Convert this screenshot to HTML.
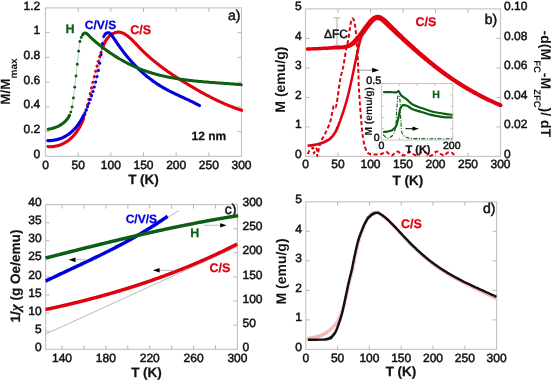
<!DOCTYPE html>
<html><head><meta charset="utf-8"><style>
html,body{margin:0;padding:0;background:#fff;}
svg{display:block;will-change:transform;font-family:"Liberation Sans",sans-serif;text-rendering:geometricPrecision;-webkit-font-smoothing:antialiased;}
</style></head><body>
<svg width="551" height="380" viewBox="0 0 551 380">
<rect width="551" height="380" fill="#fff"/>
<rect x="45.5" y="7.9" width="196.0" height="148.4" fill="none" stroke="#c6c6c6" stroke-width="1.2"/>
<line x1="78.17" y1="156.3" x2="78.17" y2="152.3" stroke="#b8b8b8" stroke-width="1"/>
<line x1="78.17" y1="7.9" x2="78.17" y2="11.9" stroke="#b8b8b8" stroke-width="1"/>
<line x1="110.83" y1="156.3" x2="110.83" y2="152.3" stroke="#b8b8b8" stroke-width="1"/>
<line x1="110.83" y1="7.9" x2="110.83" y2="11.9" stroke="#b8b8b8" stroke-width="1"/>
<line x1="143.50" y1="156.3" x2="143.50" y2="152.3" stroke="#b8b8b8" stroke-width="1"/>
<line x1="143.50" y1="7.9" x2="143.50" y2="11.9" stroke="#b8b8b8" stroke-width="1"/>
<line x1="176.17" y1="156.3" x2="176.17" y2="152.3" stroke="#b8b8b8" stroke-width="1"/>
<line x1="176.17" y1="7.9" x2="176.17" y2="11.9" stroke="#b8b8b8" stroke-width="1"/>
<line x1="208.83" y1="156.3" x2="208.83" y2="152.3" stroke="#b8b8b8" stroke-width="1"/>
<line x1="208.83" y1="7.9" x2="208.83" y2="11.9" stroke="#b8b8b8" stroke-width="1"/>
<line x1="45.5" y1="131.57" x2="49.5" y2="131.57" stroke="#b8b8b8" stroke-width="1"/>
<line x1="241.5" y1="131.57" x2="237.5" y2="131.57" stroke="#b8b8b8" stroke-width="1"/>
<line x1="45.5" y1="106.83" x2="49.5" y2="106.83" stroke="#b8b8b8" stroke-width="1"/>
<line x1="241.5" y1="106.83" x2="237.5" y2="106.83" stroke="#b8b8b8" stroke-width="1"/>
<line x1="45.5" y1="82.10" x2="49.5" y2="82.10" stroke="#b8b8b8" stroke-width="1"/>
<line x1="241.5" y1="82.10" x2="237.5" y2="82.10" stroke="#b8b8b8" stroke-width="1"/>
<line x1="45.5" y1="57.37" x2="49.5" y2="57.37" stroke="#b8b8b8" stroke-width="1"/>
<line x1="241.5" y1="57.37" x2="237.5" y2="57.37" stroke="#b8b8b8" stroke-width="1"/>
<line x1="45.5" y1="32.63" x2="49.5" y2="32.63" stroke="#b8b8b8" stroke-width="1"/>
<line x1="241.5" y1="32.63" x2="237.5" y2="32.63" stroke="#b8b8b8" stroke-width="1"/>
<text x="45.50" y="169.20" font-size="12" text-anchor="middle" font-weight="normal" fill="#111" stroke="#111" stroke-width="0.5" >0</text>
<text x="78.17" y="169.20" font-size="12" text-anchor="middle" font-weight="normal" fill="#111" stroke="#111" stroke-width="0.5" >50</text>
<text x="110.83" y="169.20" font-size="12" text-anchor="middle" font-weight="normal" fill="#111" stroke="#111" stroke-width="0.5" >100</text>
<text x="143.50" y="169.20" font-size="12" text-anchor="middle" font-weight="normal" fill="#111" stroke="#111" stroke-width="0.5" >150</text>
<text x="176.17" y="169.20" font-size="12" text-anchor="middle" font-weight="normal" fill="#111" stroke="#111" stroke-width="0.5" >200</text>
<text x="208.83" y="169.20" font-size="12" text-anchor="middle" font-weight="normal" fill="#111" stroke="#111" stroke-width="0.5" >250</text>
<text x="241.50" y="169.20" font-size="12" text-anchor="middle" font-weight="normal" fill="#111" stroke="#111" stroke-width="0.5" >300</text>
<text x="40.30" y="157.90" font-size="12" text-anchor="end" font-weight="normal" fill="#111" stroke="#111" stroke-width="0.5" >0</text>
<text x="40.30" y="133.17" font-size="12" text-anchor="end" font-weight="normal" fill="#111" stroke="#111" stroke-width="0.5" >0.2</text>
<text x="40.30" y="108.43" font-size="12" text-anchor="end" font-weight="normal" fill="#111" stroke="#111" stroke-width="0.5" >0.4</text>
<text x="40.30" y="83.70" font-size="12" text-anchor="end" font-weight="normal" fill="#111" stroke="#111" stroke-width="0.5" >0.6</text>
<text x="40.30" y="58.97" font-size="12" text-anchor="end" font-weight="normal" fill="#111" stroke="#111" stroke-width="0.5" >0.8</text>
<text x="40.30" y="34.23" font-size="12" text-anchor="end" font-weight="normal" fill="#111" stroke="#111" stroke-width="0.5" >1</text>
<text x="40.30" y="9.50" font-size="12" text-anchor="end" font-weight="normal" fill="#111" stroke="#111" stroke-width="0.5" >1.2</text>
<text x="143.50" y="184.30" font-size="13.5" text-anchor="middle" font-weight="bold" fill="#111" stroke="#111" stroke-width="0.25" >T (K)</text>
<text transform="translate(9.6,81.5) rotate(-90)" font-size="13.5" font-weight="bold" text-anchor="middle" fill="#111">M/M<tspan font-size="10" dy="7">max</tspan></text>
<text x="240.50" y="20.40" font-size="14" text-anchor="end" font-weight="normal" fill="#111" stroke="#111" stroke-width="0.5" >a)</text>
<text x="208.80" y="140.20" font-size="12" text-anchor="middle" font-weight="bold" fill="#111" stroke="#111" stroke-width="0.25" >12 nm</text>
<text x="65.50" y="32.60" font-size="12.5" text-anchor="start" font-weight="bold" fill="#0b5e12" stroke="#0b5e12" stroke-width="0.25" >H</text>
<text x="84.80" y="28.60" font-size="12" text-anchor="start" font-weight="bold" fill="#0000dd" stroke="#0000dd" stroke-width="0.25" >C/V/S</text>
<text x="130.20" y="33.60" font-size="12.5" text-anchor="start" font-weight="bold" fill="#e0000f" stroke="#e0000f" stroke-width="0.25" >C/S</text>
<path d="M48.0,146.6 L48.5,146.7 L49.1,146.7 L49.6,146.7 L50.2,146.7 L50.7,146.7 L51.2,146.7 L51.8,146.6 L52.3,146.6 L52.8,146.6 L53.3,146.5 L53.8,146.5 L54.3,146.4 L54.8,146.3 L55.3,146.2 L55.8,146.1 L56.3,146.0 L56.8,145.9 L57.3,145.8 L57.8,145.7 L58.2,145.5 L58.7,145.4 L59.2,145.3 L59.6,145.1 L60.1,144.9 L60.6,144.8 L61.0,144.6 L61.5,144.4 L61.9,144.2 L62.3,144.0 L62.8,143.8 L63.2,143.6 L63.6,143.4 L64.1,143.2 L64.5,143.0 L64.9,142.7 L65.3,142.5 L65.7,142.2 L66.1,142.0 L66.5,141.7 L66.9,141.5 L67.3,141.2 L67.7,140.9 L68.1,140.6 L68.5,140.4 L68.9,140.1 L69.2,139.8 L69.6,139.5 L70.0,139.2 L70.3,138.8 L70.7,138.5 L71.0,138.2 L71.4,137.9 L71.7,137.5 L72.1,137.2 L72.4,136.9 L72.8,136.5 L73.1,136.2 L73.4,135.8 L73.7,135.5 L74.1,135.1 L74.4,134.7 L74.7,134.4 L75.0,134.0 L75.3,133.6 L75.6,133.2 L75.9,132.8 L76.2,132.5 L76.5,132.1 L76.8,131.7 L77.0,131.3 L77.3,130.9 L77.6,130.5 L77.8,130.1 L78.1,129.7 L78.4,129.2 L78.6,128.8 L78.9,128.4 L79.1,128.0 L79.4,127.6 L79.6,127.1 L79.8,126.7 L80.1,126.3 L80.3,125.8 L80.5,125.4 L80.7,125.0 L81.0,124.5 L81.2,124.1 L81.4,123.7 L81.6,123.2 L81.8,122.8 L82.0,122.3 L82.2,121.9 L82.4,121.4 L82.6,121.0 L82.8,120.5 L82.9,120.1 L83.1,119.6 L83.3,119.1 L83.5,118.7 L83.6,118.2 L83.8,117.8 L84.0,117.3 L84.1,116.8 L84.3,116.4 L84.4,115.9 L84.6,115.4 L84.8,115.0 L84.9,114.5 L85.1,114.0 L85.2,113.6 L85.3,113.1 L85.5,112.6 L85.6,112.1 L85.8,111.7 L85.9,111.2 L86.0,110.7 L86.2,110.2 L86.3,109.8 L86.4,109.3 L86.6,108.8 L86.7,108.3 L86.8,107.9 L86.9,107.4 L87.1,106.9 L87.2,106.4 L87.3,105.9 L87.4,105.5 L87.5,105.0 L87.7,104.5 L87.8,104.0 L87.9,103.5 L88.0,103.1 L88.1,102.6 L88.2,102.1 L88.4,101.6 L88.5,101.2 L88.6,100.7 L88.7,100.2 L88.8,99.7 L88.9,99.2 L89.0,98.8 L89.2,98.3 L89.3,97.8 L89.4,97.3 L89.5,96.9 L89.6,96.4 L89.7,95.9 L89.8,95.4 L89.9,95.0 L90.1,94.5 L90.2,94.0 L90.3,93.5 L90.4,93.1 L90.5,92.6 L90.6,92.1 L90.7,91.6 L90.8,91.2 L90.9,90.7 L91.1,90.2 L91.2,89.7 L91.3,89.3 L91.4,88.8 L91.5,88.3 L91.6,87.8 L91.7,87.4 L91.8,86.9 L91.9,86.4 L92.1,85.9 L92.2,85.5 L92.3,85.0 L92.4,84.5 L92.5,84.1 L92.6,83.6 L92.7,83.1 L92.8,82.6 L93.0,82.2 L93.1,81.7 L93.2,81.2 L93.3,80.8 L93.4,80.3 L93.5,79.8 L93.6,79.3 L93.8,78.9 L93.9,78.4 L94.0,77.9 L94.1,77.4 L94.2,77.0 L94.3,76.5 L94.4,76.0 L94.6,75.6 L94.7,75.1 L94.8,74.6 L94.9,74.1 L95.0,73.7 L95.2,73.2 L95.3,72.7 L95.4,72.3 L95.5,71.8 L95.6,71.3 L95.8,70.8 L95.9,70.4 L96.0,69.9 L96.1,69.4 L96.2,69.0 L96.4,68.5 L96.5,68.0 L96.6,67.5 L96.7,67.1 L96.9,66.6 L97.0,66.1 L97.1,65.7 L97.2,65.2 L97.4,64.7 L97.5,64.2 L97.6,63.8 L97.8,63.3 L97.9,62.8 L98.0,62.3 L98.2,61.9 L98.3,61.4 L98.4,60.9 L98.6,60.5 L98.7,60.0 L98.8,59.5 L99.0,59.0 L99.1,58.6 L99.3,58.1 L99.4,57.6 L99.5,57.1 L99.7,56.7 L99.8,56.2 L100.0,55.7 L100.1,55.2 L100.3,54.8 L100.4,54.3 L100.5,53.8 L100.7,53.3 L100.8,52.9 L101.0,52.4 L101.1,51.9 L101.3,51.4 L101.4,51.0 L101.6,50.5 L101.8,50.0 L101.9,49.5 L102.1,49.1 L102.2,48.6 L102.4,48.1 L102.6,47.6 L102.7,47.2 L102.9,46.7 L103.1,46.2 L103.3,45.8 L103.5,45.3 L103.7,44.9 L103.9,44.4 L104.1,43.9 L104.3,43.5 L104.5,43.1 L104.7,42.6 L104.9,42.2 L105.2,41.8 L105.4,41.3 L105.6,40.9 L105.9,40.5 L106.1,40.1 L106.4,39.7 L106.7,39.3 L107.0,38.9 L107.3,38.5 L107.6,38.1 L107.9,37.8 L108.2,37.4 L108.5,37.0 L108.9,36.7 L109.2,36.3 L109.6,36.0 L109.9,35.7 L110.3,35.4 L110.7,35.1 L111.1,34.8 L111.5,34.5 L111.9,34.2 L112.3,34.0 L112.7,33.7 L113.2,33.5 L113.6,33.3 L114.0,33.1 L114.5,32.9 L114.9,32.7 L115.4,32.6 L115.8,32.4 L116.3,32.3 L116.8,32.2 L117.2,32.2 L117.7,32.1 L118.1,32.1 L118.6,32.1 L119.1,32.1 L119.5,32.2 L120.0,32.2 L120.4,32.3 L120.9,32.4 L121.3,32.6 L121.8,32.7 L122.2,32.9 L122.7,33.0 L123.1,33.2 L123.5,33.5 L124.0,33.7 L124.4,33.9 L124.8,34.2 L125.2,34.4 L125.7,34.7 L126.1,35.0 L126.5,35.2 L126.9,35.5 L127.3,35.8 L127.7,36.1 L128.1,36.4 L128.5,36.7 L128.9,37.0 L129.2,37.4 L129.6,37.7 L130.0,38.0 L130.4,38.3 L130.7,38.7 L131.1,39.0 L131.5,39.3 L131.8,39.7 L132.2,40.0 L132.5,40.4 L132.9,40.7 L133.2,41.1 L133.6,41.4 L133.9,41.8 L134.3,42.1 L134.6,42.5 L135.0,42.8 L135.3,43.2 L135.6,43.6 L136.0,43.9 L136.3,44.3 L136.7,44.6 L137.0,45.0 L137.3,45.4 L137.7,45.7 L138.0,46.1 L138.3,46.4 L138.7,46.8 L139.0,47.2 L139.4,47.5 L139.7,47.9 L140.0,48.2 L140.4,48.6 L140.7,48.9 L141.1,49.3 L141.4,49.6 L141.8,50.0 L142.1,50.3 L142.5,50.7 L142.8,51.0 L143.2,51.4 L143.5,51.7 L143.9,52.0 L144.2,52.4 L144.6,52.7 L145.0,53.1 L145.3,53.4 L145.7,53.7 L146.0,54.1 L146.4,54.4 L146.7,54.7 L147.1,55.1 L147.5,55.4 L147.8,55.7 L148.2,56.1 L148.6,56.4 L148.9,56.7 L149.3,57.0 L149.7,57.4 L150.0,57.7 L150.4,58.0 L150.8,58.3 L151.1,58.6 L151.5,59.0 L151.9,59.3 L152.3,59.6 L152.6,59.9 L153.0,60.2 L153.4,60.5 L153.8,60.8 L154.1,61.2 L154.5,61.5 L154.9,61.8 L155.3,62.1 L155.7,62.4 L156.0,62.7 L156.4,63.0 L156.8,63.3 L157.2,63.6 L157.6,63.9 L158.0,64.2 L158.3,64.5 L158.7,64.8 L159.1,65.1 L159.5,65.4 L159.9,65.7 L160.3,66.0 L160.7,66.3 L161.1,66.6 L161.4,66.9 L161.8,67.2 L162.2,67.5 L162.6,67.8 L163.0,68.1 L163.4,68.3 L163.8,68.6 L164.2,68.9 L164.6,69.2 L165.0,69.5 L165.4,69.8 L165.8,70.1 L166.2,70.3 L166.6,70.6 L167.0,70.9 L167.4,71.2 L167.8,71.5 L168.2,71.8 L168.6,72.0 L169.0,72.3 L169.4,72.6 L169.8,72.9 L170.2,73.1 L170.6,73.4 L171.0,73.7 L171.4,74.0 L171.8,74.2 L172.2,74.5 L172.6,74.8 L173.0,75.1 L173.4,75.3 L173.8,75.6 L174.2,75.9 L174.7,76.1 L175.1,76.4 L175.5,76.7 L175.9,76.9 L176.3,77.2 L176.7,77.5 L177.1,77.7 L177.5,78.0 L177.9,78.3 L178.3,78.5 L178.8,78.8 L179.2,79.1 L179.6,79.3 L180.0,79.6 L180.4,79.8 L180.8,80.1 L181.2,80.4 L181.7,80.6 L182.1,80.9 L182.5,81.1 L182.9,81.4 L183.3,81.6 L183.7,81.9 L184.1,82.2 L184.6,82.4 L185.0,82.7 L185.4,82.9 L185.8,83.2 L186.2,83.4 L186.7,83.7 L187.1,83.9 L187.5,84.2 L187.9,84.4 L188.3,84.7 L188.8,84.9 L189.2,85.2 L189.6,85.4 L190.0,85.7 L190.4,85.9 L190.9,86.2 L191.3,86.4 L191.7,86.7 L192.1,86.9 L192.5,87.2 L193.0,87.4 L193.4,87.7 L193.8,87.9 L194.2,88.2 L194.6,88.4 L195.1,88.7 L195.5,88.9 L195.9,89.1 L196.3,89.4 L196.8,89.6 L197.2,89.9 L197.6,90.1 L198.0,90.4 L198.5,90.6 L198.9,90.8 L199.3,91.1 L199.7,91.3 L200.2,91.6 L200.6,91.8 L201.0,92.0 L201.4,92.3 L201.9,92.5 L202.3,92.7 L202.7,93.0 L203.2,93.2 L203.6,93.4 L204.0,93.7 L204.4,93.9 L204.9,94.1 L205.3,94.4 L205.7,94.6 L206.2,94.8 L206.6,95.1 L207.0,95.3 L207.4,95.5 L207.9,95.7 L208.3,96.0 L208.7,96.2 L209.2,96.4 L209.6,96.6 L210.0,96.9 L210.5,97.1 L210.9,97.3 L211.3,97.5 L211.8,97.8 L212.2,98.0 L212.7,98.2 L213.1,98.4 L213.5,98.6 L214.0,98.8 L214.4,99.1 L214.8,99.3 L215.3,99.5 L215.7,99.7 L216.2,99.9 L216.6,100.1 L217.0,100.3 L217.5,100.6 L217.9,100.8 L218.4,101.0 L218.8,101.2 L219.2,101.4 L219.7,101.6 L220.1,101.8 L220.6,102.0 L221.0,102.2 L221.5,102.4 L221.9,102.6 L222.3,102.8 L222.8,103.0 L223.2,103.2 L223.7,103.4 L224.1,103.6 L224.6,103.8 L225.0,104.0 L225.5,104.2 L225.9,104.4 L226.4,104.6 L226.8,104.8 L227.3,104.9 L227.7,105.1 L228.2,105.3 L228.6,105.5 L229.1,105.7 L229.5,105.9 L230.0,106.1 L230.5,106.2 L230.9,106.4 L231.4,106.6 L231.8,106.8 L232.3,107.0 L232.7,107.1 L233.2,107.3 L233.7,107.5 L234.1,107.7 L234.6,107.8 L235.0,108.0 L235.5,108.2 L236.0,108.3 L236.4,108.5 L236.9,108.7 L237.4,108.8 L237.8,109.0 L238.3,109.2 L238.8,109.3 L239.2,109.5 L239.7,109.6 L240.2,109.8 L240.6,110.0 L241.1,110.1 L241.6,110.3" fill="none" stroke="#e0000f" stroke-width="0.7" opacity="0.45"/>
<path d="M48.0,146.6 L48.5,146.7 L49.1,146.7 L49.6,146.7 L50.2,146.7 L50.7,146.7 L51.2,146.7 L51.8,146.6 L52.3,146.6 L52.8,146.6 L53.3,146.5 L53.8,146.5 L54.3,146.4 L54.8,146.3 L55.3,146.2 L55.8,146.1 L56.3,146.0 L56.8,145.9 L57.3,145.8 L57.8,145.7 L58.2,145.5 L58.7,145.4 L59.2,145.3 L59.6,145.1 L60.1,144.9 L60.6,144.8 L61.0,144.6 L61.5,144.4 L61.9,144.2 L62.3,144.0 L62.8,143.8 L63.2,143.6 L63.6,143.4 L64.1,143.2 L64.5,143.0 L64.9,142.7 L65.3,142.5 L65.7,142.2 L66.1,142.0 L66.5,141.7 L66.9,141.5 L67.3,141.2 L67.7,140.9 L68.1,140.6 L68.5,140.4 L68.9,140.1 L69.2,139.8 L69.6,139.5 L70.0,139.2 L70.3,138.8 L70.7,138.5 L71.0,138.2 L71.4,137.9 L71.7,137.5 L72.1,137.2 L72.4,136.9 L72.8,136.5 L73.1,136.2 L73.4,135.8 L73.7,135.5 L74.1,135.1 L74.4,134.7 L74.7,134.4 L75.0,134.0 L75.3,133.6 L75.6,133.2 L75.9,132.8 L76.2,132.5 L76.5,132.1 L76.8,131.7 L77.0,131.3 L77.3,130.9 L77.6,130.5 L77.8,130.1 L78.1,129.7 L78.4,129.2 L78.6,128.8 L78.9,128.4 L79.1,128.0 L79.4,127.6 L79.6,127.1 L79.8,126.7 L80.1,126.3 L80.3,125.8 L80.5,125.4 L80.7,125.0 L81.0,124.5 L81.2,124.1 L81.4,123.7 L81.6,123.2 L81.8,122.8 L82.0,122.3 L82.2,121.9 L82.4,121.4 L82.6,121.0 L82.8,120.5 L82.9,120.1 L83.1,119.6 L83.3,119.1 L83.5,118.7" fill="none" stroke="#e0000f" stroke-width="3.1" stroke-linecap="round"/>
<g fill="#e0000f"><circle cx="83.50" cy="118.59" r="1.55"/><circle cx="84.85" cy="114.67" r="1.55"/><circle cx="86.20" cy="110.11" r="1.55"/><circle cx="87.55" cy="104.93" r="1.55"/><circle cx="88.90" cy="99.35" r="1.55"/><circle cx="90.25" cy="93.64" r="1.55"/><circle cx="91.60" cy="87.90" r="1.55"/><circle cx="92.95" cy="82.20" r="1.55"/><circle cx="94.30" cy="76.63" r="1.55"/><circle cx="95.65" cy="71.25" r="1.55"/><circle cx="97.00" cy="66.10" r="1.55"/><circle cx="98.35" cy="61.21" r="1.55"/><circle cx="99.70" cy="56.58" r="1.55"/><circle cx="101.05" cy="52.20" r="1.55"/><circle cx="102.40" cy="48.12" r="1.55"/></g>
<path d="M103.3,45.8 L103.5,45.3 L103.7,44.9 L103.9,44.4 L104.1,43.9 L104.3,43.5 L104.5,43.1 L104.7,42.6 L104.9,42.2 L105.2,41.8 L105.4,41.3 L105.6,40.9 L105.9,40.5 L106.1,40.1 L106.4,39.7 L106.7,39.3 L107.0,38.9 L107.3,38.5 L107.6,38.1 L107.9,37.8 L108.2,37.4 L108.5,37.0 L108.9,36.7 L109.2,36.3 L109.6,36.0 L109.9,35.7 L110.3,35.4 L110.7,35.1 L111.1,34.8 L111.5,34.5 L111.9,34.2 L112.3,34.0 L112.7,33.7 L113.2,33.5 L113.6,33.3 L114.0,33.1 L114.5,32.9 L114.9,32.7 L115.4,32.6 L115.8,32.4 L116.3,32.3 L116.8,32.2 L117.2,32.2 L117.7,32.1 L118.1,32.1 L118.6,32.1 L119.1,32.1 L119.5,32.2 L120.0,32.2 L120.4,32.3 L120.9,32.4 L121.3,32.6 L121.8,32.7 L122.2,32.9 L122.7,33.0 L123.1,33.2 L123.5,33.5 L124.0,33.7 L124.4,33.9 L124.8,34.2 L125.2,34.4 L125.7,34.7 L126.1,35.0 L126.5,35.2 L126.9,35.5 L127.3,35.8 L127.7,36.1 L128.1,36.4 L128.5,36.7 L128.9,37.0 L129.2,37.4 L129.6,37.7 L130.0,38.0 L130.4,38.3 L130.7,38.7 L131.1,39.0 L131.5,39.3 L131.8,39.7 L132.2,40.0 L132.5,40.4 L132.9,40.7 L133.2,41.1 L133.6,41.4 L133.9,41.8 L134.3,42.1 L134.6,42.5 L135.0,42.8 L135.3,43.2 L135.6,43.6 L136.0,43.9 L136.3,44.3 L136.7,44.6 L137.0,45.0 L137.3,45.4 L137.7,45.7 L138.0,46.1 L138.3,46.4 L138.7,46.8 L139.0,47.2 L139.4,47.5 L139.7,47.9 L140.0,48.2 L140.4,48.6 L140.7,48.9 L141.1,49.3 L141.4,49.6 L141.8,50.0 L142.1,50.3 L142.5,50.7 L142.8,51.0 L143.2,51.4 L143.5,51.7 L143.9,52.0 L144.2,52.4 L144.6,52.7 L145.0,53.1 L145.3,53.4 L145.7,53.7 L146.0,54.1 L146.4,54.4 L146.7,54.7 L147.1,55.1 L147.5,55.4 L147.8,55.7 L148.2,56.1 L148.6,56.4 L148.9,56.7 L149.3,57.0 L149.7,57.4 L150.0,57.7 L150.4,58.0 L150.8,58.3 L151.1,58.6 L151.5,59.0 L151.9,59.3 L152.3,59.6 L152.6,59.9 L153.0,60.2 L153.4,60.5 L153.8,60.8 L154.1,61.2 L154.5,61.5 L154.9,61.8 L155.3,62.1 L155.7,62.4 L156.0,62.7 L156.4,63.0 L156.8,63.3 L157.2,63.6 L157.6,63.9 L158.0,64.2 L158.3,64.5 L158.7,64.8 L159.1,65.1 L159.5,65.4 L159.9,65.7 L160.3,66.0 L160.7,66.3 L161.1,66.6 L161.4,66.9 L161.8,67.2 L162.2,67.5 L162.6,67.8 L163.0,68.1 L163.4,68.3 L163.8,68.6 L164.2,68.9 L164.6,69.2 L165.0,69.5 L165.4,69.8 L165.8,70.1 L166.2,70.3 L166.6,70.6 L167.0,70.9 L167.4,71.2 L167.8,71.5 L168.2,71.8 L168.6,72.0 L169.0,72.3 L169.4,72.6 L169.8,72.9 L170.2,73.1 L170.6,73.4 L171.0,73.7 L171.4,74.0 L171.8,74.2 L172.2,74.5 L172.6,74.8 L173.0,75.1 L173.4,75.3 L173.8,75.6 L174.2,75.9 L174.7,76.1 L175.1,76.4 L175.5,76.7 L175.9,76.9 L176.3,77.2 L176.7,77.5 L177.1,77.7 L177.5,78.0 L177.9,78.3 L178.3,78.5 L178.8,78.8 L179.2,79.1 L179.6,79.3 L180.0,79.6 L180.4,79.8 L180.8,80.1 L181.2,80.4 L181.7,80.6 L182.1,80.9 L182.5,81.1 L182.9,81.4 L183.3,81.6 L183.7,81.9 L184.1,82.2 L184.6,82.4 L185.0,82.7 L185.4,82.9 L185.8,83.2 L186.2,83.4 L186.7,83.7 L187.1,83.9 L187.5,84.2 L187.9,84.4 L188.3,84.7 L188.8,84.9 L189.2,85.2 L189.6,85.4 L190.0,85.7 L190.4,85.9 L190.9,86.2 L191.3,86.4 L191.7,86.7 L192.1,86.9 L192.5,87.2 L193.0,87.4 L193.4,87.7 L193.8,87.9 L194.2,88.2 L194.6,88.4 L195.1,88.7 L195.5,88.9 L195.9,89.1 L196.3,89.4 L196.8,89.6 L197.2,89.9 L197.6,90.1 L198.0,90.4 L198.5,90.6 L198.9,90.8 L199.3,91.1 L199.7,91.3 L200.2,91.6 L200.6,91.8 L201.0,92.0 L201.4,92.3 L201.9,92.5 L202.3,92.7 L202.7,93.0 L203.2,93.2 L203.6,93.4 L204.0,93.7 L204.4,93.9 L204.9,94.1 L205.3,94.4 L205.7,94.6 L206.2,94.8 L206.6,95.1 L207.0,95.3 L207.4,95.5 L207.9,95.7 L208.3,96.0 L208.7,96.2 L209.2,96.4 L209.6,96.6 L210.0,96.9 L210.5,97.1 L210.9,97.3 L211.3,97.5 L211.8,97.8 L212.2,98.0 L212.7,98.2 L213.1,98.4 L213.5,98.6 L214.0,98.8 L214.4,99.1 L214.8,99.3 L215.3,99.5 L215.7,99.7 L216.2,99.9 L216.6,100.1 L217.0,100.3 L217.5,100.6 L217.9,100.8 L218.4,101.0 L218.8,101.2 L219.2,101.4 L219.7,101.6 L220.1,101.8 L220.6,102.0 L221.0,102.2 L221.5,102.4 L221.9,102.6 L222.3,102.8 L222.8,103.0 L223.2,103.2 L223.7,103.4 L224.1,103.6 L224.6,103.8 L225.0,104.0 L225.5,104.2 L225.9,104.4 L226.4,104.6 L226.8,104.8 L227.3,104.9 L227.7,105.1 L228.2,105.3 L228.6,105.5 L229.1,105.7 L229.5,105.9 L230.0,106.1 L230.5,106.2 L230.9,106.4 L231.4,106.6 L231.8,106.8 L232.3,107.0 L232.7,107.1 L233.2,107.3 L233.7,107.5 L234.1,107.7 L234.6,107.8 L235.0,108.0 L235.5,108.2 L236.0,108.3 L236.4,108.5 L236.9,108.7 L237.4,108.8 L237.8,109.0 L238.3,109.2 L238.8,109.3 L239.2,109.5 L239.7,109.6 L240.2,109.8 L240.6,110.0 L241.1,110.1 L241.6,110.3" fill="none" stroke="#e0000f" stroke-width="3.1" stroke-linecap="round"/>
<path d="M47.7,140.6 L48.3,140.6 L48.8,140.6 L49.2,140.6 L49.7,140.6 L50.2,140.6 L50.7,140.5 L51.2,140.5 L51.7,140.5 L52.1,140.4 L52.6,140.4 L53.1,140.3 L53.5,140.2 L54.0,140.2 L54.4,140.1 L54.9,140.0 L55.3,139.9 L55.8,139.9 L56.2,139.8 L56.7,139.7 L57.1,139.6 L57.5,139.5 L57.9,139.3 L58.4,139.2 L58.8,139.1 L59.2,139.0 L59.6,138.8 L60.0,138.7 L60.4,138.6 L60.8,138.4 L61.2,138.3 L61.6,138.1 L62.0,138.0 L62.4,137.8 L62.8,137.6 L63.1,137.4 L63.5,137.3 L63.9,137.1 L64.3,136.9 L64.6,136.7 L65.0,136.5 L65.4,136.3 L65.7,136.1 L66.1,135.9 L66.4,135.7 L66.8,135.5 L67.1,135.3 L67.5,135.0 L67.8,134.8 L68.1,134.6 L68.5,134.4 L68.8,134.1 L69.1,133.9 L69.4,133.6 L69.8,133.4 L70.1,133.1 L70.4,132.9 L70.7,132.6 L71.0,132.4 L71.3,132.1 L71.6,131.8 L71.9,131.5 L72.2,131.3 L72.5,131.0 L72.8,130.7 L73.1,130.4 L73.4,130.1 L73.7,129.8 L74.0,129.5 L74.3,129.3 L74.5,129.0 L74.8,128.6 L75.1,128.3 L75.4,128.0 L75.6,127.7 L75.9,127.4 L76.2,127.1 L76.4,126.8 L76.7,126.4 L76.9,126.1 L77.2,125.8 L77.4,125.5 L77.7,125.1 L77.9,124.8 L78.2,124.5 L78.4,124.1 L78.7,123.8 L78.9,123.4 L79.1,123.1 L79.4,122.7 L79.6,122.4 L79.8,122.0 L80.1,121.7 L80.3,121.3 L80.5,121.0 L80.7,120.6 L80.9,120.3 L81.2,119.9 L81.4,119.5 L81.6,119.2 L81.8,118.8 L82.0,118.4 L82.2,118.0 L82.4,117.7 L82.6,117.3 L82.8,116.9 L83.0,116.5 L83.2,116.2 L83.4,115.8 L83.6,115.4 L83.8,115.0 L84.0,114.6 L84.2,114.2 L84.4,113.9 L84.6,113.5 L84.8,113.1 L84.9,112.7 L85.1,112.3 L85.3,111.9 L85.5,111.5 L85.7,111.1 L85.8,110.7 L86.0,110.3 L86.2,109.9 L86.4,109.5 L86.5,109.1 L86.7,108.7 L86.9,108.3 L87.0,107.9 L87.2,107.5 L87.4,107.1 L87.5,106.7 L87.7,106.3 L87.9,105.9 L88.0,105.5 L88.2,105.1 L88.3,104.7 L88.5,104.3 L88.6,103.9 L88.8,103.5 L88.9,103.1 L89.1,102.7 L89.2,102.3 L89.4,101.9 L89.5,101.5 L89.7,101.1 L89.8,100.7 L90.0,100.3 L90.1,99.9 L90.3,99.5 L90.4,99.1 L90.6,98.7 L90.7,98.3 L90.8,97.9 L91.0,97.5 L91.1,97.1 L91.2,96.7 L91.4,96.3 L91.5,95.9 L91.7,95.5 L91.8,95.1 L91.9,94.7 L92.0,94.3 L92.2,93.9 L92.3,93.5 L92.4,93.1 L92.6,92.7 L92.7,92.3 L92.8,91.9 L92.9,91.5 L93.1,91.1 L93.2,90.7 L93.3,90.3 L93.4,89.9 L93.6,89.5 L93.7,89.1 L93.8,88.7 L93.9,88.3 L94.0,87.9 L94.2,87.5 L94.3,87.1 L94.4,86.7 L94.5,86.3 L94.6,85.9 L94.7,85.5 L94.8,85.1 L94.9,84.7 L95.1,84.3 L95.2,83.9 L95.3,83.5 L95.4,83.1 L95.5,82.7 L95.6,82.3 L95.7,81.9 L95.8,81.5 L95.9,81.1 L96.0,80.7 L96.1,80.2 L96.2,79.8 L96.3,79.4 L96.4,79.0 L96.5,78.6 L96.6,78.2 L96.7,77.8 L96.8,77.4 L96.9,77.0 L97.0,76.6 L97.1,76.2 L97.2,75.8 L97.3,75.4 L97.4,75.0 L97.5,74.6 L97.6,74.2 L97.6,73.8 L97.7,73.3 L97.8,72.9 L97.9,72.5 L98.0,72.1 L98.1,71.7 L98.2,71.3 L98.3,70.9 L98.3,70.5 L98.4,70.1 L98.5,69.6 L98.6,69.2 L98.7,68.8 L98.8,68.4 L98.8,68.0 L98.9,67.6 L99.0,67.2 L99.1,66.7 L99.1,66.3 L99.2,65.9 L99.3,65.5 L99.4,65.1 L99.5,64.7 L99.5,64.2 L99.6,63.8 L99.7,63.4 L99.7,63.0 L99.8,62.6 L99.9,62.1 L100.0,61.7 L100.0,61.3 L100.1,60.9 L100.2,60.4 L100.2,60.0 L100.3,59.6 L100.4,59.2 L100.4,58.7 L100.5,58.3 L100.6,57.9 L100.6,57.4 L100.7,57.0 L100.8,56.6 L100.8,56.1 L100.9,55.7 L101.0,55.3 L101.0,54.8 L101.1,54.4 L101.1,54.0 L101.2,53.5 L101.3,53.1 L101.3,52.7 L101.4,52.2 L101.4,51.8 L101.5,51.4 L101.5,50.9 L101.6,50.5 L101.7,50.0 L101.7,49.6 L101.8,49.1 L101.8,48.7 L101.9,48.2 L101.9,47.8 L102.0,47.4 L102.0,46.9 L102.1,46.5 L102.1,46.0 L102.2,45.6 L102.2,45.1 L102.3,44.6 L102.3,44.2 L102.4,43.7 L102.4,43.3 L102.5,42.8 L102.5,42.4 L102.6,41.9 L102.6,41.5 L102.7,41.0 L102.8,40.6 L102.8,40.2 L102.9,39.7 L103.0,39.3 L103.1,38.9 L103.1,38.5 L103.2,38.1 L103.4,37.7 L103.5,37.3 L103.6,36.9 L103.7,36.6 L103.9,36.2 L104.0,35.9 L104.2,35.5 L104.4,35.2 L104.5,34.9 L104.7,34.7 L105.0,34.4 L105.2,34.1 L105.4,33.9 L105.7,33.7 L105.9,33.5 L106.2,33.3 L106.5,33.1 L106.9,33.0 L107.2,32.9 L107.5,32.8 L107.9,32.7 L108.2,32.7 L108.5,32.8 L108.9,32.8 L109.2,32.9 L109.5,33.1 L109.8,33.3 L110.2,33.5 L110.5,33.8 L110.8,34.1 L111.0,34.4 L111.3,34.7 L111.6,35.1 L111.9,35.5 L112.2,35.9 L112.4,36.2 L112.7,36.6 L113.0,37.0 L113.2,37.4 L113.5,37.8 L113.8,38.2 L114.0,38.6 L114.3,38.9 L114.5,39.3 L114.8,39.7 L115.0,40.1 L115.3,40.4 L115.5,40.8 L115.8,41.2 L116.0,41.5 L116.3,41.9 L116.5,42.2 L116.7,42.6 L117.0,42.9 L117.2,43.3 L117.5,43.6 L117.7,44.0 L117.9,44.3 L118.2,44.7 L118.4,45.0 L118.7,45.4 L118.9,45.7 L119.1,46.0 L119.4,46.4 L119.6,46.7 L119.9,47.1 L120.1,47.4 L120.3,47.7 L120.6,48.1 L120.8,48.4 L121.1,48.7 L121.3,49.1 L121.6,49.4 L121.8,49.7 L122.1,50.1 L122.3,50.4 L122.6,50.7 L122.8,51.1 L123.1,51.4 L123.3,51.7 L123.6,52.1 L123.8,52.4 L124.1,52.7 L124.3,53.1 L124.6,53.4 L124.9,53.7 L125.1,54.0 L125.4,54.4 L125.7,54.7 L125.9,55.0 L126.2,55.4 L126.4,55.7 L126.7,56.0 L127.0,56.3 L127.2,56.7 L127.5,57.0 L127.8,57.3 L128.1,57.6 L128.3,57.9 L128.6,58.3 L128.9,58.6 L129.2,58.9 L129.4,59.2 L129.7,59.6 L130.0,59.9 L130.3,60.2 L130.5,60.5 L130.8,60.8 L131.1,61.1 L131.4,61.5 L131.7,61.8 L132.0,62.1 L132.2,62.4 L132.5,62.7 L132.8,63.0 L133.1,63.3 L133.4,63.6 L133.7,63.9 L134.0,64.3 L134.3,64.6 L134.6,64.9 L134.9,65.2 L135.2,65.5 L135.5,65.8 L135.8,66.1 L136.0,66.4 L136.3,66.7 L136.6,67.0 L136.9,67.3 L137.2,67.6 L137.6,67.9 L137.9,68.2 L138.2,68.5 L138.5,68.8 L138.8,69.1 L139.1,69.4 L139.4,69.7 L139.7,70.0 L140.0,70.3 L140.3,70.6 L140.6,70.8 L140.9,71.1 L141.3,71.4 L141.6,71.7 L141.9,72.0 L142.2,72.3 L142.5,72.6 L142.8,72.8 L143.1,73.1 L143.5,73.4 L143.8,73.7 L144.1,74.0 L144.4,74.2 L144.8,74.5 L145.1,74.8 L145.4,75.1 L145.7,75.4 L146.1,75.6 L146.4,75.9 L146.7,76.2 L147.0,76.4 L147.4,76.7 L147.7,77.0 L148.0,77.2 L148.4,77.5 L148.7,77.8 L149.0,78.0 L149.4,78.3 L149.7,78.6 L150.0,78.8 L150.4,79.1 L150.7,79.3 L151.1,79.6 L151.4,79.8 L151.7,80.1 L152.1,80.4 L152.4,80.6 L152.8,80.9 L153.1,81.1 L153.4,81.4 L153.8,81.6 L154.1,81.8 L154.5,82.1 L154.8,82.3 L155.2,82.6 L155.5,82.8 L155.9,83.1 L156.2,83.3 L156.6,83.5 L156.9,83.8 L157.3,84.0 L157.6,84.2 L158.0,84.5 L158.4,84.7 L158.7,84.9 L159.1,85.1 L159.4,85.4 L159.8,85.6 L160.1,85.8 L160.5,86.0 L160.9,86.3 L161.2,86.5 L161.6,86.7 L162.0,86.9 L162.3,87.1 L162.7,87.3 L163.1,87.6 L163.4,87.8 L163.8,88.0 L164.2,88.2 L164.5,88.4 L164.9,88.6 L165.3,88.8 L165.6,89.0 L166.0,89.2 L166.4,89.4 L166.7,89.6 L167.1,89.8 L167.5,90.0 L167.9,90.2 L168.2,90.4 L168.6,90.6 L169.0,90.8 L169.4,91.0 L169.7,91.2 L170.1,91.4 L170.5,91.5 L170.9,91.7 L171.3,91.9 L171.6,92.1 L172.0,92.3 L172.4,92.5 L172.8,92.7 L173.1,92.9 L173.5,93.0 L173.9,93.2 L174.3,93.4 L174.7,93.6 L175.1,93.8 L175.4,94.0 L175.8,94.1 L176.2,94.3 L176.6,94.5 L177.0,94.7 L177.3,94.9 L177.7,95.0 L178.1,95.2 L178.5,95.4 L178.9,95.6 L179.3,95.8 L179.6,95.9 L180.0,96.1 L180.4,96.3 L180.8,96.5 L181.2,96.7 L181.6,96.8 L182.0,97.0 L182.3,97.2 L182.7,97.4 L183.1,97.5 L183.5,97.7 L183.9,97.9 L184.3,98.1 L184.6,98.3 L185.0,98.4 L185.4,98.6 L185.8,98.8 L186.2,99.0 L186.6,99.1 L187.0,99.3 L187.3,99.5 L187.7,99.7 L188.1,99.9 L188.5,100.0 L188.9,100.2 L189.3,100.4 L189.6,100.6 L190.0,100.8 L190.4,101.0 L190.8,101.1 L191.2,101.3 L191.5,101.5 L191.9,101.7 L192.3,101.9 L192.7,102.1 L193.1,102.2 L193.5,102.4 L193.8,102.6 L194.2,102.8 L194.6,103.0 L195.0,103.2 L195.3,103.4 L195.7,103.6 L196.1,103.8 L196.5,104.0 L196.9,104.2 L197.2,104.4 L197.6,104.6 L198.0,104.7 L198.4,104.9 L198.7,105.1 L199.1,105.3 L199.5,105.6" fill="none" stroke="#0000dd" stroke-width="0.7" opacity="0.45"/>
<path d="M47.7,140.6 L48.3,140.6 L48.8,140.6 L49.2,140.6 L49.7,140.6 L50.2,140.6 L50.7,140.5 L51.2,140.5 L51.7,140.5 L52.1,140.4 L52.6,140.4 L53.1,140.3 L53.5,140.2 L54.0,140.2 L54.4,140.1 L54.9,140.0 L55.3,139.9 L55.8,139.9 L56.2,139.8 L56.7,139.7 L57.1,139.6 L57.5,139.5 L57.9,139.3 L58.4,139.2 L58.8,139.1 L59.2,139.0 L59.6,138.8 L60.0,138.7 L60.4,138.6 L60.8,138.4 L61.2,138.3 L61.6,138.1 L62.0,138.0 L62.4,137.8 L62.8,137.6 L63.1,137.4 L63.5,137.3 L63.9,137.1 L64.3,136.9 L64.6,136.7 L65.0,136.5 L65.4,136.3 L65.7,136.1 L66.1,135.9 L66.4,135.7 L66.8,135.5 L67.1,135.3 L67.5,135.0 L67.8,134.8 L68.1,134.6 L68.5,134.4 L68.8,134.1 L69.1,133.9 L69.4,133.6 L69.8,133.4 L70.1,133.1 L70.4,132.9 L70.7,132.6 L71.0,132.4 L71.3,132.1 L71.6,131.8 L71.9,131.5 L72.2,131.3 L72.5,131.0 L72.8,130.7 L73.1,130.4 L73.4,130.1 L73.7,129.8 L74.0,129.5 L74.3,129.3 L74.5,129.0 L74.8,128.6 L75.1,128.3 L75.4,128.0 L75.6,127.7 L75.9,127.4 L76.2,127.1 L76.4,126.8 L76.7,126.4 L76.9,126.1 L77.2,125.8 L77.4,125.5 L77.7,125.1 L77.9,124.8 L78.2,124.5 L78.4,124.1 L78.7,123.8 L78.9,123.4 L79.1,123.1 L79.4,122.7 L79.6,122.4 L79.8,122.0 L80.1,121.7 L80.3,121.3 L80.5,121.0 L80.7,120.6 L80.9,120.3 L81.2,119.9 L81.4,119.5 L81.6,119.2 L81.8,118.8 L82.0,118.4 L82.2,118.0 L82.4,117.7 L82.6,117.3 L82.8,116.9 L83.0,116.5 L83.2,116.2 L83.4,115.8" fill="none" stroke="#0000dd" stroke-width="3.1" stroke-linecap="round"/>
<g fill="#0000dd"><circle cx="83.50" cy="115.65" r="1.55"/><circle cx="84.85" cy="112.89" r="1.55"/><circle cx="86.20" cy="109.91" r="1.55"/><circle cx="87.55" cy="106.69" r="1.55"/><circle cx="88.90" cy="103.23" r="1.55"/><circle cx="90.25" cy="99.55" r="1.55"/><circle cx="91.60" cy="95.64" r="1.55"/><circle cx="92.95" cy="91.47" r="1.55"/><circle cx="94.30" cy="86.97" r="1.55"/><circle cx="95.65" cy="82.05" r="1.55"/><circle cx="97.00" cy="76.59" r="1.55"/><circle cx="98.35" cy="70.42" r="1.55"/><circle cx="99.70" cy="63.25" r="1.55"/><circle cx="101.05" cy="54.59" r="1.55"/><circle cx="102.40" cy="43.49" r="1.55"/><circle cx="103.75" cy="36.49" r="1.55"/></g>
<path d="M104.7,34.7 L105.0,34.4 L105.2,34.1 L105.4,33.9 L105.7,33.7 L105.9,33.5 L106.2,33.3 L106.5,33.1 L106.9,33.0 L107.2,32.9 L107.5,32.8 L107.9,32.7 L108.2,32.7 L108.5,32.8 L108.9,32.8 L109.2,32.9 L109.5,33.1 L109.8,33.3 L110.2,33.5 L110.5,33.8 L110.8,34.1 L111.0,34.4 L111.3,34.7 L111.6,35.1 L111.9,35.5 L112.2,35.9 L112.4,36.2 L112.7,36.6 L113.0,37.0 L113.2,37.4 L113.5,37.8 L113.8,38.2 L114.0,38.6 L114.3,38.9 L114.5,39.3 L114.8,39.7 L115.0,40.1 L115.3,40.4 L115.5,40.8 L115.8,41.2 L116.0,41.5 L116.3,41.9 L116.5,42.2 L116.7,42.6 L117.0,42.9 L117.2,43.3 L117.5,43.6 L117.7,44.0 L117.9,44.3 L118.2,44.7 L118.4,45.0 L118.7,45.4 L118.9,45.7 L119.1,46.0 L119.4,46.4 L119.6,46.7 L119.9,47.1 L120.1,47.4 L120.3,47.7 L120.6,48.1 L120.8,48.4 L121.1,48.7 L121.3,49.1 L121.6,49.4 L121.8,49.7 L122.1,50.1 L122.3,50.4 L122.6,50.7 L122.8,51.1 L123.1,51.4 L123.3,51.7 L123.6,52.1 L123.8,52.4 L124.1,52.7 L124.3,53.1 L124.6,53.4 L124.9,53.7 L125.1,54.0 L125.4,54.4 L125.7,54.7 L125.9,55.0 L126.2,55.4 L126.4,55.7 L126.7,56.0 L127.0,56.3 L127.2,56.7 L127.5,57.0 L127.8,57.3 L128.1,57.6 L128.3,57.9 L128.6,58.3 L128.9,58.6 L129.2,58.9 L129.4,59.2 L129.7,59.6 L130.0,59.9 L130.3,60.2 L130.5,60.5 L130.8,60.8 L131.1,61.1 L131.4,61.5 L131.7,61.8 L132.0,62.1 L132.2,62.4 L132.5,62.7 L132.8,63.0 L133.1,63.3 L133.4,63.6 L133.7,63.9 L134.0,64.3 L134.3,64.6 L134.6,64.9 L134.9,65.2 L135.2,65.5 L135.5,65.8 L135.8,66.1 L136.0,66.4 L136.3,66.7 L136.6,67.0 L136.9,67.3 L137.2,67.6 L137.6,67.9 L137.9,68.2 L138.2,68.5 L138.5,68.8 L138.8,69.1 L139.1,69.4 L139.4,69.7 L139.7,70.0 L140.0,70.3 L140.3,70.6 L140.6,70.8 L140.9,71.1 L141.3,71.4 L141.6,71.7 L141.9,72.0 L142.2,72.3 L142.5,72.6 L142.8,72.8 L143.1,73.1 L143.5,73.4 L143.8,73.7 L144.1,74.0 L144.4,74.2 L144.8,74.5 L145.1,74.8 L145.4,75.1 L145.7,75.4 L146.1,75.6 L146.4,75.9 L146.7,76.2 L147.0,76.4 L147.4,76.7 L147.7,77.0 L148.0,77.2 L148.4,77.5 L148.7,77.8 L149.0,78.0 L149.4,78.3 L149.7,78.6 L150.0,78.8 L150.4,79.1 L150.7,79.3 L151.1,79.6 L151.4,79.8 L151.7,80.1 L152.1,80.4 L152.4,80.6 L152.8,80.9 L153.1,81.1 L153.4,81.4 L153.8,81.6 L154.1,81.8 L154.5,82.1 L154.8,82.3 L155.2,82.6 L155.5,82.8 L155.9,83.1 L156.2,83.3 L156.6,83.5 L156.9,83.8 L157.3,84.0 L157.6,84.2 L158.0,84.5 L158.4,84.7 L158.7,84.9 L159.1,85.1 L159.4,85.4 L159.8,85.6 L160.1,85.8 L160.5,86.0 L160.9,86.3 L161.2,86.5 L161.6,86.7 L162.0,86.9 L162.3,87.1 L162.7,87.3 L163.1,87.6 L163.4,87.8 L163.8,88.0 L164.2,88.2 L164.5,88.4 L164.9,88.6 L165.3,88.8 L165.6,89.0 L166.0,89.2 L166.4,89.4 L166.7,89.6 L167.1,89.8 L167.5,90.0 L167.9,90.2 L168.2,90.4 L168.6,90.6 L169.0,90.8 L169.4,91.0 L169.7,91.2 L170.1,91.4 L170.5,91.5 L170.9,91.7 L171.3,91.9 L171.6,92.1 L172.0,92.3 L172.4,92.5 L172.8,92.7 L173.1,92.9 L173.5,93.0 L173.9,93.2 L174.3,93.4 L174.7,93.6 L175.1,93.8 L175.4,94.0 L175.8,94.1 L176.2,94.3 L176.6,94.5 L177.0,94.7 L177.3,94.9 L177.7,95.0 L178.1,95.2 L178.5,95.4 L178.9,95.6 L179.3,95.8 L179.6,95.9 L180.0,96.1 L180.4,96.3 L180.8,96.5 L181.2,96.7 L181.6,96.8 L182.0,97.0 L182.3,97.2 L182.7,97.4 L183.1,97.5 L183.5,97.7 L183.9,97.9 L184.3,98.1 L184.6,98.3 L185.0,98.4 L185.4,98.6 L185.8,98.8 L186.2,99.0 L186.6,99.1 L187.0,99.3 L187.3,99.5 L187.7,99.7 L188.1,99.9 L188.5,100.0 L188.9,100.2 L189.3,100.4 L189.6,100.6 L190.0,100.8 L190.4,101.0 L190.8,101.1 L191.2,101.3 L191.5,101.5 L191.9,101.7 L192.3,101.9 L192.7,102.1 L193.1,102.2 L193.5,102.4 L193.8,102.6 L194.2,102.8 L194.6,103.0 L195.0,103.2 L195.3,103.4 L195.7,103.6 L196.1,103.8 L196.5,104.0 L196.9,104.2 L197.2,104.4 L197.6,104.6 L198.0,104.7 L198.4,104.9 L198.7,105.1 L199.1,105.3 L199.5,105.6" fill="none" stroke="#0000dd" stroke-width="3.1" stroke-linecap="round"/>
<path d="M48.2,129.2 L48.7,129.1 L49.1,129.1 L49.6,129.0 L50.0,128.9 L50.5,128.8 L50.9,128.7 L51.4,128.6 L51.8,128.5 L52.3,128.4 L52.7,128.3 L53.2,128.2 L53.6,128.0 L54.1,127.9 L54.5,127.7 L55.0,127.6 L55.4,127.4 L55.9,127.2 L56.3,127.1 L56.8,126.9 L57.2,126.7 L57.6,126.5 L58.1,126.3 L58.5,126.1 L58.9,125.8 L59.4,125.6 L59.8,125.4 L60.2,125.1 L60.6,124.9 L61.0,124.6 L61.4,124.4 L61.8,124.1 L62.2,123.8 L62.6,123.5 L63.0,123.3 L63.3,123.0 L63.7,122.7 L64.1,122.4 L64.4,122.1 L64.8,121.7 L65.1,121.4 L65.5,121.1 L65.8,120.8 L66.1,120.4 L66.4,120.1 L66.7,119.7 L67.0,119.4 L67.3,119.0 L67.6,118.6 L67.8,118.2 L68.1,117.9 L68.3,117.5 L68.6,117.1 L68.8,116.7 L69.0,116.3 L69.2,115.9 L69.4,115.5 L69.6,115.1 L69.8,114.6 L70.0,114.2 L70.2,113.8 L70.4,113.4 L70.5,112.9 L70.7,112.5 L70.8,112.0 L71.0,111.6 L71.1,111.1 L71.2,110.7 L71.4,110.2 L71.5,109.8 L71.6,109.3 L71.7,108.9 L71.8,108.4 L71.9,107.9 L72.0,107.4 L72.1,107.0 L72.2,106.5 L72.3,106.0 L72.4,105.6 L72.4,105.1 L72.5,104.6 L72.6,104.1 L72.7,103.6 L72.7,103.2 L72.8,102.7 L72.9,102.2 L72.9,101.7 L73.0,101.2 L73.1,100.8 L73.1,100.3 L73.2,99.8 L73.2,99.3 L73.3,98.9 L73.3,98.4 L73.4,97.9 L73.5,97.4 L73.5,97.0 L73.6,96.5 L73.6,96.0 L73.7,95.5 L73.7,95.1 L73.8,94.6 L73.9,94.1 L73.9,93.7 L74.0,93.2 L74.0,92.7 L74.1,92.3 L74.1,91.8 L74.2,91.3 L74.3,90.9 L74.3,90.4 L74.4,90.0 L74.4,89.5 L74.5,89.0 L74.5,88.6 L74.6,88.1 L74.6,87.7 L74.7,87.2 L74.7,86.7 L74.8,86.3 L74.9,85.8 L74.9,85.4 L75.0,84.9 L75.0,84.4 L75.1,84.0 L75.1,83.5 L75.2,83.1 L75.2,82.6 L75.3,82.2 L75.3,81.7 L75.4,81.3 L75.4,80.8 L75.5,80.3 L75.6,79.9 L75.6,79.4 L75.7,79.0 L75.7,78.5 L75.8,78.1 L75.8,77.6 L75.9,77.2 L75.9,76.7 L76.0,76.2 L76.0,75.8 L76.1,75.3 L76.1,74.9 L76.2,74.4 L76.2,74.0 L76.3,73.5 L76.3,73.1 L76.4,72.6 L76.4,72.1 L76.5,71.7 L76.5,71.2 L76.6,70.8 L76.6,70.3 L76.7,69.8 L76.7,69.4 L76.8,68.9 L76.8,68.5 L76.9,68.0 L76.9,67.5 L77.0,67.1 L77.0,66.6 L77.1,66.1 L77.1,65.7 L77.2,65.2 L77.2,64.7 L77.3,64.3 L77.3,63.8 L77.4,63.3 L77.4,62.9 L77.5,62.4 L77.5,61.9 L77.6,61.4 L77.6,61.0 L77.7,60.5 L77.7,60.0 L77.8,59.5 L77.8,59.1 L77.9,58.6 L77.9,58.1 L78.0,57.6 L78.0,57.1 L78.1,56.7 L78.1,56.2 L78.2,55.7 L78.2,55.2 L78.3,54.7 L78.3,54.2 L78.4,53.7 L78.4,53.2 L78.5,52.7 L78.5,52.2 L78.5,51.7 L78.6,51.2 L78.6,50.7 L78.7,50.2 L78.7,49.7 L78.8,49.2 L78.8,48.7 L78.9,48.2 L78.9,47.7 L79.0,47.2 L79.1,46.7 L79.1,46.2 L79.2,45.7 L79.2,45.2 L79.3,44.8 L79.4,44.3 L79.5,43.8 L79.5,43.3 L79.6,42.8 L79.7,42.4 L79.8,41.9 L79.9,41.4 L80.0,41.0 L80.1,40.5 L80.3,40.1 L80.4,39.6 L80.5,39.2 L80.7,38.8 L80.8,38.4 L81.0,37.9 L81.1,37.5 L81.3,37.2 L81.5,36.8 L81.7,36.4 L81.9,36.0 L82.1,35.7 L82.3,35.3 L82.5,35.0 L82.8,34.7 L83.0,34.3 L83.3,34.0 L83.5,33.8 L83.8,33.5 L84.1,33.3 L84.4,33.1 L84.7,33.0 L85.0,33.0 L85.4,33.0 L85.7,33.1 L86.0,33.2 L86.4,33.4 L86.7,33.7 L87.1,33.9 L87.4,34.3 L87.8,34.6 L88.2,34.9 L88.5,35.3 L88.9,35.6 L89.2,36.0 L89.6,36.3 L90.0,36.7 L90.3,37.0 L90.7,37.4 L91.0,37.7 L91.4,38.1 L91.8,38.4 L92.1,38.7 L92.5,39.0 L92.8,39.4 L93.2,39.7 L93.6,40.0 L93.9,40.3 L94.3,40.6 L94.6,41.0 L95.0,41.3 L95.4,41.6 L95.7,41.9 L96.1,42.2 L96.4,42.5 L96.8,42.8 L97.2,43.1 L97.5,43.4 L97.9,43.7 L98.3,44.0 L98.6,44.3 L99.0,44.6 L99.3,44.9 L99.7,45.2 L100.1,45.5 L100.4,45.7 L100.8,46.0 L101.2,46.3 L101.6,46.6 L101.9,46.9 L102.3,47.2 L102.7,47.5 L103.0,47.7 L103.4,48.0 L103.8,48.3 L104.2,48.6 L104.5,48.9 L104.9,49.1 L105.3,49.4 L105.7,49.7 L106.1,50.0 L106.4,50.3 L106.8,50.5 L107.2,50.8 L107.6,51.1 L108.0,51.3 L108.4,51.6 L108.7,51.9 L109.1,52.2 L109.5,52.4 L109.9,52.7 L110.3,53.0 L110.7,53.2 L111.1,53.5 L111.5,53.7 L111.9,54.0 L112.2,54.3 L112.6,54.5 L113.0,54.8 L113.4,55.0 L113.8,55.3 L114.2,55.6 L114.6,55.8 L115.0,56.1 L115.4,56.3 L115.8,56.6 L116.2,56.8 L116.6,57.1 L117.0,57.3 L117.4,57.6 L117.8,57.8 L118.2,58.1 L118.6,58.3 L119.0,58.5 L119.4,58.8 L119.8,59.0 L120.3,59.3 L120.7,59.5 L121.1,59.7 L121.5,60.0 L121.9,60.2 L122.3,60.4 L122.7,60.7 L123.1,60.9 L123.5,61.1 L123.9,61.3 L124.4,61.6 L124.8,61.8 L125.2,62.0 L125.6,62.2 L126.0,62.5 L126.4,62.7 L126.9,62.9 L127.3,63.1 L127.7,63.3 L128.1,63.6 L128.5,63.8 L129.0,64.0 L129.4,64.2 L129.8,64.4 L130.2,64.6 L130.6,64.8 L131.1,65.0 L131.5,65.2 L131.9,65.4 L132.3,65.6 L132.8,65.8 L133.2,66.0 L133.6,66.2 L134.0,66.4 L134.5,66.6 L134.9,66.8 L135.3,67.0 L135.8,67.2 L136.2,67.4 L136.6,67.5 L137.1,67.7 L137.5,67.9 L137.9,68.1 L138.3,68.3 L138.8,68.4 L139.2,68.6 L139.7,68.8 L140.1,69.0 L140.5,69.1 L141.0,69.3 L141.4,69.5 L141.8,69.7 L142.3,69.8 L142.7,70.0 L143.1,70.1 L143.6,70.3 L144.0,70.5 L144.5,70.6 L144.9,70.8 L145.3,70.9 L145.8,71.1 L146.2,71.2 L146.7,71.4 L147.1,71.5 L147.6,71.7 L148.0,71.8 L148.4,72.0 L148.9,72.1 L149.3,72.3 L149.8,72.4 L150.2,72.5 L150.7,72.7 L151.1,72.8 L151.6,73.0 L152.0,73.1 L152.5,73.2 L152.9,73.4 L153.4,73.5 L153.8,73.6 L154.3,73.7 L154.7,73.9 L155.2,74.0 L155.6,74.1 L156.1,74.2 L156.5,74.4 L157.0,74.5 L157.4,74.6 L157.9,74.7 L158.3,74.8 L158.8,75.0 L159.2,75.1 L159.7,75.2 L160.1,75.3 L160.6,75.4 L161.0,75.5 L161.5,75.6 L162.0,75.7 L162.4,75.8 L162.9,75.9 L163.3,76.0 L163.8,76.1 L164.2,76.2 L164.7,76.3 L165.2,76.4 L165.6,76.5 L166.1,76.6 L166.5,76.7 L167.0,76.8 L167.5,76.9 L167.9,77.0 L168.4,77.1 L168.8,77.2 L169.3,77.3 L169.8,77.4 L170.2,77.5 L170.7,77.6 L171.1,77.6 L171.6,77.7 L172.1,77.8 L172.5,77.9 L173.0,78.0 L173.5,78.1 L173.9,78.1 L174.4,78.2 L174.8,78.3 L175.3,78.4 L175.8,78.5 L176.2,78.5 L176.7,78.6 L177.2,78.7 L177.6,78.8 L178.1,78.8 L178.6,78.9 L179.0,79.0 L179.5,79.0 L180.0,79.1 L180.4,79.2 L180.9,79.3 L181.4,79.3 L181.8,79.4 L182.3,79.5 L182.8,79.5 L183.2,79.6 L183.7,79.6 L184.2,79.7 L184.6,79.8 L185.1,79.8 L185.6,79.9 L186.0,80.0 L186.5,80.0 L187.0,80.1 L187.4,80.1 L187.9,80.2 L188.4,80.2 L188.8,80.3 L189.3,80.4 L189.8,80.4 L190.3,80.5 L190.7,80.5 L191.2,80.6 L191.7,80.6 L192.1,80.7 L192.6,80.7 L193.1,80.8 L193.5,80.8 L194.0,80.9 L194.5,80.9 L195.0,81.0 L195.4,81.0 L195.9,81.1 L196.4,81.1 L196.8,81.2 L197.3,81.2 L197.8,81.3 L198.3,81.3 L198.7,81.4 L199.2,81.4 L199.7,81.4 L200.1,81.5 L200.6,81.5 L201.1,81.6 L201.5,81.6 L202.0,81.7 L202.5,81.7 L203.0,81.7 L203.4,81.8 L203.9,81.8 L204.4,81.9 L204.8,81.9 L205.3,81.9 L205.8,82.0 L206.3,82.0 L206.7,82.1 L207.2,82.1 L207.7,82.1 L208.1,82.2 L208.6,82.2 L209.1,82.3 L209.6,82.3 L210.0,82.3 L210.5,82.4 L211.0,82.4 L211.4,82.4 L211.9,82.5 L212.4,82.5 L212.9,82.5 L213.3,82.6 L213.8,82.6 L214.3,82.6 L214.7,82.7 L215.2,82.7 L215.7,82.8 L216.2,82.8 L216.6,82.8 L217.1,82.9 L217.6,82.9 L218.0,82.9 L218.5,83.0 L219.0,83.0 L219.4,83.0 L219.9,83.1 L220.4,83.1 L220.9,83.1 L221.3,83.2 L221.8,83.2 L222.3,83.2 L222.7,83.3 L223.2,83.3 L223.7,83.3 L224.1,83.4 L224.6,83.4 L225.1,83.4 L225.5,83.5 L226.0,83.5 L226.5,83.5 L226.9,83.6 L227.4,83.6 L227.9,83.6 L228.3,83.7 L228.8,83.7 L229.3,83.7 L229.7,83.8 L230.2,83.8 L230.7,83.8 L231.1,83.9 L231.6,83.9 L232.1,83.9 L232.5,84.0 L233.0,84.0 L233.5,84.1 L233.9,84.1 L234.4,84.1 L234.9,84.2 L235.3,84.2 L235.8,84.2 L236.3,84.3 L236.7,84.3 L237.2,84.3 L237.6,84.4 L238.1,84.4 L238.6,84.5 L239.0,84.5 L239.5,84.5 L240.0,84.6 L240.4,84.6 L240.9,84.7 L241.3,84.7" fill="none" stroke="#0b5e12" stroke-width="0.7" opacity="0.45"/>
<path d="M48.2,129.2 L48.7,129.1 L49.1,129.1 L49.6,129.0 L50.0,128.9 L50.5,128.8 L50.9,128.7 L51.4,128.6 L51.8,128.5 L52.3,128.4 L52.7,128.3 L53.2,128.2 L53.6,128.0 L54.1,127.9 L54.5,127.7 L55.0,127.6 L55.4,127.4 L55.9,127.2 L56.3,127.1 L56.8,126.9 L57.2,126.7 L57.6,126.5 L58.1,126.3 L58.5,126.1 L58.9,125.8 L59.4,125.6 L59.8,125.4 L60.2,125.1 L60.6,124.9 L61.0,124.6 L61.4,124.4 L61.8,124.1 L62.2,123.8 L62.6,123.5 L63.0,123.3 L63.3,123.0 L63.7,122.7 L64.1,122.4 L64.4,122.1 L64.8,121.7 L65.1,121.4 L65.5,121.1 L65.8,120.8 L66.1,120.4 L66.4,120.1 L66.7,119.7 L67.0,119.4 L67.3,119.0 L67.6,118.6 L67.8,118.2 L68.1,117.9 L68.3,117.5 L68.6,117.1 L68.8,116.7 L69.0,116.3 L69.2,115.9 L69.4,115.5" fill="none" stroke="#0b5e12" stroke-width="3.0" stroke-linecap="round"/>
<g fill="#0b5e12"><circle cx="69.50" cy="115.36" r="1.45"/><circle cx="70.80" cy="112.11" r="1.45"/><circle cx="72.10" cy="107.03" r="1.45"/><circle cx="73.40" cy="97.96" r="1.45"/><circle cx="74.70" cy="87.13" r="1.45"/><circle cx="76.00" cy="76.00" r="1.45"/><circle cx="77.30" cy="64.18" r="1.45"/><circle cx="78.60" cy="51.17" r="1.45"/><circle cx="79.90" cy="41.54" r="1.45"/><circle cx="81.20" cy="37.40" r="1.45"/></g>
<path d="M82.5,35.0 L82.8,34.7 L83.0,34.3 L83.3,34.0 L83.5,33.8 L83.8,33.5 L84.1,33.3 L84.4,33.1 L84.7,33.0 L85.0,33.0 L85.4,33.0 L85.7,33.1 L86.0,33.2 L86.4,33.4 L86.7,33.7 L87.1,33.9 L87.4,34.3 L87.8,34.6 L88.2,34.9 L88.5,35.3 L88.9,35.6 L89.2,36.0 L89.6,36.3 L90.0,36.7 L90.3,37.0 L90.7,37.4 L91.0,37.7 L91.4,38.1 L91.8,38.4 L92.1,38.7 L92.5,39.0 L92.8,39.4 L93.2,39.7 L93.6,40.0 L93.9,40.3 L94.3,40.6 L94.6,41.0 L95.0,41.3 L95.4,41.6 L95.7,41.9 L96.1,42.2 L96.4,42.5 L96.8,42.8 L97.2,43.1 L97.5,43.4 L97.9,43.7 L98.3,44.0 L98.6,44.3 L99.0,44.6 L99.3,44.9 L99.7,45.2 L100.1,45.5 L100.4,45.7 L100.8,46.0 L101.2,46.3 L101.6,46.6 L101.9,46.9 L102.3,47.2 L102.7,47.5 L103.0,47.7 L103.4,48.0 L103.8,48.3 L104.2,48.6 L104.5,48.9 L104.9,49.1 L105.3,49.4 L105.7,49.7 L106.1,50.0 L106.4,50.3 L106.8,50.5 L107.2,50.8 L107.6,51.1 L108.0,51.3 L108.4,51.6 L108.7,51.9 L109.1,52.2 L109.5,52.4 L109.9,52.7 L110.3,53.0 L110.7,53.2 L111.1,53.5 L111.5,53.7 L111.9,54.0 L112.2,54.3 L112.6,54.5 L113.0,54.8 L113.4,55.0 L113.8,55.3 L114.2,55.6 L114.6,55.8 L115.0,56.1 L115.4,56.3 L115.8,56.6 L116.2,56.8 L116.6,57.1 L117.0,57.3 L117.4,57.6 L117.8,57.8 L118.2,58.1 L118.6,58.3 L119.0,58.5 L119.4,58.8 L119.8,59.0 L120.3,59.3 L120.7,59.5 L121.1,59.7 L121.5,60.0 L121.9,60.2 L122.3,60.4 L122.7,60.7 L123.1,60.9 L123.5,61.1 L123.9,61.3 L124.4,61.6 L124.8,61.8 L125.2,62.0 L125.6,62.2 L126.0,62.5 L126.4,62.7 L126.9,62.9 L127.3,63.1 L127.7,63.3 L128.1,63.6 L128.5,63.8 L129.0,64.0 L129.4,64.2 L129.8,64.4 L130.2,64.6 L130.6,64.8 L131.1,65.0 L131.5,65.2 L131.9,65.4 L132.3,65.6 L132.8,65.8 L133.2,66.0 L133.6,66.2 L134.0,66.4 L134.5,66.6 L134.9,66.8 L135.3,67.0 L135.8,67.2 L136.2,67.4 L136.6,67.5 L137.1,67.7 L137.5,67.9 L137.9,68.1 L138.3,68.3 L138.8,68.4 L139.2,68.6 L139.7,68.8 L140.1,69.0 L140.5,69.1 L141.0,69.3 L141.4,69.5 L141.8,69.7 L142.3,69.8 L142.7,70.0 L143.1,70.1 L143.6,70.3 L144.0,70.5 L144.5,70.6 L144.9,70.8 L145.3,70.9 L145.8,71.1 L146.2,71.2 L146.7,71.4 L147.1,71.5 L147.6,71.7 L148.0,71.8 L148.4,72.0 L148.9,72.1 L149.3,72.3 L149.8,72.4 L150.2,72.5 L150.7,72.7 L151.1,72.8 L151.6,73.0 L152.0,73.1 L152.5,73.2 L152.9,73.4 L153.4,73.5 L153.8,73.6 L154.3,73.7 L154.7,73.9 L155.2,74.0 L155.6,74.1 L156.1,74.2 L156.5,74.4 L157.0,74.5 L157.4,74.6 L157.9,74.7 L158.3,74.8 L158.8,75.0 L159.2,75.1 L159.7,75.2 L160.1,75.3 L160.6,75.4 L161.0,75.5 L161.5,75.6 L162.0,75.7 L162.4,75.8 L162.9,75.9 L163.3,76.0 L163.8,76.1 L164.2,76.2 L164.7,76.3 L165.2,76.4 L165.6,76.5 L166.1,76.6 L166.5,76.7 L167.0,76.8 L167.5,76.9 L167.9,77.0 L168.4,77.1 L168.8,77.2 L169.3,77.3 L169.8,77.4 L170.2,77.5 L170.7,77.6 L171.1,77.6 L171.6,77.7 L172.1,77.8 L172.5,77.9 L173.0,78.0 L173.5,78.1 L173.9,78.1 L174.4,78.2 L174.8,78.3 L175.3,78.4 L175.8,78.5 L176.2,78.5 L176.7,78.6 L177.2,78.7 L177.6,78.8 L178.1,78.8 L178.6,78.9 L179.0,79.0 L179.5,79.0 L180.0,79.1 L180.4,79.2 L180.9,79.3 L181.4,79.3 L181.8,79.4 L182.3,79.5 L182.8,79.5 L183.2,79.6 L183.7,79.6 L184.2,79.7 L184.6,79.8 L185.1,79.8 L185.6,79.9 L186.0,80.0 L186.5,80.0 L187.0,80.1 L187.4,80.1 L187.9,80.2 L188.4,80.2 L188.8,80.3 L189.3,80.4 L189.8,80.4 L190.3,80.5 L190.7,80.5 L191.2,80.6 L191.7,80.6 L192.1,80.7 L192.6,80.7 L193.1,80.8 L193.5,80.8 L194.0,80.9 L194.5,80.9 L195.0,81.0 L195.4,81.0 L195.9,81.1 L196.4,81.1 L196.8,81.2 L197.3,81.2 L197.8,81.3 L198.3,81.3 L198.7,81.4 L199.2,81.4 L199.7,81.4 L200.1,81.5 L200.6,81.5 L201.1,81.6 L201.5,81.6 L202.0,81.7 L202.5,81.7 L203.0,81.7 L203.4,81.8 L203.9,81.8 L204.4,81.9 L204.8,81.9 L205.3,81.9 L205.8,82.0 L206.3,82.0 L206.7,82.1 L207.2,82.1 L207.7,82.1 L208.1,82.2 L208.6,82.2 L209.1,82.3 L209.6,82.3 L210.0,82.3 L210.5,82.4 L211.0,82.4 L211.4,82.4 L211.9,82.5 L212.4,82.5 L212.9,82.5 L213.3,82.6 L213.8,82.6 L214.3,82.6 L214.7,82.7 L215.2,82.7 L215.7,82.8 L216.2,82.8 L216.6,82.8 L217.1,82.9 L217.6,82.9 L218.0,82.9 L218.5,83.0 L219.0,83.0 L219.4,83.0 L219.9,83.1 L220.4,83.1 L220.9,83.1 L221.3,83.2 L221.8,83.2 L222.3,83.2 L222.7,83.3 L223.2,83.3 L223.7,83.3 L224.1,83.4 L224.6,83.4 L225.1,83.4 L225.5,83.5 L226.0,83.5 L226.5,83.5 L226.9,83.6 L227.4,83.6 L227.9,83.6 L228.3,83.7 L228.8,83.7 L229.3,83.7 L229.7,83.8 L230.2,83.8 L230.7,83.8 L231.1,83.9 L231.6,83.9 L232.1,83.9 L232.5,84.0 L233.0,84.0 L233.5,84.1 L233.9,84.1 L234.4,84.1 L234.9,84.2 L235.3,84.2 L235.8,84.2 L236.3,84.3 L236.7,84.3 L237.2,84.3 L237.6,84.4 L238.1,84.4 L238.6,84.5 L239.0,84.5 L239.5,84.5 L240.0,84.6 L240.4,84.6 L240.9,84.7 L241.3,84.7" fill="none" stroke="#0b5e12" stroke-width="3.0" stroke-linecap="round"/>
<rect x="305.5" y="8.9" width="195.0" height="147.5" fill="none" stroke="#c6c6c6" stroke-width="1.2"/>
<line x1="338.00" y1="156.4" x2="338.00" y2="152.4" stroke="#b8b8b8" stroke-width="1"/>
<line x1="338.00" y1="8.9" x2="338.00" y2="12.9" stroke="#b8b8b8" stroke-width="1"/>
<line x1="370.50" y1="156.4" x2="370.50" y2="152.4" stroke="#b8b8b8" stroke-width="1"/>
<line x1="370.50" y1="8.9" x2="370.50" y2="12.9" stroke="#b8b8b8" stroke-width="1"/>
<line x1="403.00" y1="156.4" x2="403.00" y2="152.4" stroke="#b8b8b8" stroke-width="1"/>
<line x1="403.00" y1="8.9" x2="403.00" y2="12.9" stroke="#b8b8b8" stroke-width="1"/>
<line x1="435.50" y1="156.4" x2="435.50" y2="152.4" stroke="#b8b8b8" stroke-width="1"/>
<line x1="435.50" y1="8.9" x2="435.50" y2="12.9" stroke="#b8b8b8" stroke-width="1"/>
<line x1="468.00" y1="156.4" x2="468.00" y2="152.4" stroke="#b8b8b8" stroke-width="1"/>
<line x1="468.00" y1="8.9" x2="468.00" y2="12.9" stroke="#b8b8b8" stroke-width="1"/>
<line x1="305.5" y1="126.90" x2="309.5" y2="126.90" stroke="#b8b8b8" stroke-width="1"/>
<line x1="500.5" y1="126.90" x2="496.5" y2="126.90" stroke="#b8b8b8" stroke-width="1"/>
<line x1="305.5" y1="97.40" x2="309.5" y2="97.40" stroke="#b8b8b8" stroke-width="1"/>
<line x1="500.5" y1="97.40" x2="496.5" y2="97.40" stroke="#b8b8b8" stroke-width="1"/>
<line x1="305.5" y1="67.90" x2="309.5" y2="67.90" stroke="#b8b8b8" stroke-width="1"/>
<line x1="500.5" y1="67.90" x2="496.5" y2="67.90" stroke="#b8b8b8" stroke-width="1"/>
<line x1="305.5" y1="38.40" x2="309.5" y2="38.40" stroke="#b8b8b8" stroke-width="1"/>
<line x1="500.5" y1="38.40" x2="496.5" y2="38.40" stroke="#b8b8b8" stroke-width="1"/>
<text x="305.50" y="168.00" font-size="12" text-anchor="middle" font-weight="normal" fill="#111" stroke="#111" stroke-width="0.5" >0</text>
<text x="338.00" y="168.00" font-size="12" text-anchor="middle" font-weight="normal" fill="#111" stroke="#111" stroke-width="0.5" >50</text>
<text x="370.50" y="168.00" font-size="12" text-anchor="middle" font-weight="normal" fill="#111" stroke="#111" stroke-width="0.5" >100</text>
<text x="403.00" y="168.00" font-size="12" text-anchor="middle" font-weight="normal" fill="#111" stroke="#111" stroke-width="0.5" >150</text>
<text x="435.50" y="168.00" font-size="12" text-anchor="middle" font-weight="normal" fill="#111" stroke="#111" stroke-width="0.5" >200</text>
<text x="468.00" y="168.00" font-size="12" text-anchor="middle" font-weight="normal" fill="#111" stroke="#111" stroke-width="0.5" >250</text>
<text x="500.50" y="168.00" font-size="12" text-anchor="middle" font-weight="normal" fill="#111" stroke="#111" stroke-width="0.5" >300</text>
<text x="301.80" y="157.80" font-size="12" text-anchor="end" font-weight="normal" fill="#111" stroke="#111" stroke-width="0.5" >0</text>
<text x="301.80" y="128.30" font-size="12" text-anchor="end" font-weight="normal" fill="#111" stroke="#111" stroke-width="0.5" >1</text>
<text x="301.80" y="98.80" font-size="12" text-anchor="end" font-weight="normal" fill="#111" stroke="#111" stroke-width="0.5" >2</text>
<text x="301.80" y="69.30" font-size="12" text-anchor="end" font-weight="normal" fill="#111" stroke="#111" stroke-width="0.5" >3</text>
<text x="301.80" y="39.80" font-size="12" text-anchor="end" font-weight="normal" fill="#111" stroke="#111" stroke-width="0.5" >4</text>
<text x="301.80" y="10.30" font-size="12" text-anchor="end" font-weight="normal" fill="#111" stroke="#111" stroke-width="0.5" >5</text>
<text x="504.00" y="157.80" font-size="12" text-anchor="start" font-weight="normal" fill="#111" stroke="#111" stroke-width="0.5" >0</text>
<text x="504.00" y="128.30" font-size="12" text-anchor="start" font-weight="normal" fill="#111" stroke="#111" stroke-width="0.5" >0.02</text>
<text x="504.00" y="98.80" font-size="12" text-anchor="start" font-weight="normal" fill="#111" stroke="#111" stroke-width="0.5" >0.04</text>
<text x="504.00" y="69.30" font-size="12" text-anchor="start" font-weight="normal" fill="#111" stroke="#111" stroke-width="0.5" >0.06</text>
<text x="504.00" y="39.80" font-size="12" text-anchor="start" font-weight="normal" fill="#111" stroke="#111" stroke-width="0.5" >0.08</text>
<text x="504.00" y="10.30" font-size="12" text-anchor="start" font-weight="normal" fill="#111" stroke="#111" stroke-width="0.5" >0.10</text>
<text x="407.80" y="185.00" font-size="13.5" text-anchor="middle" font-weight="bold" fill="#111" stroke="#111" stroke-width="0.25" >T (K)</text>
<text transform="translate(284.6,79.6) rotate(-90)" font-size="14" font-weight="bold" text-anchor="middle" fill="#111">M (emu/g)</text>
<text transform="translate(540.8,30.6) rotate(90)" font-size="14" font-weight="bold" text-anchor="start" fill="#111">-d(M<tspan font-size="9.5" dy="6.5">FC</tspan><tspan dy="-6.5">-M</tspan><tspan font-size="9.5" dy="6.5">ZFC</tspan><tspan dy="-6.5">)/ dT</tspan></text>
<text x="497.20" y="24.00" font-size="14" text-anchor="end" font-weight="normal" fill="#111" stroke="#111" stroke-width="0.5" >b)</text>
<text x="415.40" y="25.70" font-size="12.5" text-anchor="start" font-weight="bold" fill="#e0000f" stroke="#e0000f" stroke-width="0.25" >C/S</text>
<path d="M337,17.9 V45.5 M333.5,17.9 H340.5 M333.5,45.5 H340.5" stroke="#aaa" stroke-width="1" fill="none"/>
<text x="324.00" y="38.00" font-size="12" text-anchor="start" font-weight="normal" fill="#111" stroke="#111" stroke-width="0.5" >&#916;FC</text>
<path d="M307.70,154.00 C308.30,152.83 308.78,151.41 309.50,150.50 C310.09,149.76 310.88,149.33 311.50,148.80 C312.04,148.34 312.61,147.36 313.00,147.50 C313.68,147.74 313.50,153.44 314.00,153.50 C314.40,153.55 314.97,150.92 315.50,150.00 C315.88,149.34 316.41,148.31 316.70,148.40 C317.29,148.57 316.80,156.27 317.20,156.30 C317.66,156.34 318.68,148.88 319.50,146.00 C320.11,143.86 320.50,142.57 321.40,140.50 C322.65,137.62 325.15,133.88 326.70,130.50 C328.21,127.21 329.64,123.81 330.60,120.50 C331.50,117.41 331.76,114.00 332.40,111.30 C332.91,109.13 333.32,105.63 334.00,105.50 C334.44,105.42 335.09,107.57 335.50,107.50 C336.00,107.41 336.28,105.36 336.60,104.00 C337.02,102.20 337.24,100.05 337.60,97.60 C338.08,94.31 338.62,89.69 339.20,86.00 C339.73,82.62 340.25,79.30 340.90,76.30 C341.47,73.65 342.22,71.57 342.80,68.90 C343.47,65.81 344.01,62.24 344.60,58.80 C345.21,55.21 345.73,51.19 346.40,47.80 C346.98,44.86 347.74,42.59 348.30,39.60 C348.97,36.04 349.46,31.19 350.00,27.80 C350.41,25.22 350.67,22.73 351.20,21.00 C351.55,19.87 351.92,18.36 352.40,18.30 C352.81,18.24 353.43,19.25 353.80,20.00 C354.32,21.05 354.49,22.51 354.80,24.20 C355.26,26.72 355.64,30.39 356.00,33.70 C356.39,37.30 356.74,41.42 357.00,45.00 C357.23,48.22 357.33,51.13 357.50,54.20 C357.67,57.27 357.85,60.33 358.00,63.40 C358.15,66.47 358.28,69.21 358.40,72.60 C358.55,76.78 358.58,81.92 358.80,86.60 C359.02,91.32 359.34,95.61 359.70,100.80 C360.14,107.12 360.71,115.26 361.30,121.80 C361.82,127.55 362.25,133.41 363.00,138.00 C363.56,141.46 364.14,144.38 365.00,147.00 C365.70,149.15 366.30,151.48 367.50,152.70 C368.44,153.66 369.64,153.99 371.00,154.30 C372.70,154.68 375.09,154.50 377.00,154.40 C378.75,154.31 380.46,154.26 382.00,153.80 C383.45,153.37 384.74,151.71 386.00,151.80 C387.23,151.88 388.42,153.53 389.50,154.20 C390.39,154.75 391.17,155.71 392.00,155.60 C393.01,155.46 393.92,153.27 395.00,152.60 C395.94,152.02 397.06,151.39 398.00,151.60 C399.08,151.85 399.92,153.87 401.00,154.50 C401.94,155.05 403.05,155.60 404.00,155.40 C405.07,155.17 405.84,153.37 407.00,152.80 C408.17,152.23 409.83,151.69 411.00,152.00 C412.16,152.31 412.85,154.02 414.00,154.60 C415.17,155.19 416.84,155.84 418.00,155.50 C419.18,155.16 419.86,153.11 421.00,152.50 C422.05,151.94 423.39,151.55 424.50,151.80 C425.73,152.08 426.84,153.71 428.00,154.40 C429.01,155.00 430.01,155.96 431.00,155.80 C432.19,155.61 433.24,153.20 434.50,152.50 C435.59,151.90 436.89,151.35 438.00,151.60 C439.24,151.88 440.32,153.82 441.50,154.50 C442.49,155.07 443.56,155.81 444.50,155.60 C445.58,155.36 446.35,153.15 447.50,152.60 C448.54,152.10 449.87,151.84 451.00,152.20 C452.39,152.65 453.67,154.60 455.00,155.80" fill="none" stroke="#e0000f" stroke-width="2" stroke-dasharray="4,2.5"/>
<path d="M307.7,145.8 L307.8,145.8 L307.9,145.8 L308.0,145.8 L308.1,145.7 L308.2,145.7 L308.3,145.7 L308.4,145.7 L308.5,145.7 L308.6,145.7 L308.7,145.7 L308.8,145.7 L308.9,145.6 L309.0,145.6 L309.0,145.6 L309.1,145.6 L309.2,145.6 L309.3,145.6 L309.4,145.6 L309.5,145.6 L309.6,145.5 L309.7,145.5 L309.8,145.5 L309.9,145.5 L310.0,145.5 L310.1,145.5 L310.2,145.5 L310.3,145.5 L310.4,145.5 L310.5,145.4 L310.6,145.4 L310.7,145.4 L310.8,145.4 L310.9,145.4 L311.0,145.4 L311.1,145.4 L311.2,145.4 L311.3,145.3 L311.4,145.3 L311.5,145.3 L311.6,145.3 L311.6,145.3 L311.7,145.3 L311.8,145.3 L311.9,145.2 L312.0,145.2 L312.1,145.2 L312.2,145.2 L312.3,145.2 L312.4,145.2 L312.5,145.2 L312.6,145.1 L312.7,145.1 L312.8,145.1 L312.9,145.1 L313.0,145.1 L313.1,145.1 L313.2,145.0 L313.3,145.0 L313.4,145.0 L313.5,145.0 L313.6,145.0 L313.7,145.0 L313.8,144.9 L313.9,144.9 L314.0,144.9 L314.1,144.9 L314.2,144.9 L314.3,144.9 L314.4,144.8 L314.5,144.8 L314.6,144.8 L314.7,144.8 L314.9,144.8 L315.0,144.8 L315.1,144.7 L315.2,144.7 L315.3,144.7 L315.4,144.7 L315.5,144.7 L315.6,144.6 L315.7,144.6 L315.8,144.6 L315.9,144.6 L316.0,144.6 L316.1,144.6 L316.2,144.5 L316.3,144.5 L316.4,144.5 L316.5,144.5 L316.6,144.5 L316.7,144.4 L316.9,144.4 L317.0,144.4 L317.1,144.4 L317.2,144.3 L317.3,144.3 L317.4,144.3 L317.5,144.3 L317.6,144.3 L317.7,144.2 L317.8,144.2 L317.9,144.2 L318.0,144.2 L318.1,144.1 L318.2,144.1 L318.3,144.1 L318.4,144.1 L318.5,144.0 L318.6,144.0 L318.8,144.0 L318.9,144.0 L319.0,143.9 L319.1,143.9 L319.2,143.9 L319.3,143.9 L319.4,143.8 L319.5,143.8 L319.6,143.8 L319.7,143.7 L319.8,143.7 L319.9,143.7 L320.0,143.6 L320.1,143.6 L320.2,143.6 L320.3,143.5 L320.4,143.5 L320.6,143.5 L320.7,143.4 L320.8,143.4 L320.9,143.4 L321.0,143.3 L321.1,143.3 L321.2,143.2 L321.3,143.2 L321.4,143.2 L321.5,143.1 L321.7,143.1 L321.8,143.1 L321.9,143.0 L322.0,143.0 L322.1,142.9 L322.2,142.9 L322.3,142.9 L322.4,142.8 L322.5,142.8 L322.6,142.7 L322.7,142.7 L322.9,142.6 L323.0,142.6 L323.1,142.6 L323.2,142.5 L323.3,142.5 L323.4,142.4 L323.5,142.4 L323.6,142.3 L323.7,142.3 L323.8,142.2 L323.9,142.2 L324.0,142.2 L324.1,142.1 L324.3,142.1 L324.4,142.0 L324.5,142.0 L324.6,141.9 L324.7,141.9 L324.8,141.8 L324.9,141.8 L325.0,141.7 L325.1,141.7 L325.2,141.6 L325.3,141.6 L325.4,141.5 L325.5,141.5 L325.6,141.4 L325.7,141.4 L325.8,141.3 L325.9,141.3 L326.0,141.2 L326.1,141.2 L326.2,141.1 L326.3,141.0 L326.4,141.0 L326.5,140.9 L326.6,140.9 L326.7,140.8 L326.8,140.8 L326.9,140.7 L326.9,140.7 L327.0,140.6 L327.1,140.6 L327.2,140.5 L327.3,140.5 L327.4,140.4 L327.5,140.4 L327.6,140.3 L327.7,140.2 L327.8,140.2 L327.9,140.1 L328.0,140.1 L328.0,140.0 L328.1,140.0 L328.2,139.9 L328.3,139.8 L328.4,139.8 L328.5,139.7 L328.6,139.7 L328.7,139.6 L328.8,139.6 L328.8,139.5 L328.9,139.4 L329.0,139.4 L329.1,139.3 L329.2,139.2 L329.3,139.2 L329.4,139.1 L329.5,139.1 L329.5,139.0 L329.6,138.9 L329.7,138.9 L329.8,138.8 L329.9,138.7 L330.0,138.7 L330.0,138.6 L330.1,138.5 L330.2,138.5 L330.3,138.4 L330.4,138.3 L330.5,138.3 L330.5,138.2 L330.6,138.1 L330.7,138.1 L330.8,138.0 L330.9,137.9 L330.9,137.8 L331.0,137.8 L331.1,137.7 L331.2,137.6 L331.2,137.6 L331.3,137.5 L331.4,137.4 L331.5,137.3 L331.6,137.2 L331.6,137.2 L331.7,137.1 L331.8,137.0 L331.9,136.9 L332.0,136.8 L332.0,136.7 L332.1,136.6 L332.2,136.5 L332.3,136.5 L332.3,136.4 L332.4,136.3 L332.5,136.2 L332.6,136.1 L332.7,136.0 L332.7,135.9 L332.8,135.8 L332.9,135.7 L333.0,135.6 L333.0,135.5 L333.1,135.4 L333.2,135.3 L333.2,135.2 L333.3,135.1 L333.4,135.0 L333.5,134.9 L333.5,134.8 L333.6,134.7 L333.7,134.6 L333.7,134.5 L333.8,134.4 L333.9,134.3 L334.0,134.2 L334.0,134.1 L334.1,134.0 L334.2,133.9 L334.2,133.8 L334.3,133.7 L334.4,133.6 L334.4,133.5 L334.5,133.4 L334.6,133.3 L334.6,133.2 L334.7,133.1 L334.7,133.0 L334.8,132.9 L334.9,132.8 L334.9,132.7 L335.0,132.6 L335.1,132.5 L335.1,132.4 L335.2,132.3 L335.2,132.2 L335.3,132.1 L335.4,132.0 L335.4,131.9 L335.5,131.8 L335.5,131.7 L335.6,131.6 L335.7,131.5 L335.7,131.4 L335.8,131.3 L335.8,131.2 L335.9,131.1 L335.9,131.0 L336.0,131.0 L336.0,130.9 L336.1,130.8 L336.1,130.7 L336.2,130.6 L336.2,130.5 L336.2,130.4 L336.3,130.3 L336.3,130.2 L336.4,130.1 L336.4,130.0 L336.5,129.9 L336.5,129.8 L336.6,129.7 L336.6,129.7 L336.6,129.6 L336.7,129.5 L336.7,129.4 L336.8,129.3 L336.8,129.2 L336.9,129.1 L336.9,129.0 L336.9,128.9 L337.0,128.8 L337.0,128.7 L337.1,128.6 L337.1,128.5 L337.1,128.4 L337.2,128.3 L337.2,128.2 L337.3,128.2 L337.3,128.1 L337.3,128.0 L337.4,127.9 L337.4,127.8 L337.5,127.7 L337.5,127.6 L337.5,127.5 L337.6,127.4 L337.6,127.3 L337.7,127.2 L337.7,127.1 L337.7,127.0 L337.8,126.9 L337.8,126.8 L337.9,126.7 L337.9,126.7 L337.9,126.6 L338.0,126.5 L338.0,126.4 L338.1,126.3 L338.1,126.2 L338.2,126.1 L338.2,126.0 L338.7,124.6 L339.2,123.3 L339.7,121.9 L340.2,120.6 L340.7,119.2 L341.2,117.8 L341.7,116.4 L342.2,114.9 L342.7,113.5 L343.2,112.0 L343.7,110.4 L344.2,108.9 L344.7,107.3 L345.2,105.6 L345.7,103.9 L346.2,102.2 L346.7,100.4 L347.2,98.5 L347.7,96.6 L348.2,94.7 L348.7,92.6 L349.2,90.6 L349.7,88.4 L350.2,86.3 L350.7,84.0 L351.2,81.8 L351.7,79.5 L352.2,77.2 L352.7,74.8 L353.2,72.4 L353.7,70.0 L354.2,67.6 L354.7,65.1 L355.2,62.7 L355.7,60.3 L356.2,57.9 L356.7,55.5 L357.2,53.2 L357.7,50.9 L358.2,48.6 L358.7,46.5 L359.2,44.4 L359.7,42.4 L360.2,40.5 L360.7,38.6 L361.2,36.9 L361.7,35.4 L362.2,33.9 L362.7,32.6 L363.2,31.4 L363.7,30.4 L364.2,29.6 L364.7,28.9 L365.2,28.4 L365.7,28.1" fill="none" stroke="#e0000f" stroke-width="2.5"/>
<path d="M307.5,50.7 L308.0,50.7 L308.4,50.7 L308.9,50.7 L309.3,50.7 L309.7,50.7 L310.2,50.7 L310.6,50.7 L311.1,50.6 L311.6,50.6 L312.0,50.6 L312.4,50.6 L312.9,50.6 L313.4,50.6 L313.9,50.5 L314.3,50.5 L314.6,50.5 L315.0,50.5 L315.4,50.5 L315.8,50.4 L316.3,50.4 L316.7,50.4 L317.1,50.4 L317.5,50.4 L318.0,50.3 L318.4,50.3 L318.8,50.3 L319.3,50.3 L319.8,50.3 L320.3,50.2 L320.8,50.2 L321.3,50.2 L321.8,50.2 L322.3,50.1 L322.9,50.1 L323.4,50.1 L323.9,50.1 L324.4,50.0 L325.0,50.0 L325.5,50.0 L326.0,50.0 L326.5,49.9 L327.0,49.9 L327.5,49.9 L327.9,49.9 L328.3,49.9 L328.9,49.8 L329.4,49.8 L329.8,49.8 L330.3,49.7 L330.8,49.7 L331.3,49.7 L331.8,49.7 L332.2,49.6 L332.7,49.6 L333.1,49.6 L333.6,49.6 L334.0,49.5 L334.4,49.5 L334.9,49.5 L335.3,49.5 L335.7,49.5 L336.1,49.4 L336.6,49.4 L337.0,49.4 L337.4,49.4 L337.8,49.4 L338.2,49.4 L338.6,49.4 L339.0,49.4 L339.4,49.4 L339.8,49.4 L340.6,49.3 L341.1,49.3 L341.7,49.3 L342.2,49.3 L342.7,49.2 L343.2,49.2 L343.8,49.1 L344.3,49.0 L344.9,49.0 L345.4,48.9 L346.0,48.8 L346.5,48.7 L347.1,48.5 L347.6,48.4 L348.2,48.2 L348.7,48.0 L349.3,47.9 L349.9,47.7 L350.4,47.4 L351.0,47.2 L351.6,46.9 L352.2,46.6 L352.7,46.3 L353.3,46.0 L353.9,45.6 L354.5,45.3 L355.1,44.8 L355.6,44.4 L356.2,44.0 L356.8,43.5 L357.3,43.0 L357.9,42.4 L358.4,41.9 L359.0,41.3 L359.5,40.7 L360.0,40.1 L360.5,39.5 L361.1,38.8 L361.6,38.2 L362.1,37.5 L362.6,36.8 L363.1,36.2 L363.6,35.5 L364.1,34.8 L364.6,34.1 L365.1,33.4 L365.6,32.7 L366.2,32.0 L366.7,31.3 L367.2,30.6 L367.6,29.9 L368.1,29.2 L368.6,28.6 L369.1,27.9 L369.6,27.2 L370.1,26.6 L370.6,26.0 L371.1,25.3 L371.5,24.8 L372.0,24.2 L372.5,23.7 L372.9,23.1 L373.4,22.7 L373.8,22.2 L374.3,21.8 L374.7,21.5 L375.1,21.2 L375.5,20.9 L375.8,20.6 L376.2,20.5 L376.5,20.3 L376.8,20.2 L377.0,20.2 L377.3,20.1 L377.5,20.1 L377.8,20.1 L378.0,20.2 L378.3,20.2 L378.6,20.3 L379.0,20.4 L379.3,20.6 L379.7,20.8 L380.1,21.0 L380.5,21.3 L381.0,21.6 L381.4,21.9 L381.8,22.3 L382.3,22.6 L382.8,23.0 L383.2,23.5 L383.7,23.9 L384.2,24.4 L384.7,24.8 L385.2,25.3 L385.6,25.8 L386.1,26.3 L386.6,26.8 L387.1,27.2 L387.7,27.7 L388.2,28.2 L388.7,28.7 L389.2,29.2 L389.7,29.7 L390.2,30.1 L390.7,30.6 L391.2,31.1 L391.7,31.6 L392.2,32.0 L392.7,32.5 L393.2,33.0 L393.7,33.5 L394.3,33.9 L394.8,34.4 L395.3,34.9 L395.8,35.3 L396.3,35.8 L396.8,36.3 L397.3,36.7 L397.8,37.2 L398.3,37.7 L398.8,38.1 L399.3,38.6 L399.9,39.1 L400.4,39.5 L400.9,40.0 L401.4,40.5 L401.9,40.9 L402.4,41.4 L402.9,41.9 L403.4,42.3 L403.9,42.8 L404.4,43.2 L404.9,43.7 L405.4,44.2 L405.9,44.6 L406.4,45.1 L406.9,45.5 L407.4,46.0 L407.9,46.4 L408.4,46.9 L408.9,47.3 L409.4,47.8 L409.9,48.2 L410.4,48.7 L410.9,49.1 L411.4,49.6 L411.9,50.0 L412.4,50.5 L413.0,50.9 L413.5,51.4 L414.0,51.8 L414.5,52.2 L415.0,52.7 L415.5,53.1 L416.0,53.6 L416.5,54.0 L417.0,54.4 L417.5,54.9 L418.0,55.3 L418.5,55.7 L419.0,56.2 L419.5,56.6 L420.0,57.0 L420.5,57.4 L421.0,57.9 L421.5,58.3 L422.0,58.7 L422.5,59.1 L423.0,59.6 L423.5,60.0 L424.0,60.4 L424.5,60.8 L425.0,61.2 L425.6,61.6 L426.1,62.0 L426.6,62.5 L427.1,62.9 L427.6,63.3 L428.1,63.7 L428.6,64.1 L429.1,64.5 L429.6,64.9 L430.1,65.3 L430.6,65.7 L431.1,66.1 L431.6,66.5 L432.1,66.9 L432.6,67.3 L433.1,67.7 L433.6,68.1 L434.1,68.5 L434.6,68.9 L435.1,69.3 L435.6,69.7 L436.1,70.0 L436.7,70.4 L437.2,70.8 L437.7,71.2 L438.2,71.6 L438.7,72.0 L439.2,72.3 L439.7,72.7 L440.2,73.1 L440.7,73.5 L441.2,73.8 L441.7,74.2 L442.2,74.6 L442.7,74.9 L443.2,75.3 L443.7,75.7 L444.2,76.0 L444.7,76.4 L445.2,76.8 L445.7,77.1 L446.2,77.5 L446.7,77.8 L447.2,78.2 L447.8,78.5 L448.3,78.9 L448.8,79.2 L449.3,79.6 L449.8,79.9 L450.3,80.3 L450.8,80.6 L451.3,81.0 L451.8,81.3 L452.3,81.6 L452.8,82.0 L453.3,82.3 L453.8,82.6 L454.3,83.0 L454.8,83.3 L455.3,83.6 L455.8,84.0 L456.3,84.3 L456.8,84.6 L457.3,84.9 L457.9,85.3 L458.4,85.6 L458.9,85.9 L459.4,86.2 L459.9,86.5 L460.4,86.8 L460.9,87.1 L461.4,87.5 L461.9,87.8 L462.4,88.1 L462.9,88.4 L463.4,88.7 L463.9,89.0 L464.4,89.3 L464.9,89.6 L465.4,89.9 L465.9,90.2 L466.4,90.5 L466.9,90.8 L467.4,91.1 L467.9,91.3 L468.5,91.6 L469.0,91.9 L469.5,92.2 L470.0,92.5 L470.5,92.8 L471.0,93.1 L471.5,93.3 L472.0,93.6 L472.5,93.9 L473.0,94.2 L473.5,94.5 L474.0,94.7 L474.5,95.0 L475.0,95.3 L475.5,95.5 L476.0,95.8 L476.5,96.1 L477.0,96.3 L477.5,96.6 L478.0,96.9 L478.5,97.1 L479.0,97.4 L479.5,97.7 L480.1,97.9 L480.6,98.2 L481.1,98.4 L481.6,98.7 L482.1,98.9 L482.6,99.2 L483.1,99.4 L483.6,99.7 L484.1,99.9 L484.6,100.2 L485.1,100.4 L485.6,100.7 L486.1,100.9 L486.6,101.2 L487.1,101.4 L487.6,101.7 L488.1,101.9 L488.6,102.1 L489.1,102.4 L489.6,102.6 L490.1,102.8 L490.6,103.1 L491.1,103.3 L491.7,103.5 L492.2,103.8 L492.7,104.0 L493.2,104.2 L493.7,104.4 L494.2,104.7 L494.7,104.9 L495.2,105.1 L495.7,105.3 L496.2,105.6 L496.7,105.8 L497.2,106.0 L497.7,106.2 L498.2,106.4 L498.7,106.7 L499.2,106.9 L499.7,107.1 L501.3,103.4 L500.8,103.2 L500.3,103.0 L499.8,102.8 L499.3,102.5 L498.8,102.3 L498.3,102.1 L497.8,101.9 L497.3,101.7 L496.8,101.4 L496.3,101.2 L495.8,101.0 L495.3,100.8 L494.8,100.5 L494.3,100.3 L493.8,100.1 L493.3,99.8 L492.9,99.6 L492.4,99.4 L491.9,99.2 L491.4,98.9 L490.9,98.7 L490.4,98.4 L489.9,98.2 L489.4,98.0 L488.9,97.7 L488.4,97.5 L487.9,97.2 L487.4,97.0 L486.9,96.8 L486.4,96.5 L485.9,96.3 L485.4,96.0 L484.9,95.8 L484.4,95.5 L483.9,95.3 L483.4,95.0 L482.9,94.8 L482.4,94.5 L481.9,94.2 L481.5,94.0 L481.0,93.7 L480.5,93.5 L480.0,93.2 L479.5,92.9 L479.0,92.7 L478.5,92.4 L478.0,92.1 L477.5,91.9 L477.0,91.6 L476.5,91.3 L476.0,91.1 L475.5,90.8 L475.0,90.5 L474.5,90.2 L474.0,90.0 L473.5,89.7 L473.0,89.4 L472.5,89.1 L472.0,88.8 L471.5,88.6 L471.0,88.3 L470.5,88.0 L470.1,87.7 L469.6,87.4 L469.1,87.1 L468.6,86.8 L468.1,86.5 L467.6,86.2 L467.1,85.9 L466.6,85.7 L466.1,85.4 L465.6,85.1 L465.1,84.7 L464.6,84.4 L464.1,84.1 L463.6,83.8 L463.1,83.5 L462.6,83.2 L462.1,82.9 L461.6,82.6 L461.1,82.3 L460.6,82.0 L460.1,81.6 L459.7,81.3 L459.2,81.0 L458.7,80.7 L458.2,80.4 L457.7,80.0 L457.2,79.7 L456.7,79.4 L456.2,79.1 L455.7,78.7 L455.2,78.4 L454.7,78.1 L454.2,77.7 L453.7,77.4 L453.2,77.0 L452.7,76.7 L452.2,76.4 L451.7,76.0 L451.2,75.7 L450.7,75.3 L450.2,75.0 L449.8,74.6 L449.3,74.3 L448.8,73.9 L448.3,73.6 L447.8,73.2 L447.3,72.9 L446.8,72.5 L446.3,72.1 L445.8,71.8 L445.3,71.4 L444.8,71.0 L444.3,70.7 L443.8,70.3 L443.3,69.9 L442.8,69.6 L442.3,69.2 L441.8,68.8 L441.3,68.4 L440.8,68.1 L440.3,67.7 L439.8,67.3 L439.3,66.9 L438.9,66.5 L438.4,66.1 L437.9,65.8 L437.4,65.4 L436.9,65.0 L436.4,64.6 L435.9,64.2 L435.4,63.8 L434.9,63.4 L434.4,63.0 L433.9,62.6 L433.4,62.2 L432.9,61.8 L432.4,61.4 L431.9,61.0 L431.4,60.6 L430.9,60.2 L430.4,59.8 L429.9,59.4 L429.4,59.0 L428.9,58.6 L428.4,58.1 L428.0,57.7 L427.5,57.3 L427.0,56.9 L426.5,56.5 L426.0,56.1 L425.5,55.6 L425.0,55.2 L424.5,54.8 L424.0,54.4 L423.5,53.9 L423.0,53.5 L422.5,53.1 L422.0,52.7 L421.5,52.2 L421.0,51.8 L420.5,51.4 L420.0,50.9 L419.5,50.5 L419.0,50.1 L418.5,49.6 L418.0,49.2 L417.5,48.7 L417.0,48.3 L416.5,47.9 L416.0,47.4 L415.6,47.0 L415.1,46.5 L414.6,46.1 L414.1,45.6 L413.6,45.2 L413.1,44.7 L412.6,44.3 L412.1,43.8 L411.6,43.4 L411.1,42.9 L410.6,42.5 L410.1,42.0 L409.6,41.6 L409.1,41.1 L408.6,40.7 L408.1,40.2 L407.6,39.7 L407.1,39.3 L406.6,38.8 L406.1,38.3 L405.6,37.9 L405.1,37.4 L404.6,37.0 L404.1,36.5 L403.6,36.0 L403.1,35.5 L402.7,35.1 L402.2,34.6 L401.7,34.1 L401.2,33.6 L400.7,33.2 L400.2,32.7 L399.7,32.2 L399.2,31.7 L398.7,31.2 L398.2,30.8 L397.7,30.3 L397.3,29.8 L396.8,29.3 L396.3,28.8 L395.8,28.3 L395.3,27.9 L394.8,27.4 L394.3,26.9 L393.8,26.4 L393.3,25.9 L392.8,25.4 L392.3,24.9 L391.8,24.4 L391.3,23.9 L390.9,23.4 L390.4,23.0 L389.9,22.5 L389.4,22.0 L388.8,21.5 L388.3,21.0 L387.8,20.5 L387.3,20.0 L386.8,19.5 L386.2,19.1 L385.7,18.6 L385.2,18.1 L384.6,17.7 L384.0,17.3 L383.5,16.9 L382.9,16.5 L382.3,16.2 L381.7,15.8 L381.0,15.5 L380.4,15.3 L379.7,15.1 L379.0,14.9 L378.2,14.8 L377.5,14.8 L376.7,14.8 L376.0,15.0 L375.2,15.2 L374.5,15.4 L373.8,15.7 L373.2,16.1 L372.5,16.5 L371.9,16.9 L371.3,17.4 L370.7,17.9 L370.2,18.4 L369.6,19.0 L369.1,19.5 L368.5,20.1 L368.0,20.8 L367.5,21.4 L366.9,22.0 L366.4,22.7 L365.9,23.4 L365.4,24.1 L364.9,24.7 L364.4,25.4 L363.9,26.1 L363.4,26.8 L362.8,27.5 L362.3,28.2 L361.8,28.9 L361.4,29.6 L360.9,30.3 L360.4,31.0 L359.9,31.7 L359.4,32.3 L358.9,33.0 L358.4,33.6 L357.9,34.3 L357.4,34.9 L356.9,35.5 L356.5,36.1 L356.0,36.7 L355.5,37.2 L355.0,37.8 L354.6,38.3 L354.1,38.8 L353.7,39.3 L353.2,39.7 L352.8,40.2 L352.4,40.6 L351.9,41.0 L351.5,41.4 L351.1,41.7 L350.7,42.1 L350.3,42.4 L349.8,42.7 L349.4,42.9 L349.0,43.2 L348.6,43.4 L348.1,43.7 L347.7,43.9 L347.3,44.1 L346.8,44.3 L346.4,44.4 L345.9,44.6 L345.5,44.7 L345.0,44.8 L344.6,44.9 L344.1,45.0 L343.7,45.1 L343.2,45.2 L342.8,45.3 L342.3,45.4 L341.8,45.4 L341.3,45.5 L340.9,45.6 L340.4,45.6 L339.7,45.7 L339.3,45.7 L338.9,45.7 L338.5,45.7 L338.1,45.8 L337.6,45.8 L337.2,45.8 L336.8,45.8 L336.4,45.8 L336.0,45.9 L335.5,45.9 L335.1,45.9 L334.7,45.9 L334.3,45.9 L333.8,46.0 L333.4,46.0 L332.9,46.0 L332.5,46.1 L332.0,46.1 L331.5,46.1 L331.1,46.1 L330.6,46.2 L330.1,46.2 L329.6,46.2 L329.2,46.3 L328.7,46.3 L328.2,46.3 L327.8,46.3 L327.3,46.4 L326.8,46.4 L326.3,46.4 L325.8,46.4 L325.3,46.5 L324.8,46.5 L324.3,46.5 L323.7,46.6 L323.2,46.6 L322.7,46.6 L322.2,46.6 L321.6,46.7 L321.1,46.7 L320.6,46.7 L320.1,46.7 L319.6,46.8 L319.1,46.8 L318.7,46.8 L318.2,46.8 L317.8,46.9 L317.4,46.9 L316.9,46.9 L316.5,46.9 L316.1,47.0 L315.7,47.0 L315.3,47.0 L314.9,47.0 L314.5,47.1 L314.1,47.1 L313.7,47.1 L313.2,47.1 L312.8,47.1 L312.3,47.2 L311.9,47.2 L311.5,47.2 L311.0,47.2 L310.6,47.2 L310.1,47.2 L309.7,47.2 L309.2,47.3 L308.8,47.3 L308.4,47.3 L307.9,47.3 L307.5,47.3Z" fill="#e0000f"/><circle cx="307.5" cy="49.0" r="1.71" fill="#e0000f"/><circle cx="500.5" cy="105.2" r="2.00" fill="#e0000f"/>
<line x1="359.3" y1="70.2" x2="373.5" y2="70.2" stroke="#999" stroke-width="1"/>
<path d="M372.2,67.8 L379.2,70.2 L372.2,72.6 Z" fill="#000"/>
<rect x="381.4" y="83.5" width="71.40000000000003" height="56.5" fill="#fff" stroke="#c6c6c6" stroke-width="1"/>
<line x1="381.4" y1="128.70" x2="383.9" y2="128.70" stroke="#b8b8b8" stroke-width="0.8"/>
<line x1="452.8" y1="128.70" x2="450.3" y2="128.70" stroke="#b8b8b8" stroke-width="0.8"/>
<line x1="381.4" y1="117.40" x2="383.9" y2="117.40" stroke="#b8b8b8" stroke-width="0.8"/>
<line x1="452.8" y1="117.40" x2="450.3" y2="117.40" stroke="#b8b8b8" stroke-width="0.8"/>
<line x1="381.4" y1="106.10" x2="383.9" y2="106.10" stroke="#b8b8b8" stroke-width="0.8"/>
<line x1="452.8" y1="106.10" x2="450.3" y2="106.10" stroke="#b8b8b8" stroke-width="0.8"/>
<line x1="381.4" y1="94.80" x2="383.9" y2="94.80" stroke="#b8b8b8" stroke-width="0.8"/>
<line x1="452.8" y1="94.80" x2="450.3" y2="94.80" stroke="#b8b8b8" stroke-width="0.8"/>
<line x1="399.25" y1="83.5" x2="399.25" y2="86.0" stroke="#b8b8b8" stroke-width="0.8"/>
<line x1="399.25" y1="140" x2="399.25" y2="137.5" stroke="#b8b8b8" stroke-width="0.8"/>
<line x1="417.10" y1="83.5" x2="417.10" y2="86.0" stroke="#b8b8b8" stroke-width="0.8"/>
<line x1="417.10" y1="140" x2="417.10" y2="137.5" stroke="#b8b8b8" stroke-width="0.8"/>
<line x1="434.95" y1="83.5" x2="434.95" y2="86.0" stroke="#b8b8b8" stroke-width="0.8"/>
<line x1="434.95" y1="140" x2="434.95" y2="137.5" stroke="#b8b8b8" stroke-width="0.8"/>
<text x="381.20" y="83.60" font-size="10.8" text-anchor="end" font-weight="normal" fill="#111" stroke="#111" stroke-width="0.5" >0.5</text>
<text x="379.50" y="140.80" font-size="10.5" text-anchor="end" font-weight="normal" fill="#111" stroke="#111" stroke-width="0.5" >0</text>
<text x="381.50" y="149.20" font-size="10.5" text-anchor="middle" font-weight="normal" fill="#111" stroke="#111" stroke-width="0.5" >0</text>
<text x="451.80" y="148.80" font-size="10.5" text-anchor="middle" font-weight="normal" fill="#111" stroke="#111" stroke-width="0.5" >200</text>
<text x="418.00" y="152.50" font-size="11" text-anchor="middle" font-weight="bold" fill="#111" stroke="#111" stroke-width="0.25" >T (K)</text>
<text transform="translate(371.6,111.3) rotate(-90)" font-size="10.3" font-weight="bold" text-anchor="middle" fill="#111">M (emu/g)</text>
<text x="432.30" y="97.60" font-size="10.5" text-anchor="start" font-weight="bold" fill="#0b5e12" stroke="#0b5e12" stroke-width="0.25" >H</text>
<path d="M383.10,134.70 C384.53,135.83 385.85,137.95 387.40,138.10 C388.98,138.26 391.23,136.85 392.50,135.50 C393.85,134.07 394.41,132.31 395.10,129.60 C396.43,124.37 396.50,111.91 397.10,105.60 C397.49,101.48 397.47,95.59 398.20,95.40 C398.53,95.32 399.05,96.12 399.40,97.10 C400.61,100.54 400.27,115.78 401.00,122.70 C401.50,127.46 401.03,132.12 402.80,134.70 C404.13,136.64 406.39,137.41 408.80,138.10 C411.87,138.98 415.29,138.48 420.00,138.60 C428.01,138.80 441.67,138.73 452.50,138.80" fill="none" stroke="#0b5e12" stroke-width="1.1" stroke-dasharray="4,1.5,1,1.5"/>
<path d="M383.10,92.00 C385.40,92.03 387.71,92.07 390.00,92.10 C392.27,92.13 395.33,92.62 396.80,92.20 C397.60,91.97 397.94,90.97 398.50,91.10 C399.36,91.30 399.83,93.91 401.00,95.20 C402.47,96.82 405.12,98.17 407.00,99.70 C408.77,101.14 409.94,102.82 412.00,104.10 C414.56,105.69 418.31,106.81 421.50,108.00 C424.65,109.17 427.58,110.30 431.00,111.20 C434.87,112.22 439.76,112.95 443.60,113.60 C446.82,114.14 449.53,114.47 452.50,114.90" fill="none" stroke="#0b5e12" stroke-width="2.2"/>
<path d="M383.10,132.10 C384.40,131.93 385.65,131.86 387.00,131.60 C388.50,131.31 390.39,131.03 391.70,130.40 C392.82,129.87 393.76,129.06 394.50,128.30 C395.14,127.65 395.56,127.06 396.00,126.20 C396.57,125.07 396.99,123.42 397.40,122.00 C397.82,120.56 398.17,119.16 398.50,117.60 C398.87,115.85 399.14,113.64 399.50,112.00 C399.78,110.69 399.98,109.54 400.40,108.50 C400.77,107.57 401.20,106.55 401.80,106.00 C402.28,105.55 402.81,105.29 403.50,105.20 C404.44,105.07 405.78,105.34 407.00,105.80 C408.57,106.40 410.00,107.97 412.00,108.90 C414.60,110.11 418.33,111.00 421.50,112.00 C424.66,113.00 427.58,114.08 431.00,114.90 C434.88,115.83 439.75,116.68 443.60,117.10 C446.81,117.45 449.53,117.37 452.50,117.50" fill="none" stroke="#0b5e12" stroke-width="2.2"/>
<line x1="405.4" y1="128.7" x2="414" y2="128.7" stroke="#000" stroke-width="1"/>
<path d="M412.5,126.6 L419,128.7 L412.5,130.8 Z" fill="#000"/>
<rect x="45.6" y="204.6" width="191.8" height="144.70000000000002" fill="none" stroke="#c6c6c6" stroke-width="1.2"/>
<line x1="62.04" y1="349.3" x2="62.04" y2="345.3" stroke="#b8b8b8" stroke-width="1"/>
<line x1="62.04" y1="204.6" x2="62.04" y2="208.6" stroke="#b8b8b8" stroke-width="1"/>
<line x1="83.96" y1="349.3" x2="83.96" y2="345.3" stroke="#b8b8b8" stroke-width="1"/>
<line x1="83.96" y1="204.6" x2="83.96" y2="208.6" stroke="#b8b8b8" stroke-width="1"/>
<line x1="105.88" y1="349.3" x2="105.88" y2="345.3" stroke="#b8b8b8" stroke-width="1"/>
<line x1="105.88" y1="204.6" x2="105.88" y2="208.6" stroke="#b8b8b8" stroke-width="1"/>
<line x1="127.80" y1="349.3" x2="127.80" y2="345.3" stroke="#b8b8b8" stroke-width="1"/>
<line x1="127.80" y1="204.6" x2="127.80" y2="208.6" stroke="#b8b8b8" stroke-width="1"/>
<line x1="149.72" y1="349.3" x2="149.72" y2="345.3" stroke="#b8b8b8" stroke-width="1"/>
<line x1="149.72" y1="204.6" x2="149.72" y2="208.6" stroke="#b8b8b8" stroke-width="1"/>
<line x1="171.64" y1="349.3" x2="171.64" y2="345.3" stroke="#b8b8b8" stroke-width="1"/>
<line x1="171.64" y1="204.6" x2="171.64" y2="208.6" stroke="#b8b8b8" stroke-width="1"/>
<line x1="193.56" y1="349.3" x2="193.56" y2="345.3" stroke="#b8b8b8" stroke-width="1"/>
<line x1="193.56" y1="204.6" x2="193.56" y2="208.6" stroke="#b8b8b8" stroke-width="1"/>
<line x1="215.48" y1="349.3" x2="215.48" y2="345.3" stroke="#b8b8b8" stroke-width="1"/>
<line x1="215.48" y1="204.6" x2="215.48" y2="208.6" stroke="#b8b8b8" stroke-width="1"/>
<line x1="45.6" y1="331.21" x2="49.6" y2="331.21" stroke="#b8b8b8" stroke-width="1"/>
<line x1="45.6" y1="313.12" x2="49.6" y2="313.12" stroke="#b8b8b8" stroke-width="1"/>
<line x1="45.6" y1="295.04" x2="49.6" y2="295.04" stroke="#b8b8b8" stroke-width="1"/>
<line x1="45.6" y1="276.95" x2="49.6" y2="276.95" stroke="#b8b8b8" stroke-width="1"/>
<line x1="45.6" y1="258.86" x2="49.6" y2="258.86" stroke="#b8b8b8" stroke-width="1"/>
<line x1="45.6" y1="240.77" x2="49.6" y2="240.77" stroke="#b8b8b8" stroke-width="1"/>
<line x1="45.6" y1="222.69" x2="49.6" y2="222.69" stroke="#b8b8b8" stroke-width="1"/>
<line x1="237.4" y1="325.18" x2="233.4" y2="325.18" stroke="#b8b8b8" stroke-width="1"/>
<line x1="237.4" y1="301.07" x2="233.4" y2="301.07" stroke="#b8b8b8" stroke-width="1"/>
<line x1="237.4" y1="276.95" x2="233.4" y2="276.95" stroke="#b8b8b8" stroke-width="1"/>
<line x1="237.4" y1="252.83" x2="233.4" y2="252.83" stroke="#b8b8b8" stroke-width="1"/>
<line x1="237.4" y1="228.72" x2="233.4" y2="228.72" stroke="#b8b8b8" stroke-width="1"/>
<text x="62.04" y="362.00" font-size="12" text-anchor="middle" font-weight="normal" fill="#111" stroke="#111" stroke-width="0.5" >140</text>
<text x="105.88" y="362.00" font-size="12" text-anchor="middle" font-weight="normal" fill="#111" stroke="#111" stroke-width="0.5" >180</text>
<text x="149.72" y="362.00" font-size="12" text-anchor="middle" font-weight="normal" fill="#111" stroke="#111" stroke-width="0.5" >220</text>
<text x="193.56" y="362.00" font-size="12" text-anchor="middle" font-weight="normal" fill="#111" stroke="#111" stroke-width="0.5" >260</text>
<text x="237.40" y="362.00" font-size="12" text-anchor="middle" font-weight="normal" fill="#111" stroke="#111" stroke-width="0.5" >300</text>
<text x="41.60" y="350.90" font-size="12" text-anchor="end" font-weight="normal" fill="#111" stroke="#111" stroke-width="0.5" >0</text>
<text x="41.60" y="332.81" font-size="12" text-anchor="end" font-weight="normal" fill="#111" stroke="#111" stroke-width="0.5" >5</text>
<text x="41.60" y="314.73" font-size="12" text-anchor="end" font-weight="normal" fill="#111" stroke="#111" stroke-width="0.5" >10</text>
<text x="41.60" y="296.64" font-size="12" text-anchor="end" font-weight="normal" fill="#111" stroke="#111" stroke-width="0.5" >15</text>
<text x="41.60" y="278.55" font-size="12" text-anchor="end" font-weight="normal" fill="#111" stroke="#111" stroke-width="0.5" >20</text>
<text x="41.60" y="260.46" font-size="12" text-anchor="end" font-weight="normal" fill="#111" stroke="#111" stroke-width="0.5" >25</text>
<text x="41.60" y="242.37" font-size="12" text-anchor="end" font-weight="normal" fill="#111" stroke="#111" stroke-width="0.5" >30</text>
<text x="41.60" y="224.29" font-size="12" text-anchor="end" font-weight="normal" fill="#111" stroke="#111" stroke-width="0.5" >35</text>
<text x="41.60" y="206.20" font-size="12" text-anchor="end" font-weight="normal" fill="#111" stroke="#111" stroke-width="0.5" >40</text>
<text x="242.50" y="350.90" font-size="12" text-anchor="start" font-weight="normal" fill="#111" stroke="#111" stroke-width="0.5" >0</text>
<text x="242.50" y="326.78" font-size="12" text-anchor="start" font-weight="normal" fill="#111" stroke="#111" stroke-width="0.5" >50</text>
<text x="242.50" y="302.67" font-size="12" text-anchor="start" font-weight="normal" fill="#111" stroke="#111" stroke-width="0.5" >100</text>
<text x="242.50" y="278.55" font-size="12" text-anchor="start" font-weight="normal" fill="#111" stroke="#111" stroke-width="0.5" >150</text>
<text x="242.50" y="254.43" font-size="12" text-anchor="start" font-weight="normal" fill="#111" stroke="#111" stroke-width="0.5" >200</text>
<text x="242.50" y="230.32" font-size="12" text-anchor="start" font-weight="normal" fill="#111" stroke="#111" stroke-width="0.5" >250</text>
<text x="242.50" y="206.20" font-size="12" text-anchor="start" font-weight="normal" fill="#111" stroke="#111" stroke-width="0.5" >300</text>
<text x="146.50" y="377.00" font-size="13.5" text-anchor="middle" font-weight="bold" fill="#111" stroke="#111" stroke-width="0.25" >T (K)</text>
<text transform="translate(19.7,276) rotate(-90)" font-size="13.6" font-weight="bold" text-anchor="middle" fill="#111" stroke="#111" stroke-width="0.2">1/<tspan font-family="Liberation Serif" font-style="italic" font-weight="bold" font-size="14.5">&#967;</tspan> (g Oe/emu)</text>
<text x="236.40" y="214.00" font-size="14" text-anchor="end" font-weight="normal" fill="#111" stroke="#111" stroke-width="0.5" >c)</text>
<text x="125.70" y="223.30" font-size="12" text-anchor="start" font-weight="bold" fill="#0000dd" stroke="#0000dd" stroke-width="0.25" >C/V/S</text>
<text x="190.20" y="236.80" font-size="12.5" text-anchor="start" font-weight="bold" fill="#0b5e12" stroke="#0b5e12" stroke-width="0.25" >H</text>
<text x="209.50" y="272.00" font-size="12.5" text-anchor="start" font-weight="bold" fill="#e0000f" stroke="#e0000f" stroke-width="0.25" >C/S</text>
<line x1="45.6" y1="334.1" x2="238" y2="246.3" stroke="#b0b0b0" stroke-width="0.9"/>
<line x1="150" y1="228.4" x2="179" y2="210.5" stroke="#b0b0b0" stroke-width="0.9"/>
<path d="M45.6,309.5 L46.1,309.4 L46.6,309.3 L47.1,309.2 L47.6,309.1 L48.1,309.0 L48.6,308.9 L49.1,308.8 L49.6,308.7 L50.1,308.6 L50.6,308.5 L51.1,308.4 L51.6,308.3 L52.1,308.1 L52.6,308.0 L53.1,307.9 L53.6,307.8 L54.1,307.7 L54.6,307.6 L55.1,307.5 L55.6,307.4 L56.1,307.3 L56.6,307.2 L57.1,307.0 L57.6,306.9 L58.1,306.8 L58.6,306.7 L59.1,306.6 L59.6,306.5 L60.1,306.4 L60.6,306.2 L61.1,306.1 L61.6,306.0 L62.1,305.9 L62.6,305.8 L63.1,305.7 L63.6,305.6 L64.1,305.4 L64.6,305.3 L65.1,305.2 L65.6,305.1 L66.1,305.0 L66.6,304.9 L67.1,304.7 L67.6,304.6 L68.1,304.5 L68.6,304.4 L69.1,304.3 L69.6,304.2 L70.1,304.0 L70.6,303.9 L71.1,303.8 L71.6,303.7 L72.1,303.6 L72.6,303.4 L73.1,303.3 L73.6,303.2 L74.1,303.1 L74.6,303.0 L75.1,302.8 L75.6,302.7 L76.1,302.6 L76.6,302.5 L77.1,302.3 L77.6,302.2 L78.1,302.1 L78.6,302.0 L79.1,301.9 L79.6,301.7 L80.1,301.6 L80.6,301.5 L81.1,301.4 L81.6,301.2 L82.1,301.1 L82.6,301.0 L83.1,300.9 L83.6,300.7 L84.1,300.6 L84.6,300.5 L85.1,300.3 L85.6,300.2 L86.1,300.1 L86.6,300.0 L87.1,299.8 L87.6,299.7 L88.1,299.6 L88.6,299.4 L89.1,299.3 L89.6,299.2 L90.1,299.1 L90.6,298.9 L91.1,298.8 L91.6,298.7 L92.1,298.5 L92.6,298.4 L93.1,298.3 L93.6,298.1 L94.1,298.0 L94.6,297.9 L95.1,297.7 L95.6,297.6 L96.1,297.5 L96.6,297.3 L97.1,297.2 L97.6,297.1 L98.1,296.9 L98.6,296.8 L99.1,296.7 L99.6,296.5 L100.1,296.4 L100.6,296.3 L101.1,296.1 L101.6,296.0 L102.1,295.8 L102.6,295.7 L103.1,295.6 L103.6,295.4 L104.1,295.3 L104.6,295.1 L105.1,295.0 L105.6,294.9 L106.1,294.7 L106.6,294.6 L107.1,294.4 L107.6,294.3 L108.1,294.2 L108.6,294.0 L109.1,293.9 L109.6,293.7 L110.1,293.6 L110.6,293.4 L111.1,293.3 L111.6,293.2 L112.1,293.0 L112.6,292.9 L113.1,292.7 L113.6,292.6 L114.1,292.4 L114.6,292.3 L115.1,292.1 L115.6,292.0 L116.1,291.8 L116.6,291.7 L117.1,291.5 L117.6,291.4 L118.1,291.3 L118.6,291.1 L119.1,291.0 L119.6,290.8 L120.1,290.7 L120.6,290.5 L121.1,290.4 L121.6,290.2 L122.1,290.1 L122.6,289.9 L123.1,289.7 L123.6,289.6 L124.1,289.4 L124.6,289.3 L125.1,289.1 L125.6,289.0 L126.1,288.8 L126.6,288.7 L127.1,288.5 L127.6,288.4 L128.1,288.2 L128.6,288.0 L129.1,287.9 L129.6,287.7 L130.1,287.6 L130.6,287.4 L131.1,287.3 L131.6,287.1 L132.1,286.9 L132.6,286.8 L133.1,286.6 L133.6,286.5 L134.1,286.3 L134.6,286.1 L135.1,286.0 L135.6,285.8 L136.1,285.7 L136.6,285.5 L137.1,285.3 L137.6,285.2 L138.1,285.0 L138.6,284.8 L139.1,284.7 L139.6,284.5 L140.1,284.4 L140.6,284.2 L141.1,284.0 L141.6,283.9 L142.1,283.7 L142.6,283.5 L143.1,283.4 L143.6,283.2 L144.1,283.0 L144.6,282.9 L145.1,282.7 L145.6,282.5 L146.1,282.3 L146.6,282.2 L147.1,282.0 L147.6,281.8 L148.1,281.7 L148.6,281.5 L149.1,281.3 L149.6,281.1 L150.1,281.0 L150.6,280.8 L151.1,280.6 L151.6,280.5 L152.1,280.3 L152.6,280.1 L153.1,279.9 L153.6,279.8 L154.1,279.6 L154.6,279.4 L155.1,279.2 L155.6,279.0 L156.1,278.9 L156.6,278.7 L157.1,278.5 L157.6,278.3 L158.1,278.2 L158.6,278.0 L159.1,277.8 L159.6,277.6 L160.1,277.4 L160.6,277.3 L161.1,277.1 L161.6,276.9 L162.1,276.7 L162.6,276.5 L163.1,276.3 L163.6,276.2 L164.1,276.0 L164.6,275.8 L165.1,275.6 L165.6,275.4 L166.1,275.2 L166.6,275.0 L167.1,274.9 L167.6,274.7 L168.1,274.5 L168.6,274.3 L169.1,274.1 L169.6,273.9 L170.1,273.7 L170.6,273.5 L171.1,273.3 L171.6,273.2 L172.1,273.0 L172.6,272.8 L173.1,272.6 L173.6,272.4 L174.1,272.2 L174.6,272.0 L175.1,271.8 L175.6,271.6 L176.1,271.4 L176.6,271.2 L177.1,271.0 L177.6,270.8 L178.1,270.6 L178.6,270.4 L179.1,270.2 L179.6,270.0 L180.1,269.8 L180.6,269.6 L181.1,269.5 L181.6,269.3 L182.1,269.1 L182.6,268.9 L183.1,268.6 L183.6,268.4 L184.1,268.2 L184.6,268.0 L185.1,267.8 L185.6,267.6 L186.1,267.4 L186.6,267.2 L187.1,267.0 L187.6,266.8 L188.1,266.6 L188.6,266.4 L189.1,266.2 L189.6,266.0 L190.1,265.8 L190.6,265.6 L191.1,265.4 L191.6,265.2 L192.1,265.0 L192.6,264.7 L193.1,264.5 L193.6,264.3 L194.1,264.1 L194.6,263.9 L195.1,263.7 L195.6,263.5 L196.1,263.3 L196.6,263.0 L197.1,262.8 L197.6,262.6 L198.1,262.4 L198.6,262.2 L199.1,262.0 L199.6,261.8 L200.1,261.5 L200.6,261.3 L201.1,261.1 L201.6,260.9 L202.1,260.7 L202.6,260.4 L203.1,260.2 L203.6,260.0 L204.1,259.8 L204.6,259.6 L205.1,259.3 L205.6,259.1 L206.1,258.9 L206.6,258.7 L207.1,258.5 L207.6,258.2 L208.1,258.0 L208.6,257.8 L209.1,257.6 L209.6,257.3 L210.1,257.1 L210.6,256.9 L211.1,256.6 L211.6,256.4 L212.1,256.2 L212.6,256.0 L213.1,255.7 L213.6,255.5 L214.1,255.3 L214.6,255.0 L215.1,254.8 L215.6,254.6 L216.1,254.3 L216.6,254.1 L217.1,253.9 L217.6,253.6 L218.1,253.4 L218.6,253.2 L219.1,252.9 L219.6,252.7 L220.1,252.5 L220.6,252.2 L221.1,252.0 L221.6,251.7 L222.1,251.5 L222.6,251.3 L223.1,251.0 L223.6,250.8 L224.1,250.6 L224.6,250.3 L225.1,250.1 L225.6,249.8 L226.1,249.6 L226.6,249.3 L227.1,249.1 L227.6,248.8 L228.1,248.6 L228.6,248.4 L229.1,248.1 L229.6,247.9 L230.1,247.6 L230.6,247.4 L231.1,247.1 L231.6,246.9 L232.1,246.6 L232.6,246.4 L233.1,246.1 L233.6,245.9 L234.1,245.6 L234.6,245.4 L235.1,245.1 L235.6,244.9 L236.1,244.6 L236.6,244.4 L237.1,244.1" fill="none" stroke="#e0000f" stroke-width="3.5"/>
<path d="M45.6,281.1 L46.1,280.9 L46.6,280.6 L47.1,280.4 L47.6,280.2 L48.1,279.9 L48.6,279.7 L49.1,279.4 L49.6,279.2 L50.1,278.9 L50.6,278.7 L51.1,278.5 L51.6,278.2 L52.1,278.0 L52.6,277.7 L53.1,277.5 L53.6,277.3 L54.1,277.0 L54.6,276.8 L55.1,276.6 L55.6,276.3 L56.1,276.1 L56.6,275.8 L57.1,275.6 L57.6,275.4 L58.1,275.1 L58.6,274.9 L59.1,274.7 L59.6,274.4 L60.1,274.2 L60.6,273.9 L61.1,273.7 L61.6,273.5 L62.1,273.2 L62.6,273.0 L63.1,272.8 L63.6,272.5 L64.1,272.3 L64.6,272.1 L65.1,271.8 L65.6,271.6 L66.1,271.4 L66.6,271.1 L67.1,270.9 L67.6,270.7 L68.1,270.4 L68.6,270.2 L69.1,270.0 L69.6,269.7 L70.1,269.5 L70.6,269.2 L71.1,269.0 L71.6,268.8 L72.1,268.5 L72.6,268.3 L73.1,268.1 L73.6,267.8 L74.1,267.6 L74.6,267.4 L75.1,267.1 L75.6,266.9 L76.1,266.7 L76.6,266.4 L77.1,266.2 L77.6,266.0 L78.1,265.7 L78.6,265.5 L79.1,265.3 L79.6,265.0 L80.1,264.8 L80.6,264.6 L81.1,264.3 L81.6,264.1 L82.1,263.9 L82.6,263.6 L83.1,263.4 L83.6,263.1 L84.1,262.9 L84.6,262.7 L85.1,262.4 L85.6,262.2 L86.1,262.0 L86.6,261.7 L87.1,261.5 L87.6,261.2 L88.1,261.0 L88.6,260.8 L89.1,260.5 L89.6,260.3 L90.1,260.1 L90.6,259.8 L91.1,259.6 L91.6,259.3 L92.1,259.1 L92.6,258.9 L93.1,258.6 L93.6,258.4 L94.1,258.1 L94.6,257.9 L95.1,257.7 L95.6,257.4 L96.1,257.2 L96.6,256.9 L97.1,256.7 L97.6,256.5 L98.1,256.2 L98.6,256.0 L99.1,255.7 L99.6,255.5 L100.1,255.2 L100.6,255.0 L101.1,254.7 L101.6,254.5 L102.1,254.3 L102.6,254.0 L103.1,253.8 L103.6,253.5 L104.1,253.3 L104.6,253.0 L105.1,252.8 L105.6,252.5 L106.1,252.3 L106.6,252.0 L107.1,251.8 L107.6,251.5 L108.1,251.3 L108.6,251.0 L109.1,250.8 L109.6,250.5 L110.1,250.3 L110.6,250.0 L111.1,249.8 L111.6,249.5 L112.1,249.2 L112.6,249.0 L113.1,248.7 L113.6,248.5 L114.1,248.2 L114.6,248.0 L115.1,247.7 L115.6,247.4 L116.1,247.2 L116.6,246.9 L117.1,246.7 L117.6,246.4 L118.1,246.1 L118.6,245.9 L119.1,245.6 L119.6,245.4 L120.1,245.1 L120.6,244.8 L121.1,244.6 L121.6,244.3 L122.1,244.0 L122.6,243.8 L123.1,243.5 L123.6,243.2 L124.1,243.0 L124.6,242.7 L125.1,242.4 L125.6,242.1 L126.1,241.9 L126.6,241.6 L127.1,241.3 L127.6,241.1 L128.1,240.8 L128.6,240.5 L129.1,240.2 L129.6,240.0 L130.1,239.7 L130.6,239.4 L131.1,239.1 L131.6,238.8 L132.1,238.6 L132.6,238.3 L133.1,238.0 L133.6,237.7 L134.1,237.4 L134.6,237.1 L135.1,236.9 L135.6,236.6 L136.1,236.3 L136.6,236.0 L137.1,235.7 L137.6,235.4 L138.1,235.1 L138.6,234.8 L139.1,234.5 L139.6,234.3 L140.1,234.0 L140.6,233.7 L141.1,233.4 L141.6,233.1 L142.1,232.8 L142.6,232.5 L143.1,232.2 L143.6,231.9 L144.1,231.6 L144.6,231.3 L145.1,231.0 L145.6,230.7 L146.1,230.4 L146.6,230.1 L147.1,229.7 L147.6,229.4 L148.1,229.1 L148.6,228.8 L149.1,228.5 L149.6,228.2 L150.1,227.9 L150.6,227.6 L151.1,227.3 L151.6,226.9 L152.1,226.6 L152.6,226.3 L153.1,226.0 L153.6,225.7 L154.1,225.3 L154.6,225.0 L155.1,224.7 L155.6,224.4 L156.1,224.1 L156.6,223.7 L157.1,223.4 L157.6,223.1 L158.1,222.7 L158.6,222.4 L159.1,222.1 L159.6,221.7 L160.1,221.4 L160.6,221.1 L161.1,220.7 L161.6,220.4 L162.1,220.1 L162.6,219.7 L163.1,219.4 L163.6,219.0 L164.1,218.7 L164.6,218.4 L165.1,218.0 L165.6,217.7 L166.1,217.3 L166.6,217.0 L167.1,216.6 L167.6,216.3" fill="none" stroke="#0000dd" stroke-width="3.5"/>
<path d="M45.6,258.1 L46.1,257.9 L46.6,257.8 L47.1,257.7 L47.6,257.5 L48.1,257.4 L48.6,257.3 L49.1,257.2 L49.6,257.0 L50.1,256.9 L50.6,256.8 L51.1,256.6 L51.6,256.5 L52.1,256.4 L52.6,256.3 L53.1,256.1 L53.6,256.0 L54.1,255.9 L54.6,255.8 L55.1,255.6 L55.6,255.5 L56.1,255.4 L56.6,255.2 L57.1,255.1 L57.6,255.0 L58.1,254.9 L58.6,254.7 L59.1,254.6 L59.6,254.5 L60.1,254.4 L60.6,254.2 L61.1,254.1 L61.6,254.0 L62.1,253.8 L62.6,253.7 L63.1,253.6 L63.6,253.5 L64.1,253.3 L64.6,253.2 L65.1,253.1 L65.6,253.0 L66.1,252.8 L66.6,252.7 L67.1,252.6 L67.6,252.4 L68.1,252.3 L68.6,252.2 L69.1,252.1 L69.6,251.9 L70.1,251.8 L70.6,251.7 L71.1,251.6 L71.6,251.4 L72.1,251.3 L72.6,251.2 L73.1,251.1 L73.6,250.9 L74.1,250.8 L74.6,250.7 L75.1,250.6 L75.6,250.4 L76.1,250.3 L76.6,250.2 L77.1,250.1 L77.6,249.9 L78.1,249.8 L78.6,249.7 L79.1,249.5 L79.6,249.4 L80.1,249.3 L80.6,249.2 L81.1,249.0 L81.6,248.9 L82.1,248.8 L82.6,248.7 L83.1,248.5 L83.6,248.4 L84.1,248.3 L84.6,248.2 L85.1,248.0 L85.6,247.9 L86.1,247.8 L86.6,247.7 L87.1,247.5 L87.6,247.4 L88.1,247.3 L88.6,247.2 L89.1,247.1 L89.6,246.9 L90.1,246.8 L90.6,246.7 L91.1,246.6 L91.6,246.4 L92.1,246.3 L92.6,246.2 L93.1,246.1 L93.6,245.9 L94.1,245.8 L94.6,245.7 L95.1,245.6 L95.6,245.4 L96.1,245.3 L96.6,245.2 L97.1,245.1 L97.6,245.0 L98.1,244.8 L98.6,244.7 L99.1,244.6 L99.6,244.5 L100.1,244.3 L100.6,244.2 L101.1,244.1 L101.6,244.0 L102.1,243.8 L102.6,243.7 L103.1,243.6 L103.6,243.5 L104.1,243.4 L104.6,243.2 L105.1,243.1 L105.6,243.0 L106.1,242.9 L106.6,242.8 L107.1,242.6 L107.6,242.5 L108.1,242.4 L108.6,242.3 L109.1,242.1 L109.6,242.0 L110.1,241.9 L110.6,241.8 L111.1,241.7 L111.6,241.5 L112.1,241.4 L112.6,241.3 L113.1,241.2 L113.6,241.1 L114.1,240.9 L114.6,240.8 L115.1,240.7 L115.6,240.6 L116.1,240.5 L116.6,240.3 L117.1,240.2 L117.6,240.1 L118.1,240.0 L118.6,239.9 L119.1,239.7 L119.6,239.6 L120.1,239.5 L120.6,239.4 L121.1,239.3 L121.6,239.2 L122.1,239.0 L122.6,238.9 L123.1,238.8 L123.6,238.7 L124.1,238.6 L124.6,238.4 L125.1,238.3 L125.6,238.2 L126.1,238.1 L126.6,238.0 L127.1,237.9 L127.6,237.7 L128.1,237.6 L128.6,237.5 L129.1,237.4 L129.6,237.3 L130.1,237.2 L130.6,237.0 L131.1,236.9 L131.6,236.8 L132.1,236.7 L132.6,236.6 L133.1,236.5 L133.6,236.3 L134.1,236.2 L134.6,236.1 L135.1,236.0 L135.6,235.9 L136.1,235.8 L136.6,235.7 L137.1,235.5 L137.6,235.4 L138.1,235.3 L138.6,235.2 L139.1,235.1 L139.6,235.0 L140.1,234.9 L140.6,234.7 L141.1,234.6 L141.6,234.5 L142.1,234.4 L142.6,234.3 L143.1,234.2 L143.6,234.1 L144.1,233.9 L144.6,233.8 L145.1,233.7 L145.6,233.6 L146.1,233.5 L146.6,233.4 L147.1,233.3 L147.6,233.2 L148.1,233.0 L148.6,232.9 L149.1,232.8 L149.6,232.7 L150.1,232.6 L150.6,232.5 L151.1,232.4 L151.6,232.3 L152.1,232.2 L152.6,232.0 L153.1,231.9 L153.6,231.8 L154.1,231.7 L154.6,231.6 L155.1,231.5 L155.6,231.4 L156.1,231.3 L156.6,231.2 L157.1,231.0 L157.6,230.9 L158.1,230.8 L158.6,230.7 L159.1,230.6 L159.6,230.5 L160.1,230.4 L160.6,230.3 L161.1,230.2 L161.6,230.1 L162.1,230.0 L162.6,229.9 L163.1,229.7 L163.6,229.6 L164.1,229.5 L164.6,229.4 L165.1,229.3 L165.6,229.2 L166.1,229.1 L166.6,229.0 L167.1,228.9 L167.6,228.8 L168.1,228.7 L168.6,228.6 L169.1,228.5 L169.6,228.4 L170.1,228.3 L170.6,228.1 L171.1,228.0 L171.6,227.9 L172.1,227.8 L172.6,227.7 L173.1,227.6 L173.6,227.5 L174.1,227.4 L174.6,227.3 L175.1,227.2 L175.6,227.1 L176.1,227.0 L176.6,226.9 L177.1,226.8 L177.6,226.7 L178.1,226.6 L178.6,226.5 L179.1,226.4 L179.6,226.3 L180.1,226.2 L180.6,226.1 L181.1,226.0 L181.6,225.9 L182.1,225.8 L182.6,225.7 L183.1,225.6 L183.6,225.5 L184.1,225.4 L184.6,225.3 L185.1,225.2 L185.6,225.1 L186.1,225.0 L186.6,224.9 L187.1,224.8 L187.6,224.7 L188.1,224.6 L188.6,224.5 L189.1,224.4 L189.6,224.3 L190.1,224.2 L190.6,224.1 L191.1,224.0 L191.6,223.9 L192.1,223.8 L192.6,223.7 L193.1,223.6 L193.6,223.5 L194.1,223.4 L194.6,223.3 L195.1,223.2 L195.6,223.1 L196.1,223.0 L196.6,222.9 L197.1,222.8 L197.6,222.7 L198.1,222.6 L198.6,222.5 L199.1,222.4 L199.6,222.3 L200.1,222.2 L200.6,222.1 L201.1,222.0 L201.6,222.0 L202.1,221.9 L202.6,221.8 L203.1,221.7 L203.6,221.6 L204.1,221.5 L204.6,221.4 L205.1,221.3 L205.6,221.2 L206.1,221.1 L206.6,221.0 L207.1,220.9 L207.6,220.8 L208.1,220.7 L208.6,220.7 L209.1,220.6 L209.6,220.5 L210.1,220.4 L210.6,220.3 L211.1,220.2 L211.6,220.1 L212.1,220.0 L212.6,219.9 L213.1,219.8 L213.6,219.8 L214.1,219.7 L214.6,219.6 L215.1,219.5 L215.6,219.4 L216.1,219.3 L216.6,219.2 L217.1,219.1 L217.6,219.0 L218.1,219.0 L218.6,218.9 L219.1,218.8 L219.6,218.7 L220.1,218.6 L220.6,218.5 L221.1,218.4 L221.6,218.4 L222.1,218.3 L222.6,218.2 L223.1,218.1 L223.6,218.0 L224.1,217.9 L224.6,217.8 L225.1,217.8 L225.6,217.7 L226.1,217.6 L226.6,217.5 L227.1,217.4 L227.6,217.3 L228.1,217.3 L228.6,217.2 L229.1,217.1 L229.6,217.0 L230.1,216.9 L230.6,216.8 L231.1,216.8 L231.6,216.7 L232.1,216.6 L232.6,216.5 L233.1,216.4 L233.6,216.4 L234.1,216.3 L234.6,216.2 L235.1,216.1 L235.6,216.0 L236.1,216.0 L236.6,215.9 L237.1,215.8 L237.6,215.7 L238.1,215.6" fill="none" stroke="#0b5e12" stroke-width="3.5"/>
<line x1="75" y1="259.6" x2="86" y2="259.6" stroke="#ccc" stroke-width="1.5"/>
<path d="M68.7,259.8 L75.5,257.4 L75.5,262.2 Z" fill="#000"/>
<line x1="159" y1="270.4" x2="173.5" y2="270.4" stroke="#bbb" stroke-width="1"/>
<path d="M152.8,270.3 L159.6,268 L159.6,272.6 Z" fill="#000"/>
<line x1="203.7" y1="225.3" x2="221" y2="225.3" stroke="#bbb" stroke-width="1"/>
<path d="M226.6,225.3 L220.2,223.2 L220.2,227.4 Z" fill="#000"/>
<rect x="305.8" y="201.8" width="190.8" height="147.59999999999997" fill="none" stroke="#c6c6c6" stroke-width="1.2"/>
<line x1="337.60" y1="349.4" x2="337.60" y2="345.4" stroke="#b8b8b8" stroke-width="1"/>
<line x1="337.60" y1="201.8" x2="337.60" y2="205.8" stroke="#b8b8b8" stroke-width="1"/>
<line x1="369.40" y1="349.4" x2="369.40" y2="345.4" stroke="#b8b8b8" stroke-width="1"/>
<line x1="369.40" y1="201.8" x2="369.40" y2="205.8" stroke="#b8b8b8" stroke-width="1"/>
<line x1="401.20" y1="349.4" x2="401.20" y2="345.4" stroke="#b8b8b8" stroke-width="1"/>
<line x1="401.20" y1="201.8" x2="401.20" y2="205.8" stroke="#b8b8b8" stroke-width="1"/>
<line x1="433.00" y1="349.4" x2="433.00" y2="345.4" stroke="#b8b8b8" stroke-width="1"/>
<line x1="433.00" y1="201.8" x2="433.00" y2="205.8" stroke="#b8b8b8" stroke-width="1"/>
<line x1="464.80" y1="349.4" x2="464.80" y2="345.4" stroke="#b8b8b8" stroke-width="1"/>
<line x1="464.80" y1="201.8" x2="464.80" y2="205.8" stroke="#b8b8b8" stroke-width="1"/>
<line x1="305.8" y1="319.88" x2="309.8" y2="319.88" stroke="#b8b8b8" stroke-width="1"/>
<line x1="496.6" y1="319.88" x2="492.6" y2="319.88" stroke="#b8b8b8" stroke-width="1"/>
<line x1="305.8" y1="290.36" x2="309.8" y2="290.36" stroke="#b8b8b8" stroke-width="1"/>
<line x1="496.6" y1="290.36" x2="492.6" y2="290.36" stroke="#b8b8b8" stroke-width="1"/>
<line x1="305.8" y1="260.84" x2="309.8" y2="260.84" stroke="#b8b8b8" stroke-width="1"/>
<line x1="496.6" y1="260.84" x2="492.6" y2="260.84" stroke="#b8b8b8" stroke-width="1"/>
<line x1="305.8" y1="231.32" x2="309.8" y2="231.32" stroke="#b8b8b8" stroke-width="1"/>
<line x1="496.6" y1="231.32" x2="492.6" y2="231.32" stroke="#b8b8b8" stroke-width="1"/>
<text x="305.80" y="361.50" font-size="12" text-anchor="middle" font-weight="normal" fill="#111" stroke="#111" stroke-width="0.5" >0</text>
<text x="337.60" y="361.50" font-size="12" text-anchor="middle" font-weight="normal" fill="#111" stroke="#111" stroke-width="0.5" >50</text>
<text x="369.40" y="361.50" font-size="12" text-anchor="middle" font-weight="normal" fill="#111" stroke="#111" stroke-width="0.5" >100</text>
<text x="401.20" y="361.50" font-size="12" text-anchor="middle" font-weight="normal" fill="#111" stroke="#111" stroke-width="0.5" >150</text>
<text x="433.00" y="361.50" font-size="12" text-anchor="middle" font-weight="normal" fill="#111" stroke="#111" stroke-width="0.5" >200</text>
<text x="464.80" y="361.50" font-size="12" text-anchor="middle" font-weight="normal" fill="#111" stroke="#111" stroke-width="0.5" >250</text>
<text x="496.60" y="361.50" font-size="12" text-anchor="middle" font-weight="normal" fill="#111" stroke="#111" stroke-width="0.5" >300</text>
<text x="302.00" y="350.80" font-size="12" text-anchor="end" font-weight="normal" fill="#111" stroke="#111" stroke-width="0.5" >0</text>
<text x="302.00" y="321.28" font-size="12" text-anchor="end" font-weight="normal" fill="#111" stroke="#111" stroke-width="0.5" >1</text>
<text x="302.00" y="291.76" font-size="12" text-anchor="end" font-weight="normal" fill="#111" stroke="#111" stroke-width="0.5" >2</text>
<text x="302.00" y="262.24" font-size="12" text-anchor="end" font-weight="normal" fill="#111" stroke="#111" stroke-width="0.5" >3</text>
<text x="302.00" y="232.72" font-size="12" text-anchor="end" font-weight="normal" fill="#111" stroke="#111" stroke-width="0.5" >4</text>
<text x="302.00" y="203.20" font-size="12" text-anchor="end" font-weight="normal" fill="#111" stroke="#111" stroke-width="0.5" >5</text>
<text x="401.00" y="376.30" font-size="13.5" text-anchor="middle" font-weight="bold" fill="#111" stroke="#111" stroke-width="0.25" >T (K)</text>
<text transform="translate(285.6,271.5) rotate(-90)" font-size="14" font-weight="bold" text-anchor="middle" fill="#111">M (emu/g)</text>
<text x="495.50" y="213.00" font-size="14" text-anchor="end" font-weight="normal" fill="#111" stroke="#111" stroke-width="0.5" >d)</text>
<text x="401.10" y="228.00" font-size="12.5" text-anchor="start" font-weight="bold" fill="#e0000f" stroke="#e0000f" stroke-width="0.25" >C/S</text>
<path d="M307.8,338.7 L307.9,338.7 L307.9,338.7 L308.0,338.7 L308.1,338.6 L308.1,338.6 L308.2,338.6 L308.3,338.6 L308.4,338.6 L308.4,338.6 L308.5,338.6 L308.6,338.5 L308.6,338.5 L308.7,338.5 L308.8,338.5 L308.8,338.5 L308.9,338.5 L309.0,338.5 L309.0,338.4 L309.1,338.4 L309.2,338.4 L309.2,338.4 L309.3,338.4 L309.4,338.4 L309.4,338.4 L309.5,338.3 L309.6,338.3 L309.6,338.3 L309.7,338.3 L309.8,338.3 L309.9,338.3 L309.9,338.3 L310.0,338.2 L310.1,338.2 L310.1,338.2 L310.2,338.2 L310.3,338.2 L310.3,338.2 L310.4,338.1 L310.5,338.1 L310.5,338.1 L310.6,338.1 L310.7,338.1 L310.8,338.1 L310.8,338.1 L310.9,338.0 L311.0,338.0 L311.0,338.0 L311.1,338.0 L311.2,338.0 L311.3,338.0 L311.3,337.9 L311.4,337.9 L311.5,337.9 L311.6,337.9 L311.6,337.9 L311.7,337.9 L311.8,337.9 L311.8,337.8 L311.9,337.8 L312.0,337.8 L312.1,337.8 L312.2,337.8 L312.3,337.7 L312.4,337.7 L312.5,337.7 L312.6,337.7 L312.7,337.7 L312.8,337.6 L312.8,337.6 L312.9,337.6 L313.0,337.6 L313.1,337.6 L313.2,337.5 L313.3,337.5 L313.4,337.5 L313.5,337.5 L313.6,337.4 L313.7,337.4 L313.8,337.4 L313.9,337.4 L314.0,337.4 L314.1,337.3 L314.2,337.3 L314.3,337.3 L314.4,337.3 L314.6,337.2 L314.7,337.2 L314.8,337.2 L314.9,337.2 L315.0,337.2 L315.1,337.1 L315.2,337.1 L315.3,337.1 L315.4,337.1 L315.5,337.0 L315.6,337.0 L315.7,337.0 L315.8,337.0 L315.9,336.9 L316.0,336.9 L316.1,336.9 L316.2,336.9 L316.3,336.9 L316.4,336.8 L316.5,336.8 L316.6,336.8 L316.7,336.7 L316.8,336.7 L316.9,336.7 L317.0,336.7 L317.1,336.6 L317.2,336.6 L317.3,336.6 L317.4,336.6 L317.5,336.5 L317.6,336.5 L317.7,336.5 L317.8,336.5 L317.9,336.4 L318.0,336.4 L318.1,336.4 L318.2,336.3 L318.3,336.3 L318.4,336.3 L318.5,336.3 L318.5,336.2 L318.6,336.2 L318.7,336.2 L318.8,336.2 L318.9,336.1 L319.0,336.1 L319.1,336.1 L319.2,336.1 L319.3,336.0 L319.4,336.0 L319.4,336.0 L319.5,335.9 L319.6,335.9 L319.7,335.9 L319.8,335.9 L319.9,335.8 L320.0,335.8 L320.1,335.8 L320.2,335.8 L320.2,335.7 L320.3,335.7 L320.4,335.7 L320.5,335.6 L320.6,335.6 L320.7,335.6 L320.8,335.6 L320.9,335.5 L320.9,335.5 L321.0,335.5 L321.1,335.4 L321.2,335.4 L321.3,335.4 L321.4,335.3 L321.5,335.3 L321.5,335.3 L321.6,335.2 L321.7,335.2 L321.8,335.2 L321.9,335.1 L322.0,335.1 L322.1,335.1 L322.2,335.0 L322.2,335.0 L322.3,334.9 L322.4,334.9 L322.5,334.9 L322.6,334.8 L322.7,334.8 L322.8,334.8 L322.9,334.7 L322.9,334.7 L323.0,334.6 L323.1,334.6 L323.2,334.5 L323.3,334.5 L323.4,334.4 L323.5,334.4 L323.6,334.3 L323.7,334.3 L323.8,334.2 L323.9,334.2 L324.0,334.1 L324.1,334.1 L324.2,334.0 L324.3,334.0 L324.4,333.9 L324.5,333.8 L324.6,333.8 L324.7,333.7 L324.8,333.7 L324.9,333.6 L325.0,333.5 L325.1,333.5 L325.2,333.4 L325.3,333.4 L325.4,333.3 L325.5,333.2 L325.6,333.2 L325.7,333.1 L325.8,333.0 L325.9,333.0 L326.0,332.9 L326.1,332.8 L326.2,332.8 L326.3,332.7 L326.4,332.6 L326.5,332.6 L326.6,332.5 L326.7,332.4 L326.8,332.3 L326.9,332.3 L327.0,332.2 L327.1,332.1 L327.2,332.1 L327.3,332.0 L327.4,331.9 L327.5,331.8 L327.6,331.8 L327.7,331.7 L327.8,331.6 L327.9,331.5 L328.0,331.5 L328.1,331.4 L328.2,331.3 L328.3,331.3 L328.4,331.2 L328.5,331.1 L328.6,331.0 L328.7,331.0 L328.8,330.9 L328.9,330.8 L329.0,330.7 L329.1,330.7 L329.2,330.6 L329.3,330.5 L329.4,330.4 L329.5,330.3 L329.6,330.3 L329.7,330.2 L329.8,330.1 L329.9,330.0 L330.0,330.0 L330.1,329.9 L330.2,329.8 L330.3,329.7 L330.4,329.6 L330.5,329.6 L330.6,329.5 L330.7,329.4 L330.8,329.3 L330.9,329.2 L331.0,329.1 L331.0,329.1 L331.1,329.0 L331.2,328.9 L331.3,328.8 L331.4,328.7 L331.5,328.6 L331.6,328.6 L331.7,328.5 L331.8,328.4 L331.9,328.3 L332.0,328.2 L332.1,328.1 L332.2,328.1 L332.3,328.0 L332.4,327.9 L332.5,327.8 L332.6,327.7 L332.7,327.6 L332.7,327.5 L332.8,327.4 L332.9,327.4 L333.0,327.3 L333.1,327.2 L333.2,327.1 L333.3,327.0 L333.4,326.9 L333.5,326.8 L333.6,326.7 L333.6,326.6 L333.7,326.5 L333.8,326.4 L333.9,326.4 L334.0,326.3 L334.1,326.2 L334.2,326.1 L334.2,326.0 L334.3,325.9 L334.4,325.8 L334.5,325.7 L334.6,325.6 L334.6,325.5 L334.7,325.4 L334.8,325.3 L334.9,325.2 L335.0,325.1 L335.0,325.0 L335.1,324.9 L335.2,324.8 L335.3,324.7 L335.3,324.6 L335.4,324.5 L335.5,324.4 L335.6,324.3 L335.6,324.2 L335.7,324.1 L335.8,324.0 L335.8,323.9 L335.9,323.8 L336.0,323.7 L336.0,323.6 L336.1,323.4 L336.2,323.3 L336.2,323.2 L336.3,323.1 L336.4,323.0 L336.4,322.9 L336.5,322.8 L336.6,322.7 L336.6,322.6 L336.7,322.5 L336.8,322.4 L336.8,322.2 L336.9,322.1 L337.0,322.0 L337.0,321.9 L337.1,321.8 L337.1,321.7 L337.2,321.6 L337.3,321.5 L337.3,321.4 L337.4,321.2 L337.5,321.1 L337.5,321.0 L337.6,320.9 L337.6,320.8 L337.7,320.7 L337.8,320.6 L337.8,320.4 L337.9,320.3 L337.9,320.2 L338.0,320.1 L338.1,320.0 L338.1,319.9 L338.2,319.7 L338.2,319.6 L338.3,319.5 L338.3,319.4 L338.4,319.3 L338.5,319.2 L338.5,319.1 L338.6,318.9 L338.6,318.8 L338.7,318.7 L338.8,318.6 L338.8,318.5 L338.9,318.3 L338.9,318.2 L339.0,318.1 L339.1,318.0 L339.1,317.8 L339.2,317.7 L339.2,317.6 L339.3,317.4 L339.4,317.3 L339.4,317.2 L339.5,317.1 L339.5,316.9 L339.6,316.8 L339.6,316.7 L339.7,316.6 L339.8,316.4 L339.8,316.3 L339.9,316.2 L339.9,316.0 L340.0,315.9 L340.0,315.8 L340.1,315.6 L340.1,315.5 L340.2,315.4 L340.3,315.2 L340.3,315.1 L340.4,315.0 L340.4,314.9 L340.5,314.7 L340.5,314.6 L340.6,314.5 L340.6,314.3 L340.7,314.2 L340.7,314.1 L340.8,313.9 L340.8,313.8 L340.9,313.7 L341.0,313.5 L341.0,313.4 L341.1,313.3 L341.1,313.1 L341.2,313.0 L341.2,312.8 L341.3,312.7 L341.3,312.6 L341.4,312.4 L341.4,312.3 L341.5,312.2 L341.5,312.0 L341.6,311.9 L341.6,311.8 L341.7,311.6 L341.7,311.5 L341.8,311.3 L341.8,311.2 L341.9,311.1 L341.9,310.9 L342.0,310.8 L342.1,310.7 L342.1,310.5 L342.2,310.4 L342.2,310.2 L342.3,310.1 L342.3,309.9 L342.4,309.8 L342.4,309.6 L342.5,309.5 L342.6,309.4 L342.6,309.2 L342.7,309.1 L342.7,308.9 L342.8,308.8 L342.8,308.6 L342.9,308.5 L342.9,308.3 L343.0,308.2 L343.0,308.1 L343.1,307.9 L343.2,307.8 L343.2,307.6 L343.3,307.5 L343.3,307.3 L343.4,307.2 L343.4,307.1 L343.5,306.9 L343.5,306.8 L343.6,306.6 L343.6,306.5 L343.7,306.3 L343.7,306.2 L343.8,306.0 L343.8,305.9 L343.9,305.7 L344.0,305.6 L344.0,305.4 L344.1,305.3 L344.1,305.1 L344.2,304.9 L344.2,304.8 L344.3,304.6 L344.3,304.5 L344.4,304.3 L344.4,304.2 L344.5,304.0 L344.5,303.8 L344.6,303.7 L344.6,303.5 L344.7,303.3 L344.7,303.2 L344.8,303.0 L344.8,302.8 L344.9,302.7 L344.9,302.5 L345.0,302.3 L345.0,302.1 L345.1,302.0 L345.1,301.8 L345.2,301.6 L345.3,301.3 L345.3,301.1 L345.4,300.8 L345.5,300.5 L345.6,300.3 L345.6,300.0 L345.7,299.7 L345.8,299.4 L345.8,299.1 L345.9,298.9 L346.0,298.6 L346.1,298.3 L346.1,298.0 L346.2,297.7 L346.3,297.3 L346.3,297.0 L346.4,296.7 L346.5,296.4 L346.5,296.1 L346.6,295.8 L346.7,295.5 L346.7,295.1 L346.8,294.8 L346.9,294.5 L347.0,294.2 L347.0,293.8 L347.1,293.5 L347.2,293.2 L347.2,292.9 L347.3,292.5 L347.4,292.2 L347.4,291.9 L347.5,291.5 L347.6,291.2 L347.6,290.9 L347.7,290.5 L347.8,290.2 L347.8,289.9 L347.9,289.6 L348.0,289.2 L348.0,288.9 L348.1,288.6 L348.2,288.2 L348.2,287.9 L348.3,287.6 L348.4,287.3 L348.4,287.0 L348.5,286.6 L348.6,286.3 L348.6,286.0 L348.7,285.7 L348.8,285.4 L348.8,285.1 L348.9,284.8 L349.0,284.5 L349.0,284.2 L349.1,283.9 L349.2,283.6 L349.2,283.3 L349.3,283.0 L349.4,282.8 L349.4,282.5 L349.5,282.3 L349.5,282.0 L349.6,281.8 L349.6,281.6 L349.7,281.3 L349.8,281.1 L349.8,280.9 L349.9,280.6 L349.9,280.4 L350.0,280.2 L350.0,279.9 L350.1,279.7 L350.1,279.5 L350.2,279.3 L350.3,279.0 L350.3,278.8 L350.4,278.6 L350.4,278.4 L350.5,278.1 L350.5,277.9 L350.6,277.7 L350.7,277.5 L350.7,277.3 L350.8,277.0 L350.8,276.8 L350.9,276.6 L350.9,276.4 L351.0,276.2 L351.0,275.9 L351.1,275.7 L351.1,275.5 L351.2,275.3 L351.3,275.1 L351.3,274.9 L351.4,274.6 L351.4,274.4 L351.5,274.2 L351.5,274.0 L351.6,273.8 L351.6,273.5 L351.7,273.3 L351.8,273.1 L351.8,272.9 L351.9,272.7 L351.9,272.4 L352.0,272.2 L352.0,272.0 L352.1,271.8 L352.1,271.6 L352.2,271.3 L352.2,271.1 L352.3,270.9 L352.3,270.6 L352.4,270.4 L352.4,270.2 L352.5,270.0 L352.5,269.7 L352.6,269.5 L352.7,269.3 L352.7,269.0 L352.8,268.8 L352.8,268.5 L352.9,268.3 L352.9,268.0 L353.0,267.8 L353.0,267.5 L353.1,267.3 L353.1,267.0 L353.2,266.8 L353.2,266.5 L353.3,266.3 L353.3,266.0 L353.4,265.8 L353.4,265.5 L353.5,265.2 L353.5,265.0 L353.6,264.7 L353.7,264.5 L353.7,264.2 L353.8,264.0 L353.8,263.7 L353.9,263.5 L353.9,263.2 L354.0,262.9 L354.0,262.7 L354.1,262.4 L354.1,262.2 L354.2,261.9 L354.2,261.7 L354.3,261.4 L354.3,261.1 L354.4,260.9 L354.4,260.6 L354.5,260.4 L354.5,260.1 L354.6,259.9 L354.6,259.6 L354.7,259.4 L354.7,259.1 L354.8,258.8 L354.8,258.6 L354.9,258.3 L354.9,258.1 L355.0,257.8 L355.0,257.6 L355.1,257.3 L355.1,257.1 L355.2,256.8 L355.2,256.6 L355.3,256.3 L355.3,256.0 L355.4,255.8 L355.4,255.5 L355.5,255.3 L355.5,255.0 L355.6,254.8 L355.6,254.5 L355.7,254.3 L355.8,254.1 L355.8,253.8 L355.9,253.6 L355.9,253.3 L356.0,253.1 L356.0,252.9 L356.1,252.6 L356.1,252.4 L356.2,252.1 L356.2,251.9 L356.3,251.7 L356.3,251.4 L356.4,251.2 L356.4,250.9 L356.5,250.7 L356.5,250.5 L356.6,250.2 L356.6,250.0 L356.7,249.7 L356.8,249.5 L356.8,249.2 L356.9,249.0 L356.9,248.8 L357.0,248.5 L357.0,248.3 L357.1,248.0 L357.1,247.8 L357.2,247.6 L357.2,247.3 L357.3,247.1 L357.3,246.9 L357.4,246.6 L357.5,246.4 L357.5,246.1 L357.6,245.9 L357.6,245.7 L357.7,245.4 L357.7,245.2 L357.8,245.0 L357.8,244.7 L357.9,244.5 L358.0,244.3 L358.0,244.1 L358.1,243.8 L358.1,243.6 L358.2,243.4 L358.2,243.1 L358.3,242.9 L358.4,242.7 L358.4,242.5 L358.5,242.2 L358.5,242.0 L358.6,241.8 L358.6,241.6 L358.7,241.4 L358.8,241.2 L358.8,240.9 L358.9,240.7 L358.9,240.5 L359.0,240.3 L359.1,240.1 L359.1,239.9 L359.2,239.8 L359.2,239.6 L359.3,239.4 L359.3,239.2 L359.4,239.1 L359.4,238.9 L359.5,238.7 L359.5,238.6 L359.6,238.4 L359.6,238.2 L359.7,238.1 L359.7,237.9 L359.8,237.7 L359.8,237.6 L359.9,237.4 L359.9,237.2 L360.0,237.1 L360.0,236.9 L360.1,236.7 L360.2,236.6 L360.2,236.4 L360.3,236.3 L360.3,236.1 L360.4,235.9 L360.4,235.8 L360.5,235.6 L360.5,235.5 L360.6,235.3 L360.6,235.1 L360.7,235.0 L360.8,234.8 L360.8,234.7 L360.9,234.5 L360.9,234.4 L361.0,234.2 L361.0,234.0 L361.1,233.9 L361.1,233.7 L361.2,233.6 L361.3,233.4 L361.3,233.3 L361.4,233.1 L361.4,233.0 L361.5,232.8 L361.5,232.6 L361.6,232.5 L361.7,232.3 L361.7,232.2 L361.8,232.0 L361.8,231.9 L361.9,231.7 L361.9,231.5 L362.0,231.4 L362.1,231.2 L362.1,231.1 L362.2,230.9 L362.2,230.8 L362.3,230.6 L362.4,230.4 L362.4,230.3 L362.5,230.1 L362.5,230.0 L362.6,229.8 L362.6,229.7 L362.7,229.5 L362.8,229.3 L362.8,229.2 L362.9,229.0 L362.9,228.9 L363.0,228.7 L363.1,228.5 L363.1,228.4 L363.2,228.2 L363.2,228.1 L363.3,227.9 L363.3,227.7 L363.4,227.6 L363.5,227.4 L363.5,227.3 L363.6,227.1 L363.6,226.9 L363.7,226.8 L363.8,226.6 L363.8,226.5 L363.9,226.3 L363.9,226.1 L364.0,226.0 L364.1,225.8 L364.1,225.7 L364.2,225.5 L364.2,225.4 L364.3,225.2 L364.4,225.0 L364.4,224.9 L364.5,224.7 L364.6,224.6 L364.6,224.4 L364.7,224.3 L364.7,224.1 L364.8,224.0 L364.9,223.8 L364.9,223.7 L365.0,223.5 L365.1,223.4 L365.1,223.2 L365.2,223.1 L365.3,222.9 L365.3,222.8 L365.4,222.6 L365.5,222.5 L365.5,222.4 L365.6,222.2 L365.7,222.1 L365.7,221.9 L365.8,221.8 L365.9,221.7 L365.9,221.5 L366.0,221.4 L366.1,221.3 L366.1,221.2 L366.2,221.1 L366.2,221.0 L366.3,220.8 L366.3,220.7 L366.4,220.6 L366.5,220.5 L366.5,220.4 L366.6,220.3 L366.6,220.2 L366.7,220.1 L366.8,220.0 L366.8,219.9 L366.9,219.8 L366.9,219.7 L367.0,219.6 L367.0,219.5 L367.1,219.3 L367.2,219.2 L367.2,219.1 L367.3,219.0 L367.3,218.9 L367.4,218.8 L367.5,218.7 L367.5,218.6 L367.6,218.5 L367.6,218.4 L367.7,218.3 L367.8,218.2 L367.8,218.1 L367.9,218.0 L367.9,217.9 L368.0,217.8 L368.1,217.7 L368.1,217.6 L368.2,217.6 L368.3,217.5 L368.3,217.4 L368.4,217.3 L368.5,217.2 L368.5,217.1 L368.6,217.0 L368.7,216.9 L368.7,216.8 L368.8,216.7 L368.9,216.7 L368.9,216.6 L369.0,216.5 L369.1,216.4 L369.1,216.3 L369.2,216.2 L369.3,216.1 L369.3,216.1 L369.4,216.0 L369.5,215.9 L369.6,215.8 L369.6,215.8 L369.7,215.7 L369.8,215.6 L369.9,215.5 L369.9,215.5 L370.0,215.4 L370.1,215.3 L370.2,215.3 L370.2,215.2 L370.3,215.1 L370.4,215.1 L370.5,215.0 L370.5,214.9 L370.6,214.9 L370.7,214.8 L370.8,214.7 L370.9,214.7 L370.9,214.6 L371.0,214.6 L371.1,214.5 L371.2,214.4 L371.3,214.4 L371.4,214.3 L371.4,214.3 L371.5,214.2 L371.6,214.2 L371.7,214.1 L371.8,214.0 L371.9,214.0 L371.9,213.9 L372.0,213.9 L372.1,213.8 L372.2,213.8 L372.3,213.7 L372.4,213.7 L372.5,213.6 L372.5,213.6 L372.6,213.5 L372.7,213.5 L372.8,213.4 L372.9,213.4 L373.0,213.3 L373.1,213.3 L373.1,213.2 L373.2,213.2 L373.3,213.2 L373.4,213.1 L373.5,213.1 L373.6,213.0 L373.7,213.0 L373.7,213.0 L373.8,212.9 L373.9,212.9 L374.0,212.9 L374.1,212.8 L374.1,212.8 L374.2,212.8 L374.3,212.7 L374.4,212.7 L374.5,212.7 L374.5,212.7 L374.6,212.6 L374.7,212.6 L374.8,212.6 L374.8,212.6 L374.9,212.5 L374.9,212.5 L375.0,212.5 L375.0,212.5 L375.1,212.5 L375.2,212.5 L375.2,212.5 L375.3,212.5 L375.3,212.5 L375.4,212.4 L375.4,212.4 L375.5,212.4 L375.6,212.4 L375.6,212.4 L375.7,212.4 L375.7,212.4 L375.8,212.4 L375.8,212.4 L375.9,212.4 L375.9,212.4 L376.0,212.4 L376.0,212.4 L376.1,212.4 L376.2,212.4 L376.2,212.4 L376.3,212.4 L376.3,212.4 L376.4,212.4 L376.4,212.4 L376.5,212.4 L376.5,212.4 L376.6,212.4 L376.6,212.4 L376.7,212.4 L376.8,212.4 L376.8,212.4 L376.9,212.4 L376.9,212.4 L377.0,212.4 L377.0,212.4 L377.1,212.4 L377.1,212.4 L377.2,212.4 L377.2,212.4 L377.3,212.4 L377.3,212.4 L377.4,212.4 L377.5,212.4 L377.5,212.4 L377.6,212.4 L377.6,212.4 L377.7,212.4 L377.7,212.4 L377.8,212.4 L377.8,212.4 L377.9,212.4 L377.9,212.4 L378.0,212.4 L378.5,212.7 L379.0,213.0 L379.5,213.3 L380.0,213.7 L380.5,214.0 L381.0,214.4 L381.5,214.8 L382.0,215.1 L382.5,215.5 L383.0,215.9 L383.5,216.3 L384.0,216.8 L384.5,217.2 L385.0,217.6 L385.5,218.0 L386.0,218.5 L386.5,218.9 L387.0,219.4 L387.5,219.9 L388.0,220.3 L388.5,220.8 L389.0,221.3 L389.5,221.8 L390.0,222.3 L390.5,222.8 L391.0,223.3 L391.5,223.8 L392.0,224.3 L392.5,224.8 L393.0,225.4 L393.5,225.9 L394.0,226.4 L394.5,227.0 L395.0,227.5 L395.5,228.0 L396.0,228.6 L396.5,229.1 L397.0,229.6 L397.5,230.2 L398.0,230.7 L398.5,231.3 L399.0,231.8 L399.5,232.4 L400.0,232.9 L400.5,233.5 L401.0,234.0 L401.5,234.5 L402.0,235.1 L402.5,235.6 L403.0,236.2 L403.5,236.7 L404.0,237.2 L404.5,237.8 L405.0,238.3 L405.5,238.8 L406.0,239.4 L406.5,239.9 L407.0,240.4 L407.5,240.9 L408.0,241.5 L408.5,242.0 L409.0,242.5 L409.5,243.0 L410.0,243.5 L410.5,244.0 L411.0,244.5 L411.5,245.0 L412.0,245.5 L412.5,246.0 L413.0,246.5 L413.5,247.0 L414.0,247.5 L414.5,248.0 L415.0,248.5 L415.5,249.0 L416.0,249.4 L416.5,249.9 L417.0,250.4 L417.5,250.9 L418.0,251.3 L418.5,251.8 L419.0,252.3 L419.5,252.7 L420.0,253.2 L420.5,253.6 L421.0,254.1 L421.5,254.5 L422.0,255.0 L422.5,255.4 L423.0,255.8 L423.5,256.3 L424.0,256.7 L424.5,257.1 L425.0,257.6 L425.5,258.0 L426.0,258.4 L426.5,258.8 L427.0,259.2 L427.5,259.6 L428.0,260.0 L428.5,260.4 L429.0,260.8 L429.5,261.2 L430.0,261.6 L430.5,262.0 L431.0,262.4 L431.5,262.8 L432.0,263.1 L432.5,263.5 L433.0,263.9 L433.5,264.3 L434.0,264.6 L434.5,265.0 L435.0,265.4 L435.5,265.7 L436.0,266.1 L436.5,266.4 L437.0,266.8 L437.5,267.1 L438.0,267.5 L438.5,267.8 L439.0,268.2 L439.5,268.5 L440.0,268.8 L440.5,269.2 L441.0,269.5 L441.5,269.8 L442.0,270.2 L442.5,270.5 L443.0,270.8 L443.5,271.1 L444.0,271.5 L444.5,271.8 L445.0,272.1 L445.5,272.4 L446.0,272.7 L446.5,273.0 L447.0,273.3 L447.5,273.6 L448.0,273.9 L448.5,274.2 L449.0,274.5 L449.5,274.8 L450.0,275.1 L450.5,275.4 L451.0,275.7 L451.5,276.0 L452.0,276.3 L452.5,276.6 L453.0,276.8 L453.5,277.1 L454.0,277.4 L454.5,277.7 L455.0,278.0 L455.5,278.2 L456.0,278.5 L456.5,278.8 L457.0,279.1 L457.5,279.3 L458.0,279.6 L458.5,279.9 L459.0,280.1 L459.5,280.4 L460.0,280.7 L460.5,280.9 L461.0,281.2 L461.5,281.5 L462.0,281.7 L462.5,282.0 L463.0,282.2 L463.5,282.5 L464.0,282.8 L464.5,283.0 L465.0,283.3 L465.5,283.5 L466.0,283.8 L466.5,284.0 L467.0,284.3 L467.5,284.5 L468.0,284.8 L468.5,285.0 L469.0,285.3 L469.5,285.5 L470.0,285.8 L470.5,286.0 L471.0,286.2 L471.5,286.5 L472.0,286.7 L472.5,287.0 L473.0,287.2 L473.5,287.5 L474.0,287.7 L474.5,288.0 L475.0,288.2 L475.5,288.4 L476.0,288.7 L476.5,288.9 L477.0,289.2 L477.5,289.4 L478.0,289.6 L478.5,289.9 L479.0,290.1 L479.5,290.4 L480.0,290.6 L480.5,290.8 L481.0,291.1 L481.5,291.3 L482.0,291.6 L482.5,291.8 L483.0,292.1 L483.5,292.3 L484.0,292.5 L484.5,292.8 L485.0,293.0 L485.5,293.3 L486.0,293.5 L486.5,293.8 L487.0,294.0 L487.5,294.2 L488.0,294.5 L488.5,294.7 L489.0,295.0 L489.5,295.2 L490.0,295.5 L490.5,295.7 L491.0,296.0 L491.5,296.2 L492.0,296.5 L492.5,296.7 L493.0,297.0 L493.5,297.2 L494.0,297.5 L494.5,297.7 L495.0,298.0 L495.5,298.2 L496.0,298.5 L496.5,298.7" fill="none" stroke="#fad4d4" stroke-width="3.2"/>
<g fill="none" stroke="#f19c9c" stroke-width="0.5"><circle cx="307.80" cy="338.70" r="1.25"/><circle cx="309.40" cy="338.36" r="1.25"/><circle cx="311.00" cy="338.02" r="1.25"/><circle cx="312.60" cy="337.67" r="1.25"/><circle cx="314.20" cy="337.33" r="1.25"/><circle cx="315.80" cy="336.97" r="1.25"/><circle cx="317.40" cy="336.57" r="1.25"/><circle cx="319.00" cy="336.11" r="1.25"/><circle cx="320.60" cy="335.61" r="1.25"/><circle cx="322.20" cy="335.01" r="1.25"/><circle cx="323.80" cy="334.24" r="1.25"/><circle cx="325.40" cy="333.30" r="1.25"/><circle cx="327.00" cy="332.23" r="1.25"/><circle cx="328.60" cy="331.05" r="1.25"/><circle cx="330.20" cy="329.77" r="1.25"/><circle cx="331.80" cy="328.41" r="1.25"/><circle cx="333.40" cy="326.88" r="1.25"/><circle cx="335.00" cy="325.04" r="1.25"/><circle cx="336.60" cy="322.66" r="1.25"/><circle cx="338.20" cy="319.69" r="1.25"/><circle cx="339.80" cy="316.33" r="1.25"/><circle cx="341.40" cy="312.37" r="1.25"/><circle cx="343.00" cy="308.18" r="1.25"/><circle cx="344.60" cy="303.61" r="1.25"/><circle cx="346.20" cy="297.62" r="1.25"/><circle cx="347.80" cy="290.05" r="1.25"/><circle cx="349.40" cy="282.57" r="1.25"/><circle cx="351.00" cy="276.10" r="1.25"/><circle cx="352.60" cy="269.50" r="1.25"/><circle cx="354.20" cy="261.68" r="1.25"/><circle cx="355.80" cy="253.84" r="1.25"/><circle cx="357.40" cy="246.61" r="1.25"/><circle cx="359.00" cy="240.30" r="1.25"/><circle cx="360.60" cy="235.28" r="1.25"/><circle cx="362.20" cy="230.87" r="1.25"/><circle cx="363.80" cy="226.52" r="1.25"/><circle cx="365.40" cy="222.62" r="1.25"/><circle cx="367.00" cy="219.52" r="1.25"/><circle cx="368.60" cy="216.98" r="1.25"/><circle cx="370.20" cy="215.23" r="1.25"/><circle cx="371.80" cy="214.02" r="1.25"/><circle cx="373.40" cy="213.12" r="1.25"/><circle cx="375.00" cy="212.52" r="1.25"/><circle cx="376.60" cy="212.39" r="1.25"/><circle cx="378.20" cy="212.52" r="1.25"/><circle cx="379.80" cy="213.55" r="1.25"/><circle cx="381.40" cy="214.69" r="1.25"/><circle cx="383.00" cy="215.93" r="1.25"/><circle cx="384.60" cy="217.26" r="1.25"/><circle cx="386.20" cy="218.67" r="1.25"/><circle cx="387.80" cy="220.15" r="1.25"/><circle cx="389.40" cy="221.70" r="1.25"/><circle cx="391.00" cy="223.30" r="1.25"/><circle cx="392.60" cy="224.95" r="1.25"/><circle cx="394.20" cy="226.63" r="1.25"/><circle cx="395.80" cy="228.35" r="1.25"/><circle cx="397.40" cy="230.08" r="1.25"/><circle cx="399.00" cy="231.82" r="1.25"/><circle cx="400.60" cy="233.56" r="1.25"/><circle cx="402.20" cy="235.30" r="1.25"/><circle cx="403.80" cy="237.02" r="1.25"/><circle cx="405.40" cy="238.73" r="1.25"/><circle cx="407.00" cy="240.41" r="1.25"/><circle cx="408.60" cy="242.07" r="1.25"/><circle cx="410.20" cy="243.71" r="1.25"/><circle cx="411.80" cy="245.33" r="1.25"/><circle cx="413.40" cy="246.92" r="1.25"/><circle cx="415.00" cy="248.48" r="1.25"/><circle cx="416.60" cy="250.01" r="1.25"/><circle cx="418.20" cy="251.52" r="1.25"/><circle cx="419.80" cy="252.99" r="1.25"/><circle cx="421.40" cy="254.44" r="1.25"/><circle cx="423.00" cy="255.84" r="1.25"/><circle cx="424.60" cy="257.22" r="1.25"/><circle cx="426.20" cy="258.56" r="1.25"/><circle cx="427.80" cy="259.86" r="1.25"/><circle cx="429.40" cy="261.14" r="1.25"/><circle cx="431.00" cy="262.38" r="1.25"/><circle cx="432.60" cy="263.59" r="1.25"/><circle cx="434.20" cy="264.78" r="1.25"/><circle cx="435.80" cy="265.93" r="1.25"/><circle cx="437.40" cy="267.06" r="1.25"/><circle cx="439.00" cy="268.16" r="1.25"/><circle cx="440.60" cy="269.24" r="1.25"/><circle cx="442.20" cy="270.29" r="1.25"/><circle cx="443.80" cy="271.32" r="1.25"/><circle cx="445.40" cy="272.33" r="1.25"/><circle cx="447.00" cy="273.32" r="1.25"/><circle cx="448.60" cy="274.29" r="1.25"/><circle cx="450.20" cy="275.23" r="1.25"/><circle cx="451.80" cy="276.16" r="1.25"/><circle cx="453.40" cy="277.07" r="1.25"/><circle cx="455.00" cy="277.97" r="1.25"/><circle cx="456.60" cy="278.85" r="1.25"/><circle cx="458.20" cy="279.72" r="1.25"/><circle cx="459.80" cy="280.57" r="1.25"/><circle cx="461.40" cy="281.41" r="1.25"/><circle cx="463.00" cy="282.24" r="1.25"/><circle cx="464.60" cy="283.06" r="1.25"/><circle cx="466.20" cy="283.87" r="1.25"/><circle cx="467.80" cy="284.67" r="1.25"/><circle cx="469.40" cy="285.46" r="1.25"/><circle cx="471.00" cy="286.25" r="1.25"/><circle cx="472.60" cy="287.03" r="1.25"/><circle cx="474.20" cy="287.81" r="1.25"/><circle cx="475.80" cy="288.58" r="1.25"/><circle cx="477.40" cy="289.36" r="1.25"/><circle cx="479.00" cy="290.13" r="1.25"/><circle cx="480.60" cy="290.90" r="1.25"/><circle cx="482.20" cy="291.67" r="1.25"/><circle cx="483.80" cy="292.44" r="1.25"/><circle cx="485.40" cy="293.22" r="1.25"/><circle cx="487.00" cy="293.99" r="1.25"/><circle cx="488.60" cy="294.78" r="1.25"/><circle cx="490.20" cy="295.57" r="1.25"/><circle cx="491.80" cy="296.36" r="1.25"/><circle cx="493.40" cy="297.17" r="1.25"/><circle cx="495.00" cy="297.98" r="1.25"/></g>
<path d="M307.8,339.7 L307.9,339.7 L308.0,339.7 L308.1,339.7 L308.2,339.7 L308.3,339.7 L308.4,339.7 L308.5,339.7 L308.6,339.7 L308.7,339.7 L308.8,339.7 L308.9,339.7 L309.0,339.7 L309.1,339.7 L309.2,339.7 L309.4,339.7 L309.5,339.7 L309.6,339.7 L309.7,339.7 L309.8,339.7 L309.9,339.7 L310.0,339.7 L310.1,339.7 L310.2,339.7 L310.3,339.7 L310.4,339.7 L310.5,339.7 L310.6,339.7 L310.7,339.7 L310.8,339.7 L310.9,339.7 L311.0,339.7 L311.1,339.7 L311.2,339.7 L311.3,339.7 L311.4,339.7 L311.5,339.7 L311.6,339.7 L311.7,339.7 L311.8,339.7 L311.9,339.7 L312.0,339.7 L312.1,339.7 L312.3,339.7 L312.4,339.7 L312.5,339.7 L312.6,339.7 L312.7,339.7 L312.8,339.7 L312.9,339.7 L313.0,339.7 L313.1,339.7 L313.2,339.7 L313.3,339.7 L313.4,339.7 L313.5,339.7 L313.6,339.7 L313.7,339.7 L313.8,339.7 L313.9,339.7 L314.0,339.7 L314.1,339.7 L314.2,339.7 L314.3,339.7 L314.4,339.7 L314.5,339.7 L314.6,339.7 L314.7,339.7 L314.8,339.7 L314.9,339.7 L315.0,339.7 L315.1,339.7 L315.2,339.7 L315.3,339.7 L315.4,339.7 L315.5,339.7 L315.6,339.7 L315.7,339.7 L315.8,339.7 L315.9,339.7 L316.0,339.7 L316.1,339.7 L316.2,339.7 L316.3,339.7 L316.4,339.7 L316.5,339.7 L316.6,339.7 L316.7,339.7 L316.8,339.7 L316.9,339.7 L317.0,339.7 L317.1,339.7 L317.2,339.7 L317.3,339.7 L317.4,339.7 L317.5,339.7 L317.6,339.7 L317.7,339.7 L317.8,339.6 L317.9,339.6 L318.0,339.6 L318.1,339.6 L318.2,339.6 L318.3,339.6 L318.4,339.6 L318.5,339.6 L318.6,339.6 L318.7,339.6 L318.8,339.6 L318.9,339.6 L319.0,339.6 L319.1,339.6 L319.2,339.6 L319.3,339.6 L319.4,339.6 L319.5,339.6 L319.6,339.6 L319.7,339.6 L319.8,339.6 L319.9,339.6 L320.0,339.6 L320.1,339.6 L320.2,339.6 L320.3,339.6 L320.4,339.6 L320.5,339.6 L320.6,339.6 L320.7,339.6 L320.8,339.6 L320.9,339.6 L321.0,339.6 L321.1,339.6 L321.2,339.6 L321.3,339.6 L321.4,339.6 L321.5,339.6 L321.6,339.6 L321.7,339.6 L321.8,339.6 L321.9,339.6 L322.0,339.6 L322.1,339.6 L322.2,339.6 L322.3,339.6 L322.4,339.6 L322.5,339.6 L322.6,339.6 L322.7,339.6 L322.8,339.6 L322.9,339.6 L323.0,339.6 L323.1,339.6 L323.2,339.6 L323.3,339.6 L323.4,339.6 L323.5,339.6 L323.6,339.6 L323.7,339.6 L323.8,339.6 L323.9,339.6 L324.0,339.6 L324.1,339.6 L324.2,339.6 L324.3,339.6 L324.4,339.6 L324.5,339.6 L324.6,339.6 L324.7,339.6 L324.8,339.5 L324.9,339.5 L325.0,339.5 L325.1,339.5 L325.2,339.5 L325.2,339.5 L325.3,339.5 L325.4,339.5 L325.5,339.5 L325.6,339.4 L325.7,339.4 L325.8,339.4 L325.9,339.4 L326.0,339.4 L326.1,339.4 L326.2,339.4 L326.2,339.3 L326.3,339.3 L326.4,339.3 L326.5,339.3 L326.6,339.3 L326.7,339.3 L326.7,339.2 L326.8,339.2 L326.9,339.2 L327.0,339.2 L327.1,339.2 L327.1,339.2 L327.2,339.1 L327.3,339.1 L327.4,339.1 L327.5,339.1 L327.6,339.1 L327.6,339.0 L327.7,339.0 L327.8,339.0 L327.9,339.0 L328.0,338.9 L328.0,338.9 L328.1,338.9 L328.2,338.9 L328.3,338.9 L328.3,338.8 L328.4,338.8 L328.5,338.8 L328.6,338.8 L328.7,338.7 L328.7,338.7 L328.8,338.7 L328.9,338.6 L329.0,338.6 L329.0,338.6 L329.1,338.6 L329.2,338.5 L329.3,338.5 L329.4,338.5 L329.4,338.4 L329.5,338.4 L329.6,338.4 L329.7,338.3 L329.7,338.3 L329.8,338.3 L329.9,338.2 L330.0,338.2 L330.0,338.1 L330.1,338.1 L330.2,338.1 L330.2,338.0 L330.3,338.0 L330.4,337.9 L330.5,337.9 L330.5,337.8 L330.6,337.8 L330.7,337.7 L330.8,337.7 L330.8,337.6 L330.9,337.6 L331.0,337.5 L331.1,337.5 L331.1,337.4 L331.2,337.4 L331.3,337.3 L331.4,337.2 L331.5,337.2 L331.5,337.1 L331.6,337.0 L331.7,337.0 L331.8,336.9 L331.8,336.8 L331.9,336.8 L332.0,336.7 L332.0,336.6 L332.1,336.6 L332.2,336.5 L332.3,336.4 L332.3,336.4 L332.4,336.3 L332.5,336.2 L332.6,336.1 L332.6,336.1 L332.7,336.0 L332.8,335.9 L332.8,335.8 L332.9,335.8 L333.0,335.7 L333.0,335.6 L333.1,335.5 L333.2,335.4 L333.2,335.4 L333.3,335.3 L333.4,335.2 L333.4,335.1 L333.5,335.0 L333.6,334.9 L333.6,334.8 L333.7,334.8 L333.8,334.7 L333.8,334.6 L333.9,334.5 L334.0,334.4 L334.0,334.3 L334.1,334.2 L334.2,334.1 L334.2,334.0 L334.3,334.0 L334.4,333.9 L334.4,333.8 L334.5,333.7 L334.6,333.6 L334.6,333.5 L334.7,333.4 L334.7,333.3 L334.8,333.2 L334.9,333.1 L335.0,333.0 L335.0,332.8 L335.1,332.7 L335.2,332.6 L335.3,332.4 L335.3,332.3 L335.4,332.2 L335.5,332.0 L335.6,331.9 L335.6,331.7 L335.7,331.6 L335.8,331.5 L335.8,331.3 L335.9,331.2 L336.0,331.0 L336.0,330.9 L336.1,330.7 L336.2,330.6 L336.2,330.4 L336.3,330.3 L336.4,330.1 L336.4,329.9 L336.5,329.8 L336.6,329.6 L336.6,329.5 L336.7,329.3 L336.8,329.2 L336.8,329.0 L336.9,328.8 L337.0,328.7 L337.0,328.5 L337.1,328.3 L337.1,328.2 L337.2,328.0 L337.3,327.9 L337.3,327.7 L337.4,327.5 L337.5,327.4 L337.5,327.2 L337.6,327.0 L337.6,326.9 L337.7,326.7 L337.8,326.5 L337.8,326.4 L337.9,326.2 L337.9,326.0 L338.0,325.9 L338.1,325.7 L338.1,325.5 L338.2,325.4 L338.2,325.2 L338.3,325.0 L338.3,324.9 L338.4,324.7 L338.5,324.5 L338.5,324.4 L338.6,324.2 L338.6,324.1 L338.7,323.9 L338.8,323.7 L338.8,323.6 L338.9,323.4 L338.9,323.2 L339.0,323.1 L339.1,322.9 L339.1,322.7 L339.2,322.5 L339.2,322.4 L339.3,322.2 L339.4,322.0 L339.4,321.9 L339.5,321.7 L339.5,321.5 L339.6,321.4 L339.7,321.2 L339.7,321.0 L339.8,320.8 L339.8,320.7 L339.9,320.5 L339.9,320.3 L340.0,320.1 L340.1,320.0 L340.1,319.8 L340.2,319.6 L340.2,319.5 L340.3,319.3 L340.3,319.1 L340.4,318.9 L340.4,318.8 L340.5,318.6 L340.6,318.4 L340.6,318.2 L340.7,318.1 L340.7,317.9 L340.8,317.7 L340.8,317.5 L340.9,317.4 L340.9,317.2 L341.0,317.0 L341.0,316.8 L341.1,316.6 L341.1,316.5 L341.2,316.3 L341.2,316.1 L341.3,315.9 L341.3,315.8 L341.4,315.6 L341.5,315.4 L341.5,315.2 L341.6,315.0 L341.6,314.9 L341.7,314.7 L341.7,314.5 L341.8,314.3 L341.8,314.1 L341.9,313.9 L341.9,313.8 L342.0,313.6 L342.0,313.4 L342.1,313.2 L342.1,313.0 L342.2,312.8 L342.2,312.6 L342.3,312.4 L342.3,312.2 L342.4,312.0 L342.4,311.8 L342.4,311.7 L342.5,311.5 L342.5,311.3 L342.6,311.1 L342.6,310.9 L342.7,310.7 L342.7,310.5 L342.8,310.3 L342.8,310.1 L342.9,309.9 L342.9,309.7 L342.9,309.5 L343.0,309.3 L343.0,309.1 L343.1,308.9 L343.1,308.7 L343.2,308.5 L343.2,308.3 L343.2,308.1 L343.3,307.9 L343.3,307.7 L343.4,307.5 L343.4,307.3 L343.5,307.1 L343.5,306.9 L343.5,306.7 L343.6,306.5 L343.6,306.3 L343.7,306.1 L343.7,305.9 L343.8,305.7 L343.8,305.5 L343.8,305.3 L343.9,305.1 L343.9,304.9 L344.0,304.7 L344.0,304.4 L344.1,304.2 L344.1,304.0 L344.1,303.8 L344.2,303.6 L344.2,303.4 L344.3,303.2 L344.3,303.0 L344.4,302.7 L344.4,302.5 L344.5,302.3 L344.5,302.1 L344.6,301.9 L344.6,301.6 L344.7,301.4 L344.7,301.2 L344.8,300.9 L344.8,300.6 L344.9,300.4 L344.9,300.1 L345.0,299.8 L345.1,299.5 L345.1,299.2 L345.2,298.9 L345.3,298.6 L345.3,298.3 L345.4,298.0 L345.4,297.7 L345.5,297.4 L345.6,297.1 L345.6,296.8 L345.7,296.5 L345.8,296.2 L345.8,295.9 L345.9,295.6 L346.0,295.3 L346.0,294.9 L346.1,294.6 L346.2,294.3 L346.2,294.0 L346.3,293.7 L346.4,293.4 L346.4,293.0 L346.5,292.7 L346.6,292.4 L346.6,292.1 L346.7,291.8 L346.8,291.5 L346.8,291.1 L346.9,290.8 L347.0,290.5 L347.0,290.2 L347.1,289.9 L347.2,289.5 L347.2,289.2 L347.3,288.9 L347.4,288.6 L347.4,288.3 L347.5,288.0 L347.6,287.7 L347.6,287.3 L347.7,287.0 L347.8,286.7 L347.8,286.4 L347.9,286.1 L348.0,285.8 L348.0,285.5 L348.1,285.2 L348.1,284.9 L348.2,284.6 L348.3,284.3 L348.3,284.0 L348.4,283.8 L348.5,283.5 L348.5,283.2 L348.6,282.9 L348.7,282.7 L348.7,282.4 L348.8,282.2 L348.8,282.0 L348.9,281.7 L348.9,281.5 L349.0,281.3 L349.0,281.0 L349.1,280.8 L349.1,280.6 L349.2,280.4 L349.3,280.1 L349.3,279.9 L349.4,279.7 L349.4,279.5 L349.5,279.2 L349.5,279.0 L349.6,278.8 L349.6,278.6 L349.7,278.4 L349.7,278.2 L349.8,277.9 L349.8,277.7 L349.9,277.5 L350.0,277.3 L350.0,277.1 L350.1,276.9 L350.1,276.7 L350.2,276.4 L350.2,276.2 L350.3,276.0 L350.3,275.8 L350.4,275.6 L350.4,275.4 L350.5,275.2 L350.5,274.9 L350.6,274.7 L350.7,274.5 L350.7,274.3 L350.8,274.1 L350.8,273.9 L350.9,273.7 L350.9,273.4 L351.0,273.2 L351.0,273.0 L351.1,272.8 L351.1,272.6 L351.2,272.4 L351.2,272.2 L351.3,271.9 L351.3,271.7 L351.4,271.5 L351.4,271.3 L351.5,271.1 L351.5,270.8 L351.6,270.6 L351.6,270.4 L351.7,270.2 L351.7,269.9 L351.8,269.7 L351.9,269.5 L351.9,269.2 L352.0,269.0 L352.0,268.7 L352.1,268.5 L352.1,268.2 L352.2,268.0 L352.2,267.7 L352.3,267.5 L352.3,267.2 L352.4,267.0 L352.4,266.7 L352.5,266.5 L352.5,266.2 L352.6,266.0 L352.6,265.7 L352.7,265.5 L352.7,265.2 L352.8,265.0 L352.8,264.7 L352.9,264.4 L352.9,264.2 L353.0,263.9 L353.0,263.7 L353.1,263.4 L353.1,263.2 L353.2,262.9 L353.2,262.6 L353.3,262.4 L353.3,262.1 L353.4,261.9 L353.4,261.6 L353.5,261.4 L353.5,261.1 L353.6,260.8 L353.6,260.6 L353.7,260.3 L353.7,260.1 L353.8,259.8 L353.8,259.6 L353.9,259.3 L354.0,259.1 L354.0,258.8 L354.1,258.5 L354.1,258.3 L354.2,258.0 L354.2,257.8 L354.3,257.5 L354.3,257.3 L354.4,257.0 L354.4,256.8 L354.5,256.5 L354.5,256.3 L354.6,256.0 L354.6,255.8 L354.7,255.5 L354.7,255.2 L354.8,255.0 L354.8,254.7 L354.9,254.5 L355.0,254.3 L355.0,254.0 L355.1,253.8 L355.1,253.5 L355.2,253.3 L355.2,253.0 L355.3,252.8 L355.3,252.6 L355.4,252.3 L355.4,252.1 L355.5,251.8 L355.5,251.6 L355.6,251.3 L355.7,251.1 L355.7,250.8 L355.8,250.6 L355.8,250.3 L355.9,250.1 L355.9,249.9 L356.0,249.6 L356.0,249.4 L356.1,249.1 L356.1,248.9 L356.2,248.6 L356.3,248.4 L356.3,248.1 L356.4,247.9 L356.4,247.6 L356.5,247.4 L356.5,247.2 L356.6,246.9 L356.6,246.7 L356.7,246.4 L356.8,246.2 L356.8,246.0 L356.9,245.7 L356.9,245.5 L357.0,245.2 L357.0,245.0 L357.1,244.8 L357.2,244.5 L357.2,244.3 L357.3,244.1 L357.3,243.8 L357.4,243.6 L357.5,243.4 L357.5,243.2 L357.6,242.9 L357.6,242.7 L357.7,242.5 L357.7,242.2 L357.8,242.0 L357.9,241.8 L357.9,241.6 L358.0,241.4 L358.1,241.2 L358.1,240.9 L358.2,240.7 L358.2,240.5 L358.3,240.3 L358.4,240.1 L358.4,240.0 L358.5,239.8 L358.5,239.6 L358.6,239.5 L358.6,239.3 L358.7,239.1 L358.7,239.0 L358.8,238.8 L358.8,238.6 L358.9,238.5 L358.9,238.3 L359.0,238.2 L359.0,238.0 L359.1,237.8 L359.1,237.7 L359.2,237.5 L359.2,237.4 L359.3,237.2 L359.3,237.1 L359.4,236.9 L359.4,236.8 L359.5,236.6 L359.6,236.5 L359.6,236.3 L359.7,236.1 L359.7,236.0 L359.8,235.8 L359.8,235.7 L359.9,235.5 L359.9,235.4 L360.0,235.2 L360.0,235.1 L360.1,235.0 L360.2,234.8 L360.2,234.7 L360.3,234.5 L360.3,234.4 L360.4,234.2 L360.4,234.1 L360.5,233.9 L360.6,233.8 L360.6,233.6 L360.7,233.5 L360.7,233.3 L360.8,233.2 L360.8,233.0 L360.9,232.9 L361.0,232.7 L361.0,232.6 L361.1,232.4 L361.1,232.3 L361.2,232.1 L361.2,232.0 L361.3,231.9 L361.4,231.7 L361.4,231.6 L361.5,231.4 L361.5,231.3 L361.6,231.1 L361.7,230.9 L361.7,230.8 L361.8,230.6 L361.8,230.5 L361.9,230.3 L362.0,230.2 L362.0,230.0 L362.1,229.9 L362.1,229.7 L362.2,229.6 L362.3,229.4 L362.3,229.3 L362.4,229.1 L362.4,229.0 L362.5,228.8 L362.6,228.6 L362.6,228.5 L362.7,228.3 L362.8,228.2 L362.8,228.0 L362.9,227.9 L362.9,227.7 L363.0,227.6 L363.1,227.4 L363.1,227.3 L363.2,227.1 L363.3,226.9 L363.3,226.8 L363.4,226.6 L363.5,226.5 L363.5,226.3 L363.6,226.2 L363.7,226.0 L363.7,225.9 L363.8,225.7 L363.8,225.6 L363.9,225.4 L364.0,225.3 L364.0,225.1 L364.1,225.0 L364.2,224.8 L364.2,224.7 L364.3,224.5 L364.4,224.4 L364.4,224.3 L364.5,224.1 L364.6,224.0 L364.7,223.8 L364.7,223.7 L364.8,223.5 L364.9,223.4 L364.9,223.3 L365.0,223.1 L365.1,223.0 L365.1,222.9 L365.2,222.7 L365.3,222.6 L365.4,222.5 L365.4,222.3 L365.5,222.2 L365.6,222.1 L365.6,222.0 L365.7,221.9 L365.7,221.8 L365.8,221.7 L365.9,221.6 L365.9,221.4 L366.0,221.3 L366.1,221.2 L366.1,221.1 L366.2,221.0 L366.2,220.9 L366.3,220.8 L366.4,220.7 L366.4,220.6 L366.5,220.5 L366.5,220.4 L366.6,220.3 L366.7,220.2 L366.7,220.1 L366.8,220.0 L366.9,219.9 L366.9,219.8 L367.0,219.7 L367.0,219.6 L367.1,219.5 L367.2,219.4 L367.2,219.3 L367.3,219.2 L367.4,219.1 L367.4,219.0 L367.5,218.9 L367.6,218.8 L367.6,218.7 L367.7,218.6 L367.8,218.5 L367.8,218.4 L367.9,218.4 L368.0,218.3 L368.0,218.2 L368.1,218.1 L368.2,218.0 L368.2,217.9 L368.3,217.8 L368.4,217.7 L368.4,217.6 L368.5,217.6 L368.6,217.5 L368.7,217.4 L368.7,217.3 L368.8,217.2 L368.9,217.1 L369.0,217.1 L369.0,217.0 L369.1,216.9 L369.2,216.8 L369.3,216.7 L369.3,216.7 L369.4,216.6 L369.5,216.5 L369.6,216.4 L369.7,216.4 L369.7,216.3 L369.8,216.2 L369.9,216.1 L370.0,216.1 L370.0,216.0 L370.1,215.9 L370.2,215.9 L370.3,215.8 L370.4,215.7 L370.5,215.7 L370.5,215.6 L370.6,215.5 L370.7,215.5 L370.8,215.4 L370.9,215.3 L371.0,215.3 L371.1,215.2 L371.2,215.1 L371.2,215.1 L371.3,215.0 L371.4,214.9 L371.5,214.9 L371.6,214.8 L371.7,214.8 L371.8,214.7 L371.9,214.6 L372.0,214.6 L372.1,214.5 L372.2,214.5 L372.2,214.4 L372.3,214.4 L372.4,214.3 L372.5,214.2 L372.6,214.2 L372.7,214.1 L372.8,214.1 L372.9,214.0 L373.0,214.0 L373.1,213.9 L373.2,213.9 L373.2,213.8 L373.3,213.8 L373.4,213.8 L373.5,213.7 L373.6,213.7 L373.7,213.6 L373.8,213.6 L373.9,213.5 L374.0,213.5 L374.0,213.5 L374.1,213.4 L374.2,213.4 L374.3,213.4 L374.4,213.3 L374.5,213.3 L374.5,213.3 L374.6,213.2 L374.7,213.2 L374.8,213.2 L374.8,213.2 L374.9,213.1 L374.9,213.1 L375.0,213.1 L375.0,213.1 L375.1,213.1 L375.2,213.1 L375.2,213.0 L375.3,213.0 L375.3,213.0 L375.4,213.0 L375.4,213.0 L375.5,213.0 L375.6,213.0 L375.6,213.0 L375.7,213.0 L375.7,213.0 L375.8,212.9 L375.8,212.9 L375.9,212.9 L375.9,212.9 L376.0,212.9 L376.1,212.9 L376.1,212.9 L376.2,212.9 L376.2,212.9 L376.3,212.9 L376.3,212.9 L376.4,212.9 L376.4,212.9 L376.5,212.9 L376.5,212.9 L376.6,212.9 L376.6,212.9 L376.7,212.9 L376.8,212.9 L376.8,212.9 L376.9,212.9 L376.9,212.9 L377.0,212.9 L377.0,212.9 L377.1,212.9 L377.1,212.9 L377.2,212.9 L377.2,212.9 L377.3,212.9 L377.3,212.9 L377.4,212.8 L377.5,212.8 L377.5,212.8 L377.6,212.8 L377.6,212.8 L377.7,212.8 L377.7,212.8 L377.8,212.8 L377.8,212.8 L377.9,212.8 L377.9,212.8 L378.0,212.8 L378.5,213.0 L379.0,213.3 L379.5,213.6 L380.0,213.9 L380.5,214.2 L381.0,214.5 L381.5,214.8 L382.0,215.1 L382.5,215.5 L383.0,215.8 L383.5,216.2 L384.0,216.6 L384.5,217.0 L385.0,217.4 L385.5,217.8 L386.0,218.2 L386.5,218.6 L387.0,219.0 L387.5,219.5 L388.0,219.9 L388.5,220.4 L389.0,220.9 L389.5,221.3 L390.0,221.8 L390.5,222.3 L391.0,222.8 L391.5,223.3 L392.0,223.8 L392.5,224.3 L393.0,224.8 L393.5,225.3 L394.0,225.8 L394.5,226.4 L395.0,226.9 L395.5,227.4 L396.0,227.9 L396.5,228.5 L397.0,229.0 L397.5,229.5 L398.0,230.1 L398.5,230.6 L399.0,231.2 L399.5,231.7 L400.0,232.3 L400.5,232.8 L401.0,233.3 L401.5,233.9 L402.0,234.4 L402.5,235.0 L403.0,235.5 L403.5,236.0 L404.0,236.6 L404.5,237.1 L405.0,237.6 L405.5,238.1 L406.0,238.7 L406.5,239.2 L407.0,239.7 L407.5,240.2 L408.0,240.7 L408.5,241.3 L409.0,241.8 L409.5,242.3 L410.0,242.8 L410.5,243.3 L411.0,243.8 L411.5,244.3 L412.0,244.8 L412.5,245.3 L413.0,245.8 L413.5,246.3 L414.0,246.8 L414.5,247.2 L415.0,247.7 L415.5,248.2 L416.0,248.7 L416.5,249.2 L417.0,249.6 L417.5,250.1 L418.0,250.6 L418.5,251.0 L419.0,251.5 L419.5,251.9 L420.0,252.4 L420.5,252.8 L421.0,253.3 L421.5,253.7 L422.0,254.2 L422.5,254.6 L423.0,255.0 L423.5,255.5 L424.0,255.9 L424.5,256.3 L425.0,256.7 L425.5,257.2 L426.0,257.6 L426.5,258.0 L427.0,258.4 L427.5,258.8 L428.0,259.2 L428.5,259.6 L429.0,260.0 L429.5,260.4 L430.0,260.8 L430.5,261.2 L431.0,261.5 L431.5,261.9 L432.0,262.3 L432.5,262.7 L433.0,263.1 L433.5,263.4 L434.0,263.8 L434.5,264.2 L435.0,264.5 L435.5,264.9 L436.0,265.2 L436.5,265.6 L437.0,265.9 L437.5,266.3 L438.0,266.6 L438.5,267.0 L439.0,267.3 L439.5,267.7 L440.0,268.0 L440.5,268.3 L441.0,268.7 L441.5,269.0 L442.0,269.3 L442.5,269.6 L443.0,270.0 L443.5,270.3 L444.0,270.6 L444.5,270.9 L445.0,271.2 L445.5,271.5 L446.0,271.8 L446.5,272.1 L447.0,272.4 L447.5,272.8 L448.0,273.1 L448.5,273.4 L449.0,273.6 L449.5,273.9 L450.0,274.2 L450.5,274.5 L451.0,274.8 L451.5,275.1 L452.0,275.4 L452.5,275.7 L453.0,276.0 L453.5,276.2 L454.0,276.5 L454.5,276.8 L455.0,277.1 L455.5,277.3 L456.0,277.6 L456.5,277.9 L457.0,278.1 L457.5,278.4 L458.0,278.7 L458.5,278.9 L459.0,279.2 L459.5,279.5 L460.0,279.7 L460.5,280.0 L461.0,280.2 L461.5,280.5 L462.0,280.8 L462.5,281.0 L463.0,281.3 L463.5,281.5 L464.0,281.8 L464.5,282.0 L465.0,282.3 L465.5,282.5 L466.0,282.8 L466.5,283.0 L467.0,283.2 L467.5,283.5 L468.0,283.7 L468.5,284.0 L469.0,284.2 L469.5,284.4 L470.0,284.7 L470.5,284.9 L471.0,285.2 L471.5,285.4 L472.0,285.6 L472.5,285.9 L473.0,286.1 L473.5,286.3 L474.0,286.6 L474.5,286.8 L475.0,287.0 L475.5,287.3 L476.0,287.5 L476.5,287.7 L477.0,288.0 L477.5,288.2 L478.0,288.4 L478.5,288.6 L479.0,288.9 L479.5,289.1 L480.0,289.3 L480.5,289.5 L481.0,289.8 L481.5,290.0 L482.0,290.2 L482.5,290.5 L483.0,290.7 L483.5,290.9 L484.0,291.1 L484.5,291.4 L485.0,291.6 L485.5,291.8 L486.0,292.0 L486.5,292.3 L487.0,292.5 L487.5,292.7 L488.0,292.9 L488.5,293.2 L489.0,293.4 L489.5,293.6 L490.0,293.9 L490.5,294.1 L491.0,294.3 L491.5,294.5 L492.0,294.8 L492.5,295.0 L493.0,295.2 L493.5,295.5 L494.0,295.7 L494.5,295.9 L495.0,296.1 L495.5,296.4 L496.0,296.6 L496.5,296.8" fill="none" stroke="#111" stroke-width="2.4"/>
</svg></body></html>
